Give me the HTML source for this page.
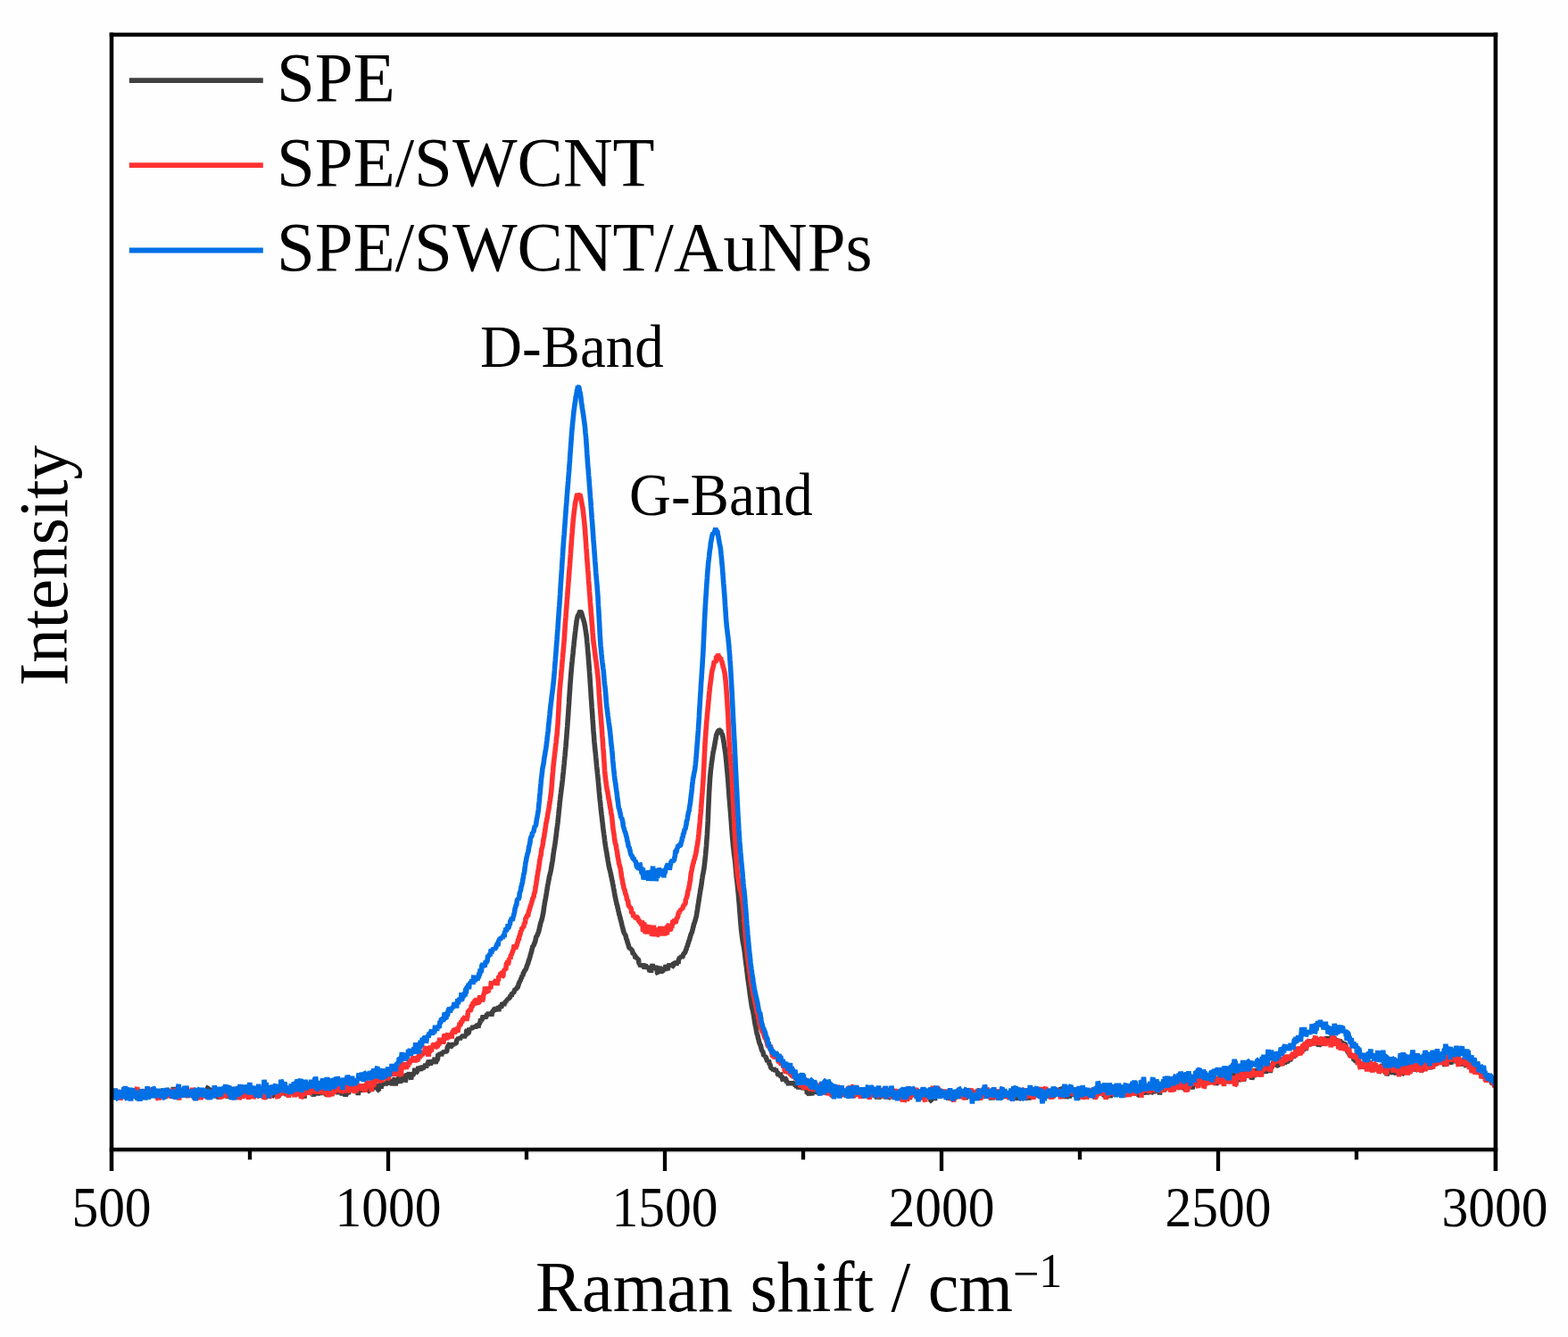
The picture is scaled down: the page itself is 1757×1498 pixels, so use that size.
<!DOCTYPE html>
<html lang="en"><head><meta charset="utf-8"><title>Raman spectra</title>
<style>html,body{margin:0;padding:0;background:#fff;overflow:hidden}svg{display:block}text{font-family:"Liberation Serif","Times New Roman",serif;fill:#000}</style></head><body>
<svg width="1757" height="1498" viewBox="0 0 1757 1498">
<rect width="1757" height="1498" fill="#fefefe"/>
<clipPath id="cp"><rect x="125" y="41" width="1550.5" height="1245"/></clipPath>
<g fill="none" stroke-linejoin="bevel" stroke-linecap="butt" stroke-width="5.6" clip-path="url(#cp)">
<path stroke="#404040" d="M125.0,1226.9 125.5,1230.5 125.9,1224.1 126.4,1229.5 126.8,1223.0 127.3,1225.0 127.7,1230.7 128.2,1223.4 128.6,1222.4 129.1,1220.0 129.5,1225.7 130.0,1226.4 130.4,1223.5 130.9,1227.2 131.3,1222.1 131.8,1222.9 132.2,1222.1 132.7,1224.1 133.1,1222.5 133.6,1223.8 134.0,1225.6 134.5,1222.5 134.9,1224.1 135.4,1229.9 135.8,1227.6 136.3,1228.9 136.7,1228.2 137.2,1223.4 137.6,1221.5 138.1,1227.2 138.5,1223.5 139.0,1218.6 139.4,1223.9 139.9,1223.0 140.3,1225.0 140.8,1225.7 141.2,1220.2 141.7,1223.0 142.1,1222.0 142.6,1222.3 143.0,1224.2 143.5,1228.2 143.9,1227.1 144.4,1227.0 144.8,1232.4 145.3,1228.0 145.7,1226.7 146.2,1228.5 146.6,1222.7 147.1,1229.6 147.5,1228.0 148.0,1230.0 148.4,1227.0 148.9,1227.3 149.3,1222.2 149.8,1221.9 150.2,1227.0 150.7,1226.1 151.1,1225.4 151.6,1228.6 152.0,1224.7 152.5,1221.0 152.9,1223.6 153.4,1228.1 153.8,1227.6 154.3,1223.4 154.7,1222.3 155.2,1227.1 155.6,1228.2 156.1,1226.7 156.5,1226.0 157.0,1224.9 157.4,1226.2 157.9,1221.3 158.3,1223.3 158.8,1223.5 159.2,1226.8 159.7,1227.2 160.1,1229.8 160.6,1230.7 161.0,1229.5 161.5,1225.3 161.9,1228.2 162.4,1223.4 162.8,1227.7 163.3,1221.2 163.7,1227.6 164.2,1223.1 164.6,1221.6 165.1,1222.0 165.5,1224.4 166.0,1222.0 166.4,1223.3 166.9,1219.8 167.3,1221.0 167.8,1222.4 168.2,1220.9 168.7,1224.0 169.1,1223.1 169.6,1227.3 170.0,1224.1 170.5,1222.7 170.9,1226.5 171.4,1224.2 171.8,1226.8 172.3,1222.9 172.7,1226.0 173.2,1223.1 173.6,1229.2 174.1,1224.5 174.5,1225.6 175.0,1223.9 175.4,1222.1 175.9,1228.1 176.3,1226.2 176.8,1220.8 177.2,1223.3 177.7,1224.4 178.1,1225.1 178.6,1222.2 179.0,1227.9 179.5,1225.3 179.9,1226.4 180.4,1225.1 180.8,1223.5 181.3,1224.4 181.7,1220.3 182.2,1221.4 182.6,1221.1 183.1,1224.2 183.5,1220.4 184.0,1224.7 184.4,1227.4 184.9,1224.1 185.3,1229.4 185.8,1226.8 186.2,1225.6 186.7,1227.9 187.1,1224.6 187.6,1223.8 188.0,1222.4 188.5,1225.4 188.9,1225.1 189.4,1226.3 189.8,1226.6 190.3,1227.8 190.7,1225.0 191.2,1228.3 191.6,1226.1 192.1,1221.0 192.5,1225.6 193.0,1224.7 193.4,1222.7 193.9,1226.8 194.3,1217.9 194.8,1224.7 195.2,1221.8 195.7,1220.7 196.1,1223.5 196.6,1228.7 197.0,1223.9 197.5,1228.3 197.9,1226.4 198.4,1226.5 198.8,1224.0 199.3,1222.1 199.7,1222.3 200.2,1224.8 200.6,1221.5 201.1,1226.5 201.5,1225.9 202.0,1221.4 202.4,1226.2 202.9,1222.7 203.3,1225.2 203.8,1222.2 204.2,1221.1 204.7,1224.2 205.1,1228.2 205.6,1225.5 206.0,1227.7 206.5,1222.1 206.9,1221.6 207.4,1224.0 207.8,1220.0 208.3,1220.6 208.7,1228.9 209.2,1223.8 209.6,1228.1 210.1,1224.3 210.5,1225.0 211.0,1226.0 211.4,1225.6 211.9,1229.0 212.3,1223.3 212.8,1224.5 213.2,1224.5 213.7,1224.3 214.1,1220.8 214.6,1221.9 215.0,1224.1 215.5,1222.5 215.9,1224.0 216.4,1221.5 216.8,1224.6 217.3,1224.5 217.7,1222.9 218.2,1222.6 218.6,1225.2 219.1,1221.0 219.5,1220.8 220.0,1227.5 220.4,1225.9 220.9,1227.0 221.3,1226.6 221.8,1228.5 222.2,1222.5 222.7,1224.1 223.1,1226.6 223.6,1227.4 224.0,1223.8 224.5,1231.1 224.9,1224.5 225.4,1226.9 225.8,1222.7 226.3,1226.3 226.7,1223.7 227.2,1220.1 227.6,1221.9 228.1,1224.0 228.5,1227.8 229.0,1226.6 229.4,1224.0 229.9,1228.5 230.3,1226.5 230.8,1228.0 231.2,1224.5 231.7,1229.4 232.1,1226.5 232.6,1218.3 233.0,1218.1 233.5,1222.3 233.9,1221.6 234.4,1225.0 234.8,1224.0 235.3,1220.7 235.7,1220.3 236.2,1219.1 236.6,1226.4 237.1,1224.8 237.5,1225.5 238.0,1221.5 238.4,1225.0 238.9,1224.0 239.3,1223.2 239.8,1223.2 240.2,1219.8 240.7,1221.7 241.1,1220.9 241.6,1224.0 242.0,1225.5 242.5,1230.1 242.9,1224.3 243.4,1223.2 243.8,1229.3 244.3,1225.6 244.7,1224.5 245.2,1231.5 245.6,1227.6 246.1,1221.8 246.5,1218.8 247.0,1220.6 247.4,1222.8 247.9,1230.5 248.3,1224.2 248.8,1221.6 249.2,1229.5 249.7,1226.8 250.1,1221.3 250.6,1224.4 251.0,1226.4 251.5,1223.9 251.9,1226.8 252.4,1226.2 252.8,1222.4 253.3,1225.5 253.7,1226.7 254.2,1229.6 254.6,1226.3 255.1,1230.4 255.5,1223.6 256.0,1222.5 256.4,1223.3 256.9,1230.8 257.3,1225.8 257.8,1227.0 258.2,1222.5 258.7,1227.1 259.1,1220.2 259.6,1223.3 260.0,1221.7 260.5,1218.0 260.9,1220.9 261.4,1222.5 261.8,1225.2 262.3,1222.4 262.7,1228.2 263.2,1226.2 263.6,1225.8 264.1,1220.0 264.5,1221.7 265.0,1224.9 265.4,1223.9 265.9,1223.2 266.3,1223.3 266.8,1230.3 267.2,1227.1 267.7,1225.4 268.1,1221.3 268.6,1221.1 269.0,1221.6 269.5,1221.6 269.9,1228.4 270.4,1220.5 270.8,1222.8 271.3,1220.9 271.7,1225.3 272.2,1221.5 272.6,1220.6 273.1,1222.2 273.5,1220.6 274.0,1223.0 274.4,1224.0 274.9,1221.3 275.3,1221.4 275.8,1225.8 276.2,1226.9 276.7,1223.8 277.1,1225.3 277.6,1225.1 278.0,1220.7 278.5,1224.5 278.9,1222.2 279.4,1219.7 279.8,1222.1 280.3,1222.2 280.7,1222.6 281.2,1223.6 281.6,1219.6 282.1,1225.2 282.5,1222.2 283.0,1225.5 283.4,1222.8 283.9,1223.9 284.3,1221.0 284.8,1225.2 285.2,1218.6 285.7,1223.2 286.1,1221.1 286.6,1218.5 287.0,1226.7 287.5,1221.4 287.9,1225.9 288.4,1227.3 288.8,1226.3 289.3,1227.1 289.7,1223.8 290.2,1224.6 290.6,1227.6 291.1,1226.9 291.5,1225.8 292.0,1225.8 292.4,1222.6 292.9,1223.8 293.3,1224.4 293.8,1223.5 294.2,1222.9 294.7,1228.9 295.1,1225.8 295.6,1227.0 296.0,1223.1 296.5,1227.5 296.9,1228.5 297.4,1231.4 297.8,1223.0 298.3,1225.0 298.7,1222.2 299.2,1222.6 299.6,1222.6 300.1,1219.6 300.5,1224.0 301.0,1223.2 301.4,1221.7 301.9,1227.0 302.3,1222.5 302.8,1222.2 303.2,1227.3 303.7,1225.1 304.1,1224.4 304.6,1224.8 305.0,1228.4 305.5,1228.1 305.9,1225.4 306.4,1224.1 306.8,1228.2 307.3,1227.1 307.7,1224.8 308.2,1227.4 308.6,1225.6 309.1,1226.8 309.5,1229.1 310.0,1221.0 310.4,1223.0 310.9,1220.3 311.3,1218.0 311.8,1222.6 312.2,1229.3 312.7,1225.4 313.1,1228.0 313.6,1222.6 314.0,1225.7 314.5,1224.0 314.9,1224.2 315.4,1226.8 315.8,1224.0 316.3,1222.7 316.7,1222.7 317.2,1222.6 317.6,1223.3 318.1,1220.8 318.5,1224.5 319.0,1226.7 319.4,1224.3 319.9,1226.7 320.3,1223.9 320.8,1224.8 321.2,1228.2 321.7,1221.5 322.1,1220.7 322.6,1222.0 323.0,1220.3 323.5,1224.5 323.9,1225.5 324.4,1219.8 324.8,1226.7 325.3,1221.9 325.7,1223.7 326.2,1225.9 326.6,1224.4 327.1,1221.6 327.5,1219.9 328.0,1227.2 328.4,1221.5 328.9,1227.1 329.3,1220.3 329.8,1219.6 330.2,1220.9 330.7,1227.7 331.1,1218.7 331.6,1221.4 332.0,1227.2 332.5,1223.4 332.9,1220.3 333.4,1227.9 333.8,1221.2 334.3,1226.1 334.7,1227.1 335.2,1225.7 335.6,1223.7 336.1,1227.2 336.5,1226.2 337.0,1223.3 337.4,1226.5 337.9,1225.5 338.3,1226.8 338.8,1227.1 339.2,1227.3 339.7,1221.6 340.1,1221.4 340.6,1223.9 341.0,1230.6 341.5,1221.5 341.9,1221.0 342.4,1220.4 342.8,1219.3 343.3,1224.3 343.7,1218.5 344.2,1222.6 344.6,1221.2 345.1,1224.9 345.5,1221.8 346.0,1226.3 346.4,1219.9 346.9,1221.8 347.3,1223.5 347.8,1222.3 348.2,1222.9 348.7,1218.5 349.1,1225.1 349.6,1226.8 350.0,1225.7 350.5,1220.1 350.9,1221.5 351.4,1228.7 351.8,1221.4 352.3,1222.8 352.7,1223.9 353.2,1225.5 353.6,1224.2 354.1,1220.0 354.5,1222.8 355.0,1219.9 355.4,1224.3 355.9,1222.8 356.3,1227.3 356.8,1223.2 357.2,1225.2 357.7,1221.7 358.1,1218.2 358.6,1220.0 359.0,1220.8 359.5,1225.3 359.9,1218.0 360.4,1223.9 360.8,1223.9 361.3,1224.9 361.7,1225.1 362.2,1222.9 362.6,1225.3 363.1,1225.1 363.5,1223.9 364.0,1223.8 364.4,1225.4 364.9,1219.8 365.3,1221.3 365.8,1226.6 366.2,1228.1 366.7,1226.4 367.1,1219.2 367.6,1226.2 368.0,1223.9 368.5,1223.9 368.9,1220.4 369.4,1221.5 369.8,1223.3 370.3,1221.4 370.7,1223.9 371.2,1221.2 371.6,1219.1 372.1,1214.7 372.5,1220.2 373.0,1221.5 373.4,1215.3 373.9,1224.9 374.3,1220.7 374.8,1220.1 375.2,1216.0 375.7,1214.2 376.1,1217.2 376.6,1216.4 377.0,1219.2 377.5,1219.2 377.9,1221.4 378.4,1226.1 378.8,1220.7 379.3,1218.3 379.7,1220.5 380.2,1221.3 380.6,1220.7 381.1,1218.8 381.5,1222.8 382.0,1224.6 382.4,1221.1 382.9,1223.6 383.3,1227.5 383.8,1221.6 384.2,1225.1 384.7,1222.6 385.1,1227.0 385.6,1224.2 386.0,1224.1 386.5,1224.7 386.9,1228.5 387.4,1226.8 387.8,1223.2 388.3,1227.1 388.7,1224.4 389.2,1225.7 389.6,1224.7 390.1,1223.7 390.5,1225.9 391.0,1221.4 391.4,1220.0 391.9,1217.6 392.3,1218.9 392.8,1216.4 393.2,1218.2 393.7,1219.6 394.1,1218.3 394.6,1218.0 395.0,1219.5 395.5,1215.3 395.9,1220.4 396.4,1222.7 396.8,1216.3 397.3,1216.0 397.7,1218.9 398.2,1214.7 398.6,1223.2 399.1,1221.0 399.5,1222.9 400.0,1220.9 400.4,1222.7 400.9,1223.9 401.3,1226.8 401.8,1222.7 402.2,1223.4 402.7,1218.3 403.1,1217.4 403.6,1219.6 404.0,1223.0 404.5,1221.9 404.9,1215.7 405.4,1216.3 405.8,1223.3 406.3,1220.6 406.7,1222.5 407.2,1221.6 407.6,1223.2 408.1,1221.1 408.5,1217.9 409.0,1220.6 409.4,1220.5 409.9,1218.0 410.3,1220.5 410.8,1222.6 411.2,1217.0 411.7,1218.7 412.1,1216.2 412.6,1219.6 413.0,1222.6 413.5,1222.6 413.9,1221.2 414.4,1217.7 414.8,1219.2 415.3,1218.9 415.7,1215.7 416.2,1220.1 416.6,1222.4 417.1,1220.1 417.5,1220.5 418.0,1216.2 418.4,1218.5 418.9,1217.0 419.3,1215.8 419.8,1220.9 420.2,1215.0 420.7,1218.8 421.1,1218.7 421.6,1214.2 422.0,1219.5 422.5,1219.0 422.9,1220.7 423.4,1216.2 423.8,1221.7 424.3,1221.8 424.7,1215.8 425.2,1215.8 425.6,1218.7 426.1,1215.6 426.5,1213.9 427.0,1219.8 427.4,1215.5 427.9,1214.8 428.3,1215.0 428.8,1216.3 429.2,1215.1 429.7,1214.8 430.1,1213.7 430.6,1215.0 431.0,1214.0 431.5,1214.5 431.9,1212.8 432.4,1214.0 432.8,1213.5 433.3,1212.2 433.7,1214.4 434.2,1214.6 434.6,1213.2 435.1,1209.7 435.5,1210.3 436.0,1213.9 436.4,1213.3 436.9,1215.3 437.3,1212.9 437.8,1215.6 438.2,1209.5 438.7,1211.7 439.1,1210.9 439.6,1213.9 440.0,1216.2 440.5,1209.0 440.9,1211.8 441.4,1212.4 441.8,1209.1 442.3,1208.0 442.7,1210.3 443.2,1216.6 443.6,1211.0 444.1,1211.9 444.5,1214.1 445.0,1209.1 445.4,1209.6 445.9,1209.6 446.3,1208.7 446.8,1210.2 447.2,1204.9 447.7,1205.5 448.1,1210.4 448.6,1213.9 449.0,1207.7 449.5,1210.5 449.9,1208.7 450.4,1204.0 450.8,1207.8 451.3,1207.8 451.7,1204.6 452.2,1203.3 452.6,1208.6 453.1,1210.9 453.5,1206.5 454.0,1212.2 454.4,1211.2 454.9,1205.4 455.3,1205.0 455.8,1203.5 456.2,1205.0 456.7,1202.8 457.1,1204.7 457.6,1205.4 458.0,1204.2 458.5,1201.3 458.9,1205.3 459.4,1206.8 459.8,1204.6 460.3,1207.8 460.7,1209.6 461.2,1201.7 461.6,1204.9 462.1,1205.8 462.5,1204.2 463.0,1205.0 463.4,1203.2 463.9,1201.4 464.3,1203.1 464.8,1196.6 465.2,1200.9 465.7,1198.6 466.1,1200.1 466.6,1201.8 467.0,1201.6 467.5,1199.3 467.9,1198.5 468.4,1200.5 468.8,1195.0 469.3,1195.9 469.7,1197.8 470.2,1199.4 470.6,1196.5 471.1,1200.0 471.5,1196.9 472.0,1198.5 472.4,1199.1 472.9,1193.8 473.3,1195.5 473.8,1194.7 474.2,1197.1 474.7,1196.6 475.1,1193.6 475.6,1196.1 476.0,1193.5 476.5,1193.8 476.9,1191.7 477.4,1196.2 477.8,1195.0 478.3,1193.5 478.7,1192.0 479.2,1194.5 479.6,1190.4 480.1,1189.7 480.5,1188.0 481.0,1191.6 481.4,1191.8 481.9,1187.5 482.3,1193.6 482.8,1190.7 483.2,1187.5 483.7,1189.0 484.1,1191.6 484.6,1190.0 485.0,1188.1 485.5,1188.2 485.9,1188.3 486.4,1188.0 486.8,1186.8 487.3,1185.1 487.7,1190.0 488.2,1191.9 488.6,1189.3 489.1,1186.6 489.5,1189.0 490.0,1187.3 490.4,1187.0 490.9,1180.7 491.3,1183.2 491.8,1181.3 492.2,1180.5 492.7,1182.6 493.1,1181.0 493.6,1180.3 494.0,1179.6 494.5,1183.3 494.9,1180.9 495.4,1179.1 495.8,1180.6 496.3,1178.1 496.7,1180.0 497.2,1179.1 497.6,1176.7 498.1,1178.2 498.5,1177.1 499.0,1177.9 499.4,1178.7 499.9,1178.2 500.3,1178.4 500.8,1177.5 501.2,1174.0 501.7,1172.4 502.1,1172.2 502.6,1173.3 503.0,1170.0 503.5,1169.7 503.9,1172.7 504.4,1170.9 504.8,1172.9 505.3,1172.7 505.7,1172.4 506.2,1171.7 506.6,1168.4 507.1,1170.2 507.5,1171.4 508.0,1168.3 508.4,1169.6 508.9,1171.1 509.3,1169.1 509.8,1169.9 510.2,1170.0 510.7,1168.8 511.1,1169.6 511.6,1166.5 512.0,1165.4 512.5,1164.2 512.9,1164.4 513.4,1163.5 513.8,1163.0 514.3,1165.0 514.7,1163.7 515.2,1165.1 515.6,1163.7 516.1,1161.2 516.5,1162.2 517.0,1163.1 517.4,1161.0 517.9,1161.5 518.3,1160.1 518.8,1163.3 519.2,1158.5 519.7,1160.9 520.1,1163.1 520.6,1161.2 521.0,1160.0 521.5,1161.3 521.9,1159.3 522.4,1159.2 522.8,1154.7 523.3,1154.1 523.7,1157.6 524.2,1157.7 524.6,1157.8 525.1,1157.7 525.5,1155.8 526.0,1151.7 526.4,1153.7 526.9,1153.5 527.3,1153.3 527.8,1153.9 528.2,1151.2 528.7,1153.7 529.1,1152.0 529.6,1150.7 530.0,1149.1 530.5,1151.8 530.9,1148.8 531.4,1152.3 531.8,1148.8 532.3,1149.8 532.7,1152.4 533.2,1150.0 533.6,1149.2 534.1,1150.3 534.5,1147.4 535.0,1147.8 535.4,1148.5 535.9,1151.5 536.3,1148.7 536.8,1147.5 537.2,1147.7 537.7,1145.3 538.1,1146.3 538.6,1141.4 539.0,1142.5 539.5,1144.1 539.9,1142.6 540.4,1142.4 540.8,1139.8 541.3,1137.7 541.7,1138.8 542.2,1140.0 542.6,1138.5 543.1,1140.1 543.5,1141.4 544.0,1139.1 544.4,1139.9 544.9,1138.9 545.3,1137.6 545.8,1135.6 546.2,1137.1 546.7,1135.1 547.1,1138.0 547.6,1133.6 548.0,1136.6 548.5,1138.2 548.9,1135.3 549.4,1137.1 549.8,1134.1 550.3,1136.3 550.7,1138.5 551.2,1135.7 551.6,1133.5 552.1,1133.2 552.5,1133.2 553.0,1132.9 553.4,1131.1 553.9,1130.4 554.3,1130.4 554.8,1132.1 555.2,1132.3 555.7,1133.3 556.1,1129.7 556.6,1131.1 557.0,1131.8 557.5,1129.7 557.9,1132.6 558.4,1126.9 558.8,1133.3 559.3,1128.5 559.7,1128.6 560.2,1130.2 560.6,1126.5 561.1,1126.6 561.5,1129.1 562.0,1127.8 562.4,1125.9 562.9,1123.5 563.3,1126.6 563.8,1122.8 564.2,1124.7 564.7,1127.0 565.1,1124.4 565.6,1124.9 566.0,1121.8 566.5,1122.5 566.9,1122.9 567.4,1120.6 567.8,1120.7 568.3,1121.1 568.7,1119.4 569.2,1119.3 569.6,1120.4 570.1,1117.6 570.5,1118.8 571.0,1117.8 571.4,1117.6 571.9,1115.9 572.3,1114.8 572.8,1115.9 573.2,1116.7 573.7,1111.9 574.1,1113.9 574.6,1112.6 575.0,1112.6 575.5,1113.2 575.9,1111.4 576.4,1110.3 576.8,1109.1 577.3,1108.1 577.7,1109.1 578.2,1108.0 578.6,1108.6 579.1,1106.9 579.5,1106.5 580.0,1107.4 580.4,1104.3 580.9,1104.1 581.3,1102.1 581.8,1100.8 582.2,1100.4 582.7,1098.7 583.1,1099.2 583.6,1097.0 584.0,1096.0 584.5,1096.2 584.9,1093.2 585.4,1093.3 585.8,1093.6 586.3,1090.5 586.7,1089.7 587.2,1089.4 587.6,1088.0 588.1,1086.9 588.5,1087.7 589.0,1085.7 589.4,1085.4 589.9,1084.0 590.3,1082.3 590.8,1081.5 591.2,1080.4 591.7,1079.5 592.1,1077.4 592.6,1076.2 593.0,1075.0 593.5,1073.3 593.9,1072.3 594.4,1069.6 594.8,1069.0 595.3,1066.6 595.7,1065.8 596.2,1063.1 596.6,1061.8 597.1,1059.8 597.5,1059.8 598.0,1059.1 598.4,1058.5 598.9,1056.5 599.3,1056.1 599.8,1054.5 600.2,1052.4 600.7,1050.1 601.1,1049.3 601.6,1048.8 602.0,1047.9 602.5,1046.6 602.9,1045.6 603.4,1044.7 603.8,1042.8 604.3,1040.9 604.7,1038.8 605.2,1037.0 605.6,1034.7 606.1,1033.2 606.5,1032.2 607.0,1030.7 607.4,1028.9 607.9,1027.0 608.3,1024.7 608.8,1022.6 609.2,1019.5 609.7,1015.9 610.1,1013.5 610.6,1010.4 611.0,1008.4 611.5,1006.1 611.9,1003.3 612.4,1000.5 612.8,997.7 613.3,995.0 613.7,991.9 614.2,989.8 614.6,987.5 615.1,985.1 615.5,982.2 616.0,980.5 616.4,979.1 616.9,976.9 617.3,975.0 617.8,972.1 618.2,969.5 618.7,966.9 619.1,964.5 619.6,961.0 620.0,957.5 620.5,954.2 620.9,951.5 621.4,949.1 621.8,946.3 622.3,943.0 622.7,939.7 623.2,936.2 623.6,932.1 624.1,928.7 624.5,925.2 625.0,921.6 625.4,917.5 625.9,913.0 626.3,908.3 626.8,904.1 627.2,899.5 627.7,895.6 628.1,891.7 628.6,888.3 629.0,884.5 629.5,880.9 629.9,877.5 630.4,873.5 630.8,869.0 631.3,864.6 631.7,860.2 632.2,855.7 632.6,850.8 633.1,846.3 633.5,841.5 634.0,836.5 634.4,831.0 634.9,825.1 635.3,819.3 635.8,813.3 636.2,807.0 636.7,800.8 637.1,794.1 637.6,787.4 638.0,780.4 638.5,773.2 638.9,767.1 639.4,760.9 639.8,755.2 640.3,749.7 640.7,744.9 641.2,740.2 641.6,736.1 642.1,732.0 642.5,727.0 643.0,722.6 643.4,718.4 643.9,714.4 644.3,710.3 644.8,706.6 645.2,702.8 645.7,699.5 646.1,695.7 646.6,693.5 647.0,691.7 647.5,689.8 647.9,689.4 648.4,688.6 648.8,687.6 649.3,686.4 649.7,685.3 650.2,684.6 650.6,685.3 651.1,685.6 651.5,686.8 652.0,688.2 652.4,689.6 652.9,691.5 653.3,693.1 653.8,694.2 654.2,695.8 654.7,697.3 655.1,699.9 655.6,701.8 656.0,704.9 656.5,707.9 656.9,711.0 657.4,714.4 657.8,719.2 658.3,724.3 658.7,729.5 659.2,735.0 659.6,740.5 660.1,746.6 660.5,752.8 661.0,759.4 661.4,766.1 661.9,773.3 662.3,780.3 662.8,786.7 663.2,793.0 663.7,799.5 664.1,806.0 664.6,812.7 665.0,818.9 665.5,824.8 665.9,830.5 666.4,835.7 666.8,839.6 667.3,844.1 667.7,848.6 668.2,853.7 668.6,858.5 669.1,862.7 669.5,867.0 670.0,871.5 670.4,876.1 670.9,881.3 671.3,886.5 671.8,891.6 672.2,896.0 672.7,899.8 673.1,904.1 673.6,908.6 674.0,912.3 674.5,916.1 674.9,919.9 675.4,924.0 675.8,927.9 676.3,931.6 676.7,934.6 677.2,938.1 677.6,941.6 678.1,945.3 678.5,948.2 679.0,950.9 679.4,953.6 679.9,955.5 680.3,959.3 680.8,961.2 681.2,964.1 681.7,967.1 682.1,969.5 682.6,971.6 683.0,973.7 683.5,975.0 683.9,976.8 684.4,979.0 684.8,981.6 685.3,983.3 685.7,985.9 686.2,987.5 686.6,990.0 687.1,992.3 687.5,995.2 688.0,997.1 688.4,999.7 688.9,1002.5 689.3,1004.9 689.8,1007.0 690.2,1008.9 690.7,1011.1 691.1,1013.3 691.6,1014.2 692.0,1016.9 692.5,1018.1 692.9,1020.5 693.4,1022.2 693.8,1024.4 694.3,1025.9 694.7,1027.3 695.2,1029.6 695.6,1031.0 696.1,1032.8 696.5,1034.5 697.0,1036.9 697.4,1038.3 697.9,1040.1 698.3,1042.0 698.8,1043.5 699.2,1045.6 699.7,1045.7 700.1,1047.0 700.6,1047.2 701.0,1048.1 701.5,1050.3 701.9,1052.6 702.4,1052.7 702.8,1054.5 703.3,1056.4 703.7,1057.6 704.2,1058.5 704.6,1060.5 705.1,1061.9 705.5,1062.8 706.0,1062.0 706.4,1062.8 706.9,1064.3 707.3,1063.8 707.8,1063.9 708.2,1064.9 708.7,1065.1 709.1,1068.1 709.6,1069.2 710.0,1068.5 710.5,1069.3 710.9,1069.9 711.4,1069.9 711.8,1072.6 712.3,1073.7 712.7,1072.2 713.2,1072.9 713.6,1073.8 714.1,1073.7 714.5,1075.0 715.0,1074.7 715.4,1075.0 715.9,1078.6 716.3,1080.1 716.8,1079.9 717.2,1081.4 717.7,1082.4 718.1,1081.9 718.6,1081.0 719.0,1081.3 719.5,1081.8 719.9,1080.0 720.4,1081.3 720.8,1084.1 721.3,1083.2 721.7,1081.4 722.2,1085.7 722.6,1083.3 723.1,1081.2 723.5,1080.9 724.0,1083.3 724.4,1084.6 724.9,1083.5 725.3,1085.7 725.8,1084.6 726.2,1084.7 726.7,1082.0 727.1,1084.2 727.6,1086.9 728.0,1088.5 728.5,1087.9 728.9,1084.0 729.4,1089.7 729.8,1086.5 730.3,1082.8 730.7,1082.8 731.2,1079.9 731.6,1084.9 732.1,1086.7 732.5,1085.4 733.0,1086.8 733.4,1084.5 733.9,1081.6 734.3,1087.1 734.8,1084.1 735.2,1087.1 735.7,1082.3 736.1,1084.2 736.6,1090.4 737.0,1090.7 737.5,1086.0 737.9,1084.3 738.4,1085.7 738.8,1084.6 739.3,1082.9 739.7,1085.3 740.2,1083.4 740.6,1090.5 741.1,1087.7 741.5,1086.9 742.0,1084.8 742.4,1088.3 742.9,1087.6 743.3,1087.5 743.8,1084.5 744.2,1086.1 744.7,1085.5 745.1,1086.6 745.6,1086.0 746.0,1081.1 746.5,1082.5 746.9,1084.8 747.4,1086.8 747.8,1085.6 748.3,1087.1 748.7,1082.3 749.2,1082.8 749.6,1083.7 750.1,1079.4 750.5,1082.0 751.0,1082.9 751.4,1079.5 751.9,1081.1 752.3,1082.2 752.8,1083.2 753.2,1080.1 753.7,1083.0 754.1,1082.9 754.6,1078.6 755.0,1078.8 755.5,1079.9 755.9,1081.5 756.4,1078.0 756.8,1079.6 757.3,1079.2 757.7,1081.4 758.2,1080.0 758.6,1078.2 759.1,1077.1 759.5,1077.6 760.0,1079.8 760.4,1075.0 760.9,1074.5 761.3,1073.4 761.8,1073.1 762.2,1071.9 762.7,1072.3 763.1,1072.0 763.6,1072.3 764.0,1073.8 764.5,1071.9 764.9,1072.4 765.4,1069.8 765.8,1069.2 766.3,1068.5 766.7,1068.1 767.2,1067.8 767.6,1066.9 768.1,1066.2 768.5,1064.1 769.0,1063.9 769.4,1061.6 769.9,1060.6 770.3,1060.5 770.8,1057.5 771.2,1057.1 771.7,1054.5 772.1,1054.1 772.6,1053.1 773.0,1050.7 773.5,1049.7 773.9,1047.6 774.4,1046.8 774.8,1045.3 775.3,1045.0 775.7,1042.8 776.2,1041.4 776.6,1039.1 777.1,1037.9 777.5,1035.3 778.0,1034.6 778.4,1033.4 778.9,1031.5 779.3,1030.2 779.8,1028.1 780.2,1026.8 780.7,1023.9 781.1,1021.2 781.6,1018.4 782.0,1015.3 782.5,1012.3 782.9,1009.7 783.4,1006.8 783.8,1003.6 784.3,1000.9 784.7,998.0 785.2,995.6 785.6,993.0 786.1,990.4 786.5,986.6 787.0,983.6 787.4,980.7 787.9,978.6 788.3,976.1 788.8,973.6 789.2,970.4 789.7,966.2 790.1,962.2 790.6,957.7 791.0,952.8 791.5,947.7 791.9,941.6 792.4,935.0 792.8,927.9 793.3,919.2 793.7,907.9 794.2,896.6 794.6,887.5 795.1,879.8 795.5,872.8 796.0,867.3 796.4,862.8 796.9,859.0 797.3,855.5 797.8,852.2 798.2,849.0 798.7,845.7 799.1,842.9 799.6,840.6 800.0,838.6 800.5,836.6 800.9,833.7 801.4,831.1 801.8,828.6 802.3,826.0 802.7,823.6 803.2,822.4 803.6,821.4 804.1,820.3 804.5,819.1 805.0,818.9 805.4,818.4 805.9,817.9 806.3,818.0 806.8,818.6 807.2,818.5 807.7,818.2 808.1,821.0 808.6,821.9 809.0,821.8 809.5,823.9 809.9,824.9 810.4,827.7 810.8,830.1 811.3,832.9 811.7,836.2 812.2,839.3 812.6,842.0 813.1,846.0 813.5,849.6 814.0,854.5 814.4,859.3 814.9,864.3 815.3,868.8 815.8,874.2 816.2,880.4 816.7,886.5 817.1,893.0 817.6,898.7 818.0,904.1 818.5,909.5 818.9,915.0 819.4,921.4 819.8,927.5 820.3,933.5 820.7,938.9 821.2,943.8 821.6,948.4 822.1,952.5 822.5,956.3 823.0,960.0 823.4,963.2 823.9,967.2 824.3,972.0 824.8,977.3 825.2,982.0 825.7,986.0 826.1,989.5 826.6,994.2 827.0,998.8 827.5,1003.5 827.9,1008.7 828.4,1014.3 828.8,1020.0 829.3,1026.1 829.7,1031.8 830.2,1037.3 830.6,1041.7 831.1,1045.9 831.5,1049.3 832.0,1052.7 832.4,1055.6 832.9,1058.0 833.3,1060.1 833.8,1063.2 834.2,1065.9 834.7,1069.5 835.1,1073.6 835.6,1077.3 836.0,1080.6 836.5,1083.9 836.9,1087.6 837.4,1091.4 837.8,1095.5 838.3,1098.7 838.7,1101.7 839.2,1104.8 839.6,1108.1 840.1,1111.9 840.5,1115.1 841.0,1118.0 841.4,1121.4 841.9,1123.9 842.3,1127.4 842.8,1129.5 843.2,1131.0 843.7,1132.5 844.1,1135.4 844.6,1137.8 845.0,1140.6 845.5,1143.8 845.9,1146.4 846.4,1148.9 846.8,1150.2 847.3,1153.5 847.7,1155.8 848.2,1158.2 848.6,1159.3 849.1,1160.6 849.5,1163.2 850.0,1164.6 850.4,1166.7 850.9,1168.1 851.3,1169.8 851.8,1170.0 852.2,1171.5 852.7,1173.0 853.1,1174.9 853.6,1176.8 854.0,1177.4 854.5,1178.0 854.9,1178.6 855.4,1180.7 855.8,1183.2 856.3,1182.4 856.7,1183.7 857.2,1182.6 857.6,1183.7 858.1,1184.7 858.5,1185.1 859.0,1186.9 859.4,1187.8 859.9,1189.9 860.3,1189.0 860.8,1189.2 861.2,1187.9 861.7,1189.2 862.1,1192.9 862.6,1192.4 863.0,1193.0 863.5,1195.4 863.9,1196.8 864.4,1196.7 864.8,1197.8 865.3,1197.5 865.7,1196.5 866.2,1198.7 866.6,1199.3 867.1,1196.1 867.5,1198.3 868.0,1199.5 868.4,1199.3 868.9,1200.5 869.3,1197.3 869.8,1200.4 870.2,1200.4 870.7,1200.6 871.1,1200.5 871.6,1204.7 872.0,1204.0 872.5,1205.9 872.9,1204.3 873.4,1204.0 873.8,1206.0 874.3,1202.2 874.7,1203.0 875.2,1207.6 875.6,1206.7 876.1,1205.6 876.5,1207.0 877.0,1209.9 877.4,1210.3 877.9,1209.0 878.3,1207.0 878.8,1209.0 879.2,1206.5 879.7,1209.5 880.1,1208.5 880.6,1208.6 881.0,1210.6 881.5,1213.1 881.9,1211.9 882.4,1212.6 882.8,1213.2 883.3,1214.3 883.7,1215.8 884.2,1213.9 884.6,1214.1 885.1,1213.7 885.5,1211.6 886.0,1213.5 886.4,1215.9 886.9,1211.6 887.3,1214.7 887.8,1211.4 888.2,1212.9 888.7,1216.1 889.1,1214.3 889.6,1215.0 890.0,1214.7 890.5,1215.7 890.9,1213.9 891.4,1217.7 891.8,1214.1 892.3,1214.2 892.7,1219.3 893.2,1213.3 893.6,1216.6 894.1,1218.2 894.5,1216.3 895.0,1220.3 895.4,1213.5 895.9,1213.8 896.3,1218.4 896.8,1218.8 897.2,1216.0 897.7,1217.2 898.1,1215.2 898.6,1215.3 899.0,1216.9 899.5,1215.0 899.9,1221.3 900.4,1217.9 900.8,1218.7 901.3,1216.7 901.7,1217.0 902.2,1217.2 902.6,1220.1 903.1,1215.7 903.5,1220.4 904.0,1221.3 904.4,1225.6 904.9,1224.2 905.3,1225.3 905.8,1225.4 906.2,1224.9 906.7,1227.1 907.1,1222.7 907.6,1225.6 908.0,1223.3 908.5,1223.7 908.9,1220.6 909.4,1225.5 909.8,1227.3 910.3,1220.6 910.7,1222.1 911.2,1224.7 911.6,1218.4 912.1,1222.1 912.5,1218.3 913.0,1223.2 913.4,1219.5 913.9,1220.1 914.3,1217.6 914.8,1225.5 915.2,1224.0 915.7,1221.7 916.1,1222.9 916.6,1226.1 917.0,1222.3 917.5,1220.0 917.9,1219.0 918.4,1225.0 918.8,1222.0 919.3,1221.8 919.7,1218.0 920.2,1217.3 920.6,1217.9 921.1,1219.0 921.5,1222.0 922.0,1221.5 922.4,1223.8 922.9,1222.5 923.3,1221.4 923.8,1223.4 924.2,1219.5 924.7,1222.8 925.1,1223.3 925.6,1220.4 926.0,1225.9 926.5,1220.1 926.9,1225.3 927.4,1222.6 927.8,1220.5 928.3,1223.0 928.7,1221.5 929.2,1220.5 929.6,1213.9 930.1,1223.2 930.5,1223.5 931.0,1225.4 931.4,1220.0 931.9,1223.0 932.3,1229.1 932.8,1227.1 933.2,1228.3 933.7,1225.4 934.1,1230.0 934.6,1220.2 935.0,1228.6 935.5,1226.3 935.9,1227.3 936.4,1225.6 936.8,1225.8 937.3,1220.1 937.7,1222.2 938.2,1223.3 938.6,1225.6 939.1,1224.7 939.5,1220.3 940.0,1226.6 940.4,1227.3 940.9,1221.0 941.3,1220.5 941.8,1221.5 942.2,1220.3 942.7,1225.6 943.1,1227.7 943.6,1226.3 944.0,1222.6 944.5,1221.0 944.9,1220.7 945.4,1223.9 945.8,1225.2 946.3,1223.8 946.7,1223.3 947.2,1220.0 947.6,1225.5 948.1,1221.5 948.5,1222.8 949.0,1222.5 949.4,1220.5 949.9,1227.5 950.3,1222.2 950.8,1225.8 951.2,1227.1 951.7,1227.0 952.1,1223.5 952.6,1227.8 953.0,1224.6 953.5,1222.6 953.9,1221.0 954.4,1229.3 954.8,1226.7 955.3,1226.8 955.7,1226.4 956.2,1225.5 956.6,1228.4 957.1,1225.0 957.5,1220.8 958.0,1219.3 958.4,1223.6 958.9,1224.6 959.3,1221.1 959.8,1219.9 960.2,1217.5 960.7,1223.2 961.1,1222.2 961.6,1221.6 962.0,1224.2 962.5,1221.6 962.9,1225.8 963.4,1221.7 963.8,1226.5 964.3,1225.1 964.7,1221.9 965.2,1228.0 965.6,1225.6 966.1,1227.4 966.5,1225.2 967.0,1228.3 967.4,1223.4 967.9,1221.8 968.3,1229.2 968.8,1226.4 969.2,1226.1 969.7,1227.1 970.1,1226.5 970.6,1221.7 971.0,1227.1 971.5,1225.9 971.9,1227.3 972.4,1225.4 972.8,1224.5 973.3,1229.4 973.7,1221.9 974.2,1225.8 974.6,1226.8 975.1,1229.8 975.5,1226.2 976.0,1224.0 976.4,1227.1 976.9,1222.4 977.3,1222.4 977.8,1225.6 978.2,1223.9 978.7,1224.3 979.1,1222.4 979.6,1221.6 980.0,1221.0 980.5,1226.4 980.9,1228.9 981.4,1224.1 981.8,1227.5 982.3,1224.8 982.7,1231.6 983.2,1221.5 983.6,1229.3 984.1,1230.7 984.5,1224.0 985.0,1227.5 985.4,1226.1 985.9,1223.9 986.3,1229.3 986.8,1229.4 987.2,1228.3 987.7,1224.8 988.1,1227.0 988.6,1222.9 989.0,1225.2 989.5,1221.3 989.9,1226.4 990.4,1222.8 990.8,1226.2 991.3,1228.1 991.7,1227.1 992.2,1227.4 992.6,1231.1 993.1,1229.2 993.5,1227.3 994.0,1227.9 994.4,1222.5 994.9,1229.7 995.3,1228.8 995.8,1223.0 996.2,1228.7 996.7,1229.9 997.1,1229.9 997.6,1227.4 998.0,1225.2 998.5,1223.9 998.9,1224.6 999.4,1224.0 999.8,1227.0 1000.3,1222.9 1000.7,1225.0 1001.2,1229.3 1001.6,1221.6 1002.1,1227.0 1002.5,1227.7 1003.0,1222.7 1003.4,1224.6 1003.9,1221.2 1004.3,1223.4 1004.8,1223.6 1005.2,1227.5 1005.7,1223.6 1006.1,1224.8 1006.6,1229.1 1007.0,1229.7 1007.5,1230.6 1007.9,1231.5 1008.4,1226.2 1008.8,1225.6 1009.3,1225.4 1009.7,1229.6 1010.2,1228.5 1010.6,1228.5 1011.1,1223.7 1011.5,1223.5 1012.0,1226.5 1012.4,1224.6 1012.9,1224.4 1013.3,1226.7 1013.8,1230.3 1014.2,1231.2 1014.7,1224.5 1015.1,1222.1 1015.6,1221.4 1016.0,1226.2 1016.5,1227.7 1016.9,1225.7 1017.4,1225.2 1017.8,1229.3 1018.3,1221.7 1018.7,1226.4 1019.2,1230.6 1019.6,1230.2 1020.1,1225.3 1020.5,1222.9 1021.0,1224.6 1021.4,1228.0 1021.9,1225.6 1022.3,1225.3 1022.8,1224.8 1023.2,1220.9 1023.7,1225.3 1024.1,1229.1 1024.6,1222.6 1025.0,1223.5 1025.5,1221.3 1025.9,1222.9 1026.4,1222.2 1026.8,1226.6 1027.3,1228.8 1027.7,1228.4 1028.2,1224.2 1028.6,1224.7 1029.1,1231.5 1029.5,1229.7 1030.0,1224.7 1030.4,1228.0 1030.9,1228.0 1031.3,1227.7 1031.8,1226.1 1032.2,1227.2 1032.7,1227.1 1033.1,1231.7 1033.6,1227.6 1034.0,1229.0 1034.5,1223.6 1034.9,1224.7 1035.4,1226.2 1035.8,1227.1 1036.3,1225.1 1036.7,1225.6 1037.2,1227.1 1037.6,1228.2 1038.1,1224.4 1038.5,1227.7 1039.0,1225.1 1039.4,1227.4 1039.9,1227.0 1040.3,1226.0 1040.8,1226.2 1041.2,1226.3 1041.7,1223.6 1042.1,1231.8 1042.6,1230.3 1043.0,1233.6 1043.5,1233.7 1043.9,1227.0 1044.4,1233.0 1044.8,1227.5 1045.3,1230.3 1045.7,1225.2 1046.2,1230.6 1046.6,1226.6 1047.1,1222.4 1047.5,1233.0 1048.0,1226.7 1048.4,1226.6 1048.9,1227.4 1049.3,1223.6 1049.8,1222.9 1050.2,1229.4 1050.7,1226.8 1051.1,1227.6 1051.6,1225.2 1052.0,1228.4 1052.5,1226.1 1052.9,1225.5 1053.4,1226.0 1053.8,1224.5 1054.3,1230.1 1054.7,1225.2 1055.2,1227.9 1055.6,1229.4 1056.1,1224.5 1056.5,1228.9 1057.0,1224.2 1057.4,1224.8 1057.9,1225.4 1058.3,1227.2 1058.8,1227.5 1059.2,1225.5 1059.7,1221.8 1060.1,1223.5 1060.6,1227.2 1061.0,1227.3 1061.5,1227.7 1061.9,1228.0 1062.4,1224.5 1062.8,1232.8 1063.3,1227.9 1063.7,1232.5 1064.2,1228.6 1064.6,1228.8 1065.1,1226.7 1065.5,1232.1 1066.0,1224.4 1066.4,1227.5 1066.9,1231.0 1067.3,1229.0 1067.8,1227.9 1068.2,1223.5 1068.7,1228.1 1069.1,1223.4 1069.6,1224.3 1070.0,1222.2 1070.5,1223.3 1070.9,1223.5 1071.4,1227.0 1071.8,1229.6 1072.3,1229.8 1072.7,1222.9 1073.2,1227.9 1073.6,1230.8 1074.1,1228.1 1074.5,1223.7 1075.0,1222.8 1075.4,1225.1 1075.9,1225.7 1076.3,1225.5 1076.8,1225.5 1077.2,1226.5 1077.7,1227.3 1078.1,1224.1 1078.6,1227.3 1079.0,1227.4 1079.5,1221.8 1079.9,1226.3 1080.4,1231.0 1080.8,1230.0 1081.3,1228.3 1081.7,1229.2 1082.2,1232.0 1082.6,1226.1 1083.1,1226.5 1083.5,1225.6 1084.0,1223.6 1084.4,1228.3 1084.9,1224.2 1085.3,1225.6 1085.8,1230.8 1086.2,1228.6 1086.7,1226.9 1087.1,1227.9 1087.6,1225.2 1088.0,1230.2 1088.5,1228.5 1088.9,1228.3 1089.4,1226.0 1089.8,1227.7 1090.3,1226.6 1090.7,1227.4 1091.2,1225.2 1091.6,1228.8 1092.1,1224.2 1092.5,1226.8 1093.0,1223.0 1093.4,1222.2 1093.9,1231.4 1094.3,1224.6 1094.8,1221.9 1095.2,1228.6 1095.7,1229.6 1096.1,1226.4 1096.6,1221.5 1097.0,1221.3 1097.5,1222.2 1097.9,1220.9 1098.4,1225.0 1098.8,1224.1 1099.3,1228.2 1099.7,1227.7 1100.2,1225.2 1100.6,1225.8 1101.1,1228.3 1101.5,1227.3 1102.0,1222.5 1102.4,1221.5 1102.9,1227.6 1103.3,1227.8 1103.8,1226.1 1104.2,1230.1 1104.7,1228.2 1105.1,1221.1 1105.6,1229.5 1106.0,1225.6 1106.5,1227.9 1106.9,1228.7 1107.4,1227.9 1107.8,1228.9 1108.3,1222.0 1108.7,1230.7 1109.2,1224.2 1109.6,1224.0 1110.1,1228.7 1110.5,1232.5 1111.0,1228.5 1111.4,1231.3 1111.9,1228.3 1112.3,1230.3 1112.8,1230.9 1113.2,1230.3 1113.7,1227.0 1114.1,1225.5 1114.6,1225.0 1115.0,1225.1 1115.5,1227.1 1115.9,1225.7 1116.4,1222.0 1116.8,1221.5 1117.3,1227.7 1117.7,1221.1 1118.2,1223.7 1118.6,1224.6 1119.1,1226.4 1119.5,1231.9 1120.0,1226.5 1120.4,1226.6 1120.9,1224.8 1121.3,1221.3 1121.8,1229.0 1122.2,1229.0 1122.7,1228.5 1123.1,1224.8 1123.6,1223.8 1124.0,1224.7 1124.5,1221.0 1124.9,1227.0 1125.4,1223.0 1125.8,1225.2 1126.3,1225.1 1126.7,1223.5 1127.2,1224.5 1127.6,1224.2 1128.1,1226.0 1128.5,1228.0 1129.0,1224.5 1129.4,1228.0 1129.9,1227.4 1130.3,1226.2 1130.8,1228.8 1131.2,1229.7 1131.7,1227.3 1132.1,1223.7 1132.6,1228.4 1133.0,1223.0 1133.5,1229.7 1133.9,1220.9 1134.4,1221.8 1134.8,1223.4 1135.3,1229.4 1135.7,1228.6 1136.2,1227.5 1136.6,1230.3 1137.1,1224.0 1137.5,1228.7 1138.0,1222.6 1138.4,1222.6 1138.9,1228.8 1139.3,1228.7 1139.8,1231.3 1140.2,1232.4 1140.7,1224.0 1141.1,1229.2 1141.6,1232.3 1142.0,1231.6 1142.5,1229.3 1142.9,1225.1 1143.4,1232.5 1143.8,1227.8 1144.3,1223.7 1144.7,1225.6 1145.2,1228.2 1145.6,1224.2 1146.1,1226.8 1146.5,1229.1 1147.0,1227.8 1147.4,1230.2 1147.9,1229.6 1148.3,1225.9 1148.8,1223.7 1149.2,1223.5 1149.7,1226.6 1150.1,1229.5 1150.6,1225.1 1151.0,1224.1 1151.5,1231.0 1151.9,1231.4 1152.4,1225.8 1152.8,1232.5 1153.3,1228.5 1153.7,1225.6 1154.2,1227.4 1154.6,1226.6 1155.1,1229.5 1155.5,1227.6 1156.0,1229.4 1156.4,1229.4 1156.9,1227.7 1157.3,1226.6 1157.8,1223.3 1158.2,1224.1 1158.7,1220.8 1159.1,1225.4 1159.6,1222.0 1160.0,1227.0 1160.5,1223.8 1160.9,1226.7 1161.4,1226.7 1161.8,1228.9 1162.3,1221.4 1162.7,1221.8 1163.2,1219.3 1163.6,1218.5 1164.1,1222.5 1164.5,1223.4 1165.0,1223.5 1165.4,1220.0 1165.9,1223.9 1166.3,1220.8 1166.8,1224.4 1167.2,1222.1 1167.7,1223.2 1168.1,1223.7 1168.6,1224.1 1169.0,1231.5 1169.5,1227.7 1169.9,1231.4 1170.4,1226.7 1170.8,1226.8 1171.3,1222.6 1171.7,1228.6 1172.2,1227.6 1172.6,1229.3 1173.1,1228.0 1173.5,1227.2 1174.0,1230.2 1174.4,1227.5 1174.9,1224.1 1175.3,1223.7 1175.8,1223.8 1176.2,1223.3 1176.7,1221.4 1177.1,1222.8 1177.6,1225.0 1178.0,1227.5 1178.5,1224.4 1178.9,1226.3 1179.4,1226.3 1179.8,1228.2 1180.3,1227.9 1180.7,1228.1 1181.2,1227.3 1181.6,1225.8 1182.1,1219.4 1182.5,1225.0 1183.0,1221.5 1183.4,1224.8 1183.9,1220.0 1184.3,1227.7 1184.8,1222.9 1185.2,1223.2 1185.7,1225.0 1186.1,1220.9 1186.6,1221.6 1187.0,1222.0 1187.5,1220.1 1187.9,1220.8 1188.4,1219.2 1188.8,1219.5 1189.3,1225.5 1189.7,1227.1 1190.2,1230.1 1190.6,1224.4 1191.1,1224.2 1191.5,1227.2 1192.0,1225.6 1192.4,1228.4 1192.9,1225.8 1193.3,1230.0 1193.8,1229.0 1194.2,1229.6 1194.7,1223.9 1195.1,1231.2 1195.6,1225.1 1196.0,1224.3 1196.5,1223.8 1196.9,1230.1 1197.4,1225.8 1197.8,1223.7 1198.3,1230.3 1198.7,1227.5 1199.2,1224.9 1199.6,1223.1 1200.1,1225.6 1200.5,1220.2 1201.0,1221.1 1201.4,1223.7 1201.9,1228.5 1202.3,1225.8 1202.8,1225.9 1203.2,1226.8 1203.7,1225.5 1204.1,1226.4 1204.6,1220.5 1205.0,1227.4 1205.5,1222.7 1205.9,1222.8 1206.4,1223.5 1206.8,1225.0 1207.3,1228.3 1207.7,1232.3 1208.2,1228.7 1208.6,1227.0 1209.1,1220.5 1209.5,1223.4 1210.0,1223.0 1210.4,1225.5 1210.9,1229.1 1211.3,1219.1 1211.8,1227.1 1212.2,1226.0 1212.7,1223.1 1213.1,1226.1 1213.6,1223.5 1214.0,1228.6 1214.5,1224.1 1214.9,1224.5 1215.4,1225.7 1215.8,1227.8 1216.3,1222.1 1216.7,1219.9 1217.2,1226.4 1217.6,1224.1 1218.1,1219.4 1218.5,1222.3 1219.0,1226.2 1219.4,1221.4 1219.9,1224.0 1220.3,1226.4 1220.8,1222.5 1221.2,1227.4 1221.7,1227.3 1222.1,1219.9 1222.6,1225.1 1223.0,1222.8 1223.5,1227.7 1223.9,1225.8 1224.4,1220.5 1224.8,1223.1 1225.3,1221.9 1225.7,1228.8 1226.2,1228.7 1226.6,1227.9 1227.1,1221.6 1227.5,1223.7 1228.0,1224.6 1228.4,1224.7 1228.9,1227.6 1229.3,1224.6 1229.8,1225.0 1230.2,1225.4 1230.7,1223.3 1231.1,1220.0 1231.6,1226.4 1232.0,1220.9 1232.5,1222.2 1232.9,1220.9 1233.4,1218.5 1233.8,1222.7 1234.3,1225.3 1234.7,1221.0 1235.2,1220.7 1235.6,1223.0 1236.1,1222.9 1236.5,1226.7 1237.0,1225.7 1237.4,1229.0 1237.9,1227.8 1238.3,1229.1 1238.8,1225.0 1239.2,1223.4 1239.7,1222.0 1240.1,1222.9 1240.6,1223.4 1241.0,1221.6 1241.5,1219.9 1241.9,1224.8 1242.4,1224.7 1242.8,1225.6 1243.3,1225.0 1243.7,1225.6 1244.2,1230.1 1244.6,1225.3 1245.1,1222.7 1245.5,1225.0 1246.0,1220.0 1246.4,1221.7 1246.9,1226.7 1247.3,1227.5 1247.8,1220.8 1248.2,1219.0 1248.7,1224.2 1249.1,1220.5 1249.6,1217.4 1250.0,1219.9 1250.5,1222.6 1250.9,1218.1 1251.4,1225.3 1251.8,1225.3 1252.3,1222.7 1252.7,1223.2 1253.2,1219.2 1253.6,1217.9 1254.1,1222.5 1254.5,1220.3 1255.0,1221.7 1255.4,1217.9 1255.9,1219.9 1256.3,1223.0 1256.8,1226.4 1257.2,1221.2 1257.7,1222.7 1258.1,1224.7 1258.6,1216.6 1259.0,1219.0 1259.5,1221.5 1259.9,1218.8 1260.4,1218.1 1260.8,1216.3 1261.3,1217.1 1261.7,1214.5 1262.2,1218.8 1262.6,1222.0 1263.1,1223.5 1263.5,1216.9 1264.0,1216.7 1264.4,1218.5 1264.9,1224.9 1265.3,1220.6 1265.8,1218.5 1266.2,1224.1 1266.7,1221.3 1267.1,1221.0 1267.6,1222.3 1268.0,1223.0 1268.5,1216.2 1268.9,1217.2 1269.4,1217.5 1269.8,1222.9 1270.3,1220.9 1270.7,1221.7 1271.2,1218.9 1271.6,1224.1 1272.1,1221.2 1272.5,1226.0 1273.0,1220.5 1273.4,1222.3 1273.9,1223.7 1274.3,1219.9 1274.8,1227.3 1275.2,1227.2 1275.7,1225.4 1276.1,1223.2 1276.6,1220.4 1277.0,1219.0 1277.5,1219.0 1277.9,1217.3 1278.4,1219.2 1278.8,1224.0 1279.3,1219.0 1279.7,1220.5 1280.2,1223.0 1280.6,1226.8 1281.1,1220.3 1281.5,1219.5 1282.0,1225.8 1282.4,1218.7 1282.9,1220.7 1283.3,1225.8 1283.8,1223.2 1284.2,1226.1 1284.7,1223.9 1285.1,1225.6 1285.6,1220.5 1286.0,1224.4 1286.5,1223.2 1286.9,1224.1 1287.4,1224.0 1287.8,1222.6 1288.3,1221.8 1288.7,1223.5 1289.2,1220.2 1289.6,1225.4 1290.1,1224.6 1290.5,1221.8 1291.0,1225.4 1291.4,1222.9 1291.9,1219.5 1292.3,1222.9 1292.8,1217.3 1293.2,1216.4 1293.7,1223.5 1294.1,1220.5 1294.6,1223.2 1295.0,1223.2 1295.5,1224.4 1295.9,1222.3 1296.4,1222.8 1296.8,1220.9 1297.3,1219.4 1297.7,1219.0 1298.2,1220.8 1298.6,1223.5 1299.1,1221.1 1299.5,1226.6 1300.0,1219.2 1300.4,1221.0 1300.9,1222.4 1301.3,1217.1 1301.8,1215.5 1302.2,1217.3 1302.7,1217.1 1303.1,1217.8 1303.6,1217.3 1304.0,1219.1 1304.5,1221.8 1304.9,1221.5 1305.4,1216.7 1305.8,1213.7 1306.3,1215.0 1306.7,1213.0 1307.2,1215.4 1307.6,1215.2 1308.1,1214.4 1308.5,1214.7 1309.0,1218.2 1309.4,1216.6 1309.9,1217.5 1310.3,1219.2 1310.8,1214.6 1311.2,1217.0 1311.7,1215.4 1312.1,1213.0 1312.6,1215.0 1313.0,1218.5 1313.5,1212.7 1313.9,1210.6 1314.4,1213.6 1314.8,1215.8 1315.3,1217.3 1315.7,1218.9 1316.2,1216.1 1316.6,1220.4 1317.1,1215.3 1317.5,1215.8 1318.0,1220.8 1318.4,1211.0 1318.9,1217.5 1319.3,1211.4 1319.8,1211.9 1320.2,1214.2 1320.7,1216.0 1321.1,1216.3 1321.6,1219.5 1322.0,1220.7 1322.5,1215.1 1322.9,1217.1 1323.4,1217.0 1323.8,1214.0 1324.3,1218.1 1324.7,1220.6 1325.2,1218.2 1325.6,1218.6 1326.1,1213.5 1326.5,1216.9 1327.0,1212.4 1327.4,1219.1 1327.9,1221.4 1328.3,1215.6 1328.8,1215.2 1329.2,1216.0 1329.7,1216.9 1330.1,1213.0 1330.6,1217.4 1331.0,1217.0 1331.5,1212.2 1331.9,1211.8 1332.4,1215.8 1332.8,1211.8 1333.3,1213.6 1333.7,1215.3 1334.2,1215.0 1334.6,1213.7 1335.1,1215.5 1335.5,1217.1 1336.0,1220.2 1336.4,1217.7 1336.9,1215.4 1337.3,1209.7 1337.8,1212.6 1338.2,1215.5 1338.7,1213.9 1339.1,1213.2 1339.6,1213.1 1340.0,1209.9 1340.5,1213.2 1340.9,1212.1 1341.4,1213.8 1341.8,1212.9 1342.3,1217.8 1342.7,1210.5 1343.2,1215.0 1343.6,1212.4 1344.1,1214.0 1344.5,1212.3 1345.0,1214.1 1345.4,1211.1 1345.9,1210.2 1346.3,1209.8 1346.8,1211.8 1347.2,1208.1 1347.7,1208.6 1348.1,1208.1 1348.6,1211.5 1349.0,1213.0 1349.5,1210.6 1349.9,1214.9 1350.4,1215.3 1350.8,1209.0 1351.3,1209.7 1351.7,1214.5 1352.2,1212.9 1352.6,1209.5 1353.1,1213.1 1353.5,1214.8 1354.0,1212.2 1354.4,1213.6 1354.9,1212.2 1355.3,1212.5 1355.8,1213.8 1356.2,1209.3 1356.7,1210.7 1357.1,1207.6 1357.6,1211.8 1358.0,1211.6 1358.5,1210.2 1358.9,1207.6 1359.4,1210.1 1359.8,1208.6 1360.3,1206.0 1360.7,1209.9 1361.2,1209.8 1361.6,1210.3 1362.1,1213.5 1362.5,1215.5 1363.0,1214.3 1363.4,1207.1 1363.9,1212.8 1364.3,1209.1 1364.8,1209.9 1365.2,1211.4 1365.7,1208.1 1366.1,1210.5 1366.6,1210.8 1367.0,1205.9 1367.5,1205.5 1367.9,1213.1 1368.4,1203.7 1368.8,1212.8 1369.3,1210.0 1369.7,1211.7 1370.2,1208.1 1370.6,1214.5 1371.1,1206.1 1371.5,1212.0 1372.0,1206.6 1372.4,1207.5 1372.9,1205.6 1373.3,1206.2 1373.8,1205.7 1374.2,1204.6 1374.7,1204.0 1375.1,1209.0 1375.6,1212.7 1376.0,1210.0 1376.5,1214.0 1376.9,1211.5 1377.4,1206.6 1377.8,1206.6 1378.3,1207.8 1378.7,1208.0 1379.2,1211.0 1379.6,1208.8 1380.1,1204.2 1380.5,1211.9 1381.0,1206.3 1381.4,1202.0 1381.9,1208.3 1382.3,1207.6 1382.8,1210.7 1383.2,1206.8 1383.7,1206.6 1384.1,1207.1 1384.6,1207.7 1385.0,1206.2 1385.5,1203.8 1385.9,1203.3 1386.4,1209.1 1386.8,1204.7 1387.3,1208.3 1387.7,1206.6 1388.2,1212.2 1388.6,1208.4 1389.1,1211.0 1389.5,1210.1 1390.0,1209.1 1390.4,1211.9 1390.9,1206.9 1391.3,1207.3 1391.8,1205.9 1392.2,1209.0 1392.7,1208.0 1393.1,1208.0 1393.6,1210.4 1394.0,1209.8 1394.5,1205.4 1394.9,1207.8 1395.4,1202.6 1395.8,1200.9 1396.3,1206.6 1396.7,1203.7 1397.2,1204.7 1397.6,1204.8 1398.1,1206.0 1398.5,1200.0 1399.0,1202.2 1399.4,1201.7 1399.9,1201.9 1400.3,1202.1 1400.8,1204.1 1401.2,1203.8 1401.7,1204.1 1402.1,1207.3 1402.6,1209.1 1403.0,1208.1 1403.5,1207.5 1403.9,1203.6 1404.4,1203.2 1404.8,1200.6 1405.3,1207.2 1405.7,1197.2 1406.2,1199.5 1406.6,1200.7 1407.1,1204.5 1407.5,1203.6 1408.0,1199.3 1408.4,1199.9 1408.9,1202.8 1409.3,1198.9 1409.8,1197.9 1410.2,1202.3 1410.7,1203.9 1411.1,1201.9 1411.6,1202.8 1412.0,1198.5 1412.5,1201.9 1412.9,1198.9 1413.4,1202.8 1413.8,1198.0 1414.3,1199.1 1414.7,1201.1 1415.2,1198.5 1415.6,1195.2 1416.1,1196.3 1416.5,1197.2 1417.0,1200.6 1417.4,1198.8 1417.9,1200.6 1418.3,1202.8 1418.8,1195.7 1419.2,1194.4 1419.7,1196.9 1420.1,1199.5 1420.6,1196.0 1421.0,1197.7 1421.5,1195.2 1421.9,1197.2 1422.4,1200.3 1422.8,1196.6 1423.3,1202.0 1423.7,1195.5 1424.2,1198.1 1424.6,1191.9 1425.1,1193.5 1425.5,1191.8 1426.0,1195.5 1426.4,1191.3 1426.9,1190.3 1427.3,1190.6 1427.8,1189.0 1428.2,1190.0 1428.7,1192.7 1429.1,1191.9 1429.6,1191.3 1430.0,1193.0 1430.5,1194.4 1430.9,1194.2 1431.4,1193.4 1431.8,1190.4 1432.3,1193.6 1432.7,1193.7 1433.2,1190.1 1433.6,1193.4 1434.1,1193.6 1434.5,1188.7 1435.0,1188.4 1435.4,1188.9 1435.9,1188.0 1436.3,1190.5 1436.8,1186.5 1437.2,1189.2 1437.7,1189.3 1438.1,1191.9 1438.6,1192.2 1439.0,1189.4 1439.5,1192.4 1439.9,1190.9 1440.4,1191.0 1440.8,1191.4 1441.3,1188.2 1441.7,1186.7 1442.2,1190.9 1442.6,1189.7 1443.1,1189.0 1443.5,1188.3 1444.0,1188.1 1444.4,1187.7 1444.9,1189.4 1445.3,1184.9 1445.8,1188.1 1446.2,1186.9 1446.7,1184.9 1447.1,1184.7 1447.6,1184.2 1448.0,1181.9 1448.5,1184.0 1448.9,1184.8 1449.4,1183.2 1449.8,1184.0 1450.3,1183.6 1450.7,1182.3 1451.2,1182.1 1451.6,1183.7 1452.1,1178.6 1452.5,1177.7 1453.0,1180.5 1453.4,1179.4 1453.9,1176.2 1454.3,1177.4 1454.8,1176.2 1455.2,1176.5 1455.7,1178.0 1456.1,1175.9 1456.6,1175.1 1457.0,1178.4 1457.5,1177.8 1457.9,1173.0 1458.4,1174.1 1458.8,1173.9 1459.3,1174.5 1459.7,1173.4 1460.2,1177.2 1460.6,1176.4 1461.1,1175.7 1461.5,1172.7 1462.0,1175.9 1462.4,1176.1 1462.9,1173.1 1463.3,1177.1 1463.8,1171.4 1464.2,1168.4 1464.7,1167.0 1465.1,1172.2 1465.6,1170.1 1466.0,1169.8 1466.5,1167.8 1466.9,1167.2 1467.4,1171.7 1467.8,1170.1 1468.3,1169.3 1468.7,1166.3 1469.2,1165.2 1469.6,1169.5 1470.1,1164.4 1470.5,1169.2 1471.0,1169.6 1471.4,1168.5 1471.9,1169.8 1472.3,1165.1 1472.8,1164.3 1473.2,1169.4 1473.7,1165.7 1474.1,1163.4 1474.6,1163.8 1475.0,1165.3 1475.5,1170.5 1475.9,1166.5 1476.4,1169.8 1476.8,1170.8 1477.3,1165.7 1477.7,1172.9 1478.2,1168.7 1478.6,1162.6 1479.1,1165.5 1479.5,1170.7 1480.0,1170.8 1480.4,1169.4 1480.9,1168.3 1481.3,1170.3 1481.8,1167.4 1482.2,1166.9 1482.7,1166.2 1483.1,1165.1 1483.6,1164.2 1484.0,1162.4 1484.5,1167.2 1484.9,1168.3 1485.4,1165.0 1485.8,1164.1 1486.3,1166.2 1486.7,1161.6 1487.2,1164.1 1487.6,1161.1 1488.1,1164.2 1488.5,1166.7 1489.0,1166.3 1489.4,1168.0 1489.9,1168.3 1490.3,1169.0 1490.8,1164.2 1491.2,1166.9 1491.7,1167.1 1492.1,1167.6 1492.6,1160.3 1493.0,1166.1 1493.5,1166.7 1493.9,1171.5 1494.4,1168.2 1494.8,1161.8 1495.3,1164.4 1495.7,1168.8 1496.2,1168.2 1496.6,1168.4 1497.1,1166.1 1497.5,1165.1 1498.0,1165.0 1498.4,1165.9 1498.9,1166.2 1499.3,1169.7 1499.8,1167.5 1500.2,1167.7 1500.7,1167.5 1501.1,1164.8 1501.6,1166.3 1502.0,1169.2 1502.5,1167.1 1502.9,1167.1 1503.4,1167.0 1503.8,1169.9 1504.3,1169.3 1504.7,1167.3 1505.2,1169.6 1505.6,1170.6 1506.1,1169.7 1506.5,1167.7 1507.0,1170.3 1507.4,1169.5 1507.9,1173.6 1508.3,1175.8 1508.8,1174.7 1509.2,1176.0 1509.7,1178.1 1510.1,1177.7 1510.6,1179.7 1511.0,1179.3 1511.5,1180.0 1511.9,1179.9 1512.4,1182.2 1512.8,1182.7 1513.3,1181.8 1513.7,1181.6 1514.2,1180.9 1514.6,1182.2 1515.1,1185.6 1515.5,1183.1 1516.0,1184.6 1516.4,1183.5 1516.9,1186.5 1517.3,1188.8 1517.8,1186.4 1518.2,1185.7 1518.7,1188.8 1519.1,1189.2 1519.6,1187.0 1520.0,1188.5 1520.5,1188.0 1520.9,1188.5 1521.4,1193.0 1521.8,1191.1 1522.3,1190.1 1522.7,1190.6 1523.2,1190.1 1523.6,1190.7 1524.1,1189.1 1524.5,1195.5 1525.0,1195.5 1525.4,1193.3 1525.9,1195.7 1526.3,1192.8 1526.8,1194.4 1527.2,1195.8 1527.7,1194.7 1528.1,1195.1 1528.6,1192.2 1529.0,1193.8 1529.5,1197.6 1529.9,1195.9 1530.4,1192.0 1530.8,1195.8 1531.3,1196.3 1531.7,1190.8 1532.2,1191.8 1532.6,1192.5 1533.1,1193.0 1533.5,1198.2 1534.0,1195.3 1534.4,1196.4 1534.9,1199.0 1535.3,1193.9 1535.8,1196.9 1536.2,1196.0 1536.7,1198.2 1537.1,1195.9 1537.6,1197.9 1538.0,1193.3 1538.5,1194.5 1538.9,1197.7 1539.4,1198.3 1539.8,1197.8 1540.3,1199.5 1540.7,1198.1 1541.2,1193.3 1541.6,1198.6 1542.1,1198.4 1542.5,1199.8 1543.0,1194.4 1543.4,1195.1 1543.9,1196.5 1544.3,1195.5 1544.8,1198.7 1545.2,1200.2 1545.7,1198.6 1546.1,1201.4 1546.6,1197.3 1547.0,1199.3 1547.5,1195.6 1547.9,1196.0 1548.4,1192.8 1548.8,1195.4 1549.3,1192.0 1549.7,1196.3 1550.2,1192.3 1550.6,1197.2 1551.1,1198.9 1551.5,1196.6 1552.0,1200.2 1552.4,1202.8 1552.9,1198.7 1553.3,1204.0 1553.8,1201.2 1554.2,1205.2 1554.7,1202.9 1555.1,1200.4 1555.6,1202.2 1556.0,1201.6 1556.5,1199.7 1556.9,1199.3 1557.4,1197.9 1557.8,1200.9 1558.3,1199.3 1558.7,1200.8 1559.2,1199.7 1559.6,1200.0 1560.1,1201.9 1560.5,1200.7 1561.0,1204.0 1561.4,1194.0 1561.9,1198.1 1562.3,1199.1 1562.8,1195.4 1563.2,1200.7 1563.7,1201.9 1564.1,1201.1 1564.6,1204.5 1565.0,1192.7 1565.5,1203.2 1565.9,1197.9 1566.4,1200.1 1566.8,1197.8 1567.3,1196.2 1567.7,1198.4 1568.2,1198.9 1568.6,1199.8 1569.1,1200.1 1569.5,1197.8 1570.0,1198.2 1570.4,1201.1 1570.9,1198.2 1571.3,1203.6 1571.8,1203.3 1572.2,1198.6 1572.7,1200.8 1573.1,1197.4 1573.6,1196.0 1574.0,1196.9 1574.5,1198.3 1574.9,1199.2 1575.4,1195.6 1575.8,1200.4 1576.3,1198.3 1576.7,1194.8 1577.2,1196.7 1577.6,1199.5 1578.1,1200.3 1578.5,1197.4 1579.0,1192.1 1579.4,1199.1 1579.9,1197.5 1580.3,1195.5 1580.8,1194.0 1581.2,1194.2 1581.7,1191.8 1582.1,1197.2 1582.6,1189.1 1583.0,1194.0 1583.5,1193.1 1583.9,1195.1 1584.4,1194.4 1584.8,1193.5 1585.3,1194.4 1585.7,1200.1 1586.2,1199.4 1586.6,1193.8 1587.1,1194.2 1587.5,1193.4 1588.0,1197.3 1588.4,1193.7 1588.9,1197.5 1589.3,1194.1 1589.8,1194.6 1590.2,1196.4 1590.7,1197.1 1591.1,1191.9 1591.6,1197.3 1592.0,1195.6 1592.5,1200.4 1592.9,1199.9 1593.4,1200.9 1593.8,1192.8 1594.3,1194.8 1594.7,1195.3 1595.2,1196.1 1595.6,1190.4 1596.1,1191.2 1596.5,1191.8 1597.0,1190.6 1597.4,1189.5 1597.9,1192.8 1598.3,1194.6 1598.8,1192.8 1599.2,1187.2 1599.7,1187.3 1600.1,1188.4 1600.6,1189.4 1601.0,1192.7 1601.5,1196.1 1601.9,1191.2 1602.4,1194.1 1602.8,1198.4 1603.3,1190.6 1603.7,1195.5 1604.2,1197.6 1604.6,1192.1 1605.1,1194.1 1605.5,1195.5 1606.0,1191.3 1606.4,1187.3 1606.9,1191.8 1607.3,1190.7 1607.8,1193.0 1608.2,1191.1 1608.7,1194.0 1609.1,1192.1 1609.6,1190.0 1610.0,1191.4 1610.5,1190.3 1610.9,1189.2 1611.4,1189.5 1611.8,1188.2 1612.3,1190.1 1612.7,1187.0 1613.2,1188.5 1613.6,1185.3 1614.1,1185.2 1614.5,1189.6 1615.0,1187.1 1615.4,1190.6 1615.9,1189.6 1616.3,1187.7 1616.8,1189.3 1617.2,1187.0 1617.7,1190.5 1618.1,1184.8 1618.6,1187.9 1619.0,1195.1 1619.5,1187.2 1619.9,1190.3 1620.4,1186.2 1620.8,1183.9 1621.3,1183.2 1621.7,1189.7 1622.2,1184.5 1622.6,1187.6 1623.1,1187.9 1623.5,1187.0 1624.0,1183.9 1624.4,1187.1 1624.9,1191.3 1625.3,1190.9 1625.8,1192.5 1626.2,1185.4 1626.7,1188.5 1627.1,1186.5 1627.6,1182.8 1628.0,1188.6 1628.5,1190.4 1628.9,1187.1 1629.4,1191.0 1629.8,1189.6 1630.3,1186.3 1630.7,1188.6 1631.2,1184.9 1631.6,1187.2 1632.1,1187.1 1632.5,1185.2 1633.0,1188.4 1633.4,1186.9 1633.9,1185.8 1634.3,1192.4 1634.8,1186.1 1635.2,1185.6 1635.7,1193.5 1636.1,1187.9 1636.6,1191.2 1637.0,1192.4 1637.5,1189.6 1637.9,1194.4 1638.4,1190.2 1638.8,1189.6 1639.3,1189.8 1639.7,1189.3 1640.2,1194.5 1640.6,1190.6 1641.1,1188.2 1641.5,1189.4 1642.0,1193.1 1642.4,1194.1 1642.9,1195.7 1643.3,1190.1 1643.8,1189.9 1644.2,1194.1 1644.7,1192.8 1645.1,1191.4 1645.6,1190.0 1646.0,1194.8 1646.5,1193.8 1646.9,1193.8 1647.4,1192.7 1647.8,1194.2 1648.3,1193.5 1648.7,1197.3 1649.2,1192.7 1649.6,1198.8 1650.1,1195.2 1650.5,1194.8 1651.0,1196.3 1651.4,1197.1 1651.9,1199.6 1652.3,1199.9 1652.8,1200.8 1653.2,1198.4 1653.7,1196.5 1654.1,1194.5 1654.6,1198.7 1655.0,1199.0 1655.5,1197.7 1655.9,1198.8 1656.4,1200.2 1656.8,1201.6 1657.3,1198.0 1657.7,1199.9 1658.2,1200.5 1658.6,1201.4 1659.1,1200.8 1659.5,1203.1 1660.0,1204.2 1660.4,1201.0 1660.9,1203.6 1661.3,1205.2 1661.8,1204.3 1662.2,1207.2 1662.7,1206.4 1663.1,1207.8 1663.6,1207.1 1664.0,1206.3 1664.5,1208.1 1664.9,1206.3 1665.4,1207.1 1665.8,1207.8 1666.3,1203.4 1666.7,1204.0 1667.2,1209.0 1667.6,1206.5 1668.1,1207.1 1668.5,1212.9 1669.0,1207.4 1669.4,1212.4 1669.9,1212.0 1670.3,1210.7 1670.8,1212.2 1671.2,1209.3 1671.7,1214.7 1672.1,1214.5 1672.6,1213.0 1673.0,1210.4 1673.5,1213.8 1673.9,1215.6 1674.4,1211.8 1674.8,1217.6 1675.3,1217.5 1675.6,1213.2"/>
<path stroke="#ff3131" d="M125.0,1222.7 125.5,1221.9 125.9,1228.3 126.4,1225.4 126.8,1225.5 127.3,1228.6 127.7,1221.0 128.2,1221.9 128.6,1223.8 129.1,1226.2 129.5,1226.7 130.0,1221.5 130.4,1222.6 130.9,1228.2 131.3,1226.7 131.8,1228.1 132.2,1232.0 132.7,1228.9 133.1,1228.1 133.6,1225.9 134.0,1225.4 134.5,1227.8 134.9,1232.6 135.4,1229.0 135.8,1225.0 136.3,1228.3 136.7,1224.4 137.2,1226.5 137.6,1223.7 138.1,1225.1 138.5,1225.0 139.0,1230.6 139.4,1226.5 139.9,1229.0 140.3,1226.1 140.8,1226.6 141.2,1226.9 141.7,1224.7 142.1,1227.0 142.6,1219.0 143.0,1228.6 143.5,1225.1 143.9,1228.5 144.4,1226.8 144.8,1228.1 145.3,1222.8 145.7,1228.7 146.2,1227.6 146.6,1225.9 147.1,1224.3 147.5,1227.6 148.0,1227.2 148.4,1228.3 148.9,1227.7 149.3,1225.3 149.8,1230.5 150.2,1225.2 150.7,1231.0 151.1,1222.8 151.6,1219.4 152.0,1220.6 152.5,1222.8 152.9,1224.7 153.4,1219.2 153.8,1218.2 154.3,1227.6 154.7,1222.5 155.2,1226.6 155.6,1226.2 156.1,1223.9 156.5,1225.3 157.0,1226.2 157.4,1224.6 157.9,1222.0 158.3,1223.1 158.8,1220.2 159.2,1227.7 159.7,1221.6 160.1,1224.9 160.6,1224.4 161.0,1220.8 161.5,1221.7 161.9,1228.2 162.4,1226.3 162.8,1223.7 163.3,1224.3 163.7,1221.4 164.2,1230.3 164.6,1223.7 165.1,1221.8 165.5,1229.8 166.0,1226.9 166.4,1225.8 166.9,1218.6 167.3,1224.9 167.8,1220.8 168.2,1226.5 168.7,1220.3 169.1,1221.0 169.6,1221.5 170.0,1223.4 170.5,1222.3 170.9,1224.2 171.4,1220.5 171.8,1223.8 172.3,1227.0 172.7,1221.1 173.2,1222.4 173.6,1227.4 174.1,1227.4 174.5,1223.2 175.0,1221.3 175.4,1222.6 175.9,1226.5 176.3,1229.0 176.8,1231.2 177.2,1231.6 177.7,1223.9 178.1,1232.5 178.6,1226.9 179.0,1221.4 179.5,1222.9 179.9,1226.6 180.4,1222.7 180.8,1223.6 181.3,1228.0 181.7,1227.5 182.2,1228.4 182.6,1227.6 183.1,1226.3 183.5,1230.1 184.0,1227.9 184.4,1229.9 184.9,1221.7 185.3,1230.6 185.8,1225.9 186.2,1226.0 186.7,1223.4 187.1,1224.4 187.6,1225.0 188.0,1225.2 188.5,1219.6 188.9,1229.9 189.4,1227.0 189.8,1220.7 190.3,1224.6 190.7,1229.1 191.2,1228.2 191.6,1223.0 192.1,1230.7 192.5,1228.9 193.0,1225.6 193.4,1228.5 193.9,1226.4 194.3,1228.0 194.8,1219.3 195.2,1224.4 195.7,1225.8 196.1,1225.3 196.6,1228.1 197.0,1230.1 197.5,1219.2 197.9,1221.8 198.4,1220.1 198.8,1223.6 199.3,1229.7 199.7,1226.5 200.2,1227.4 200.6,1232.6 201.1,1222.9 201.5,1226.5 202.0,1228.9 202.4,1226.5 202.9,1224.9 203.3,1225.8 203.8,1220.5 204.2,1227.5 204.7,1226.2 205.1,1224.4 205.6,1228.3 206.0,1226.8 206.5,1228.2 206.9,1219.7 207.4,1221.2 207.8,1221.5 208.3,1227.5 208.7,1227.8 209.2,1217.6 209.6,1228.6 210.1,1227.8 210.5,1230.0 211.0,1223.1 211.4,1225.2 211.9,1222.5 212.3,1222.1 212.8,1228.1 213.2,1220.1 213.7,1226.8 214.1,1223.0 214.6,1223.3 215.0,1228.2 215.5,1218.7 215.9,1222.3 216.4,1224.1 216.8,1223.0 217.3,1225.1 217.7,1223.4 218.2,1232.4 218.6,1229.7 219.1,1224.7 219.5,1232.9 220.0,1225.6 220.4,1227.4 220.9,1225.8 221.3,1223.2 221.8,1222.5 222.2,1228.7 222.7,1227.0 223.1,1223.8 223.6,1221.4 224.0,1226.5 224.5,1228.6 224.9,1231.9 225.4,1229.1 225.8,1229.4 226.3,1222.1 226.7,1225.5 227.2,1227.6 227.6,1223.2 228.1,1221.8 228.5,1228.1 229.0,1230.4 229.4,1221.8 229.9,1225.9 230.3,1224.4 230.8,1227.8 231.2,1225.4 231.7,1223.9 232.1,1225.2 232.6,1226.0 233.0,1226.1 233.5,1231.1 233.9,1222.5 234.4,1228.2 234.8,1223.6 235.3,1231.8 235.7,1227.4 236.2,1223.1 236.6,1223.1 237.1,1223.8 237.5,1221.9 238.0,1223.7 238.4,1229.2 238.9,1226.2 239.3,1223.9 239.8,1225.6 240.2,1222.4 240.7,1227.6 241.1,1220.5 241.6,1225.4 242.0,1223.8 242.5,1223.5 242.9,1225.5 243.4,1222.3 243.8,1224.3 244.3,1220.5 244.7,1228.2 245.2,1225.3 245.6,1229.4 246.1,1225.6 246.5,1221.0 247.0,1226.1 247.4,1230.0 247.9,1231.0 248.3,1225.0 248.8,1230.6 249.2,1224.8 249.7,1228.2 250.1,1221.8 250.6,1225.1 251.0,1218.9 251.5,1224.5 251.9,1223.4 252.4,1229.6 252.8,1225.7 253.3,1225.2 253.7,1226.2 254.2,1229.9 254.6,1225.8 255.1,1225.3 255.5,1220.9 256.0,1222.0 256.4,1225.0 256.9,1219.2 257.3,1220.9 257.8,1223.5 258.2,1221.4 258.7,1221.4 259.1,1226.0 259.6,1224.8 260.0,1223.3 260.5,1223.7 260.9,1225.9 261.4,1225.4 261.8,1228.0 262.3,1228.8 262.7,1225.4 263.2,1226.4 263.6,1224.3 264.1,1223.6 264.5,1222.9 265.0,1230.0 265.4,1226.5 265.9,1226.9 266.3,1227.7 266.8,1230.3 267.2,1229.3 267.7,1226.0 268.1,1232.1 268.6,1229.5 269.0,1228.6 269.5,1224.7 269.9,1228.3 270.4,1223.4 270.8,1221.8 271.3,1224.3 271.7,1230.3 272.2,1229.1 272.6,1224.4 273.1,1227.9 273.5,1225.0 274.0,1222.2 274.4,1228.2 274.9,1223.8 275.3,1229.7 275.8,1225.8 276.2,1223.0 276.7,1226.1 277.1,1220.8 277.6,1225.2 278.0,1226.2 278.5,1231.8 278.9,1221.7 279.4,1226.8 279.8,1227.2 280.3,1218.4 280.7,1228.4 281.2,1224.2 281.6,1222.6 282.1,1224.4 282.5,1228.7 283.0,1223.9 283.4,1222.9 283.9,1230.7 284.3,1229.8 284.8,1227.8 285.2,1224.0 285.7,1228.4 286.1,1225.7 286.6,1221.7 287.0,1229.1 287.5,1221.9 287.9,1224.9 288.4,1224.3 288.8,1226.4 289.3,1221.3 289.7,1225.5 290.2,1228.9 290.6,1229.3 291.1,1223.0 291.5,1226.2 292.0,1228.1 292.4,1221.3 292.9,1219.9 293.3,1227.7 293.8,1224.1 294.2,1225.2 294.7,1223.7 295.1,1224.7 295.6,1231.4 296.0,1230.6 296.5,1227.6 296.9,1220.0 297.4,1221.6 297.8,1218.0 298.3,1226.4 298.7,1220.5 299.2,1221.4 299.6,1226.4 300.1,1220.5 300.5,1224.8 301.0,1229.7 301.4,1229.2 301.9,1223.1 302.3,1230.5 302.8,1224.3 303.2,1222.7 303.7,1224.4 304.1,1225.3 304.6,1221.9 305.0,1222.9 305.5,1221.5 305.9,1219.6 306.4,1217.6 306.8,1221.9 307.3,1226.0 307.7,1224.9 308.2,1222.3 308.6,1221.8 309.1,1220.7 309.5,1224.9 310.0,1221.8 310.4,1222.0 310.9,1229.6 311.3,1230.4 311.8,1227.4 312.2,1229.1 312.7,1221.9 313.1,1222.2 313.6,1224.3 314.0,1221.9 314.5,1220.3 314.9,1219.3 315.4,1225.2 315.8,1223.1 316.3,1221.1 316.7,1219.8 317.2,1227.2 317.6,1221.8 318.1,1221.8 318.5,1216.6 319.0,1222.4 319.4,1221.6 319.9,1225.9 320.3,1221.6 320.8,1225.9 321.2,1225.4 321.7,1225.1 322.1,1227.2 322.6,1223.7 323.0,1222.9 323.5,1229.8 323.9,1223.5 324.4,1223.3 324.8,1224.9 325.3,1220.1 325.7,1222.9 326.2,1224.6 326.6,1218.2 327.1,1226.7 327.5,1225.4 328.0,1214.3 328.4,1223.1 328.9,1226.6 329.3,1226.1 329.8,1219.5 330.2,1229.3 330.7,1224.8 331.1,1224.2 331.6,1225.2 332.0,1226.9 332.5,1227.7 332.9,1226.0 333.4,1219.1 333.8,1223.4 334.3,1220.7 334.7,1224.6 335.2,1220.4 335.6,1226.3 336.1,1225.1 336.5,1222.9 337.0,1219.3 337.4,1230.7 337.9,1229.8 338.3,1223.7 338.8,1229.4 339.2,1223.3 339.7,1227.8 340.1,1220.9 340.6,1221.0 341.0,1228.0 341.5,1222.3 341.9,1225.1 342.4,1221.8 342.8,1225.2 343.3,1224.4 343.7,1222.3 344.2,1223.1 344.6,1218.0 345.1,1221.6 345.5,1217.8 346.0,1226.8 346.4,1220.2 346.9,1226.4 347.3,1223.4 347.8,1221.8 348.2,1218.0 348.7,1224.9 349.1,1222.7 349.6,1218.3 350.0,1223.3 350.5,1223.0 350.9,1219.2 351.4,1222.7 351.8,1224.8 352.3,1218.6 352.7,1224.6 353.2,1221.4 353.6,1218.5 354.1,1223.9 354.5,1217.4 355.0,1219.6 355.4,1225.5 355.9,1215.5 356.3,1218.3 356.8,1215.0 357.2,1223.9 357.7,1220.3 358.1,1218.5 358.6,1214.8 359.0,1223.0 359.5,1220.3 359.9,1225.4 360.4,1215.5 360.8,1226.2 361.3,1222.2 361.7,1224.5 362.2,1221.6 362.6,1224.1 363.1,1215.7 363.5,1223.1 364.0,1226.4 364.4,1221.5 364.9,1225.5 365.3,1221.2 365.8,1222.7 366.2,1222.9 366.7,1227.3 367.1,1227.0 367.6,1223.2 368.0,1229.2 368.5,1223.6 368.9,1224.5 369.4,1223.7 369.8,1217.6 370.3,1219.7 370.7,1224.2 371.2,1218.1 371.6,1226.6 372.1,1228.1 372.5,1218.8 373.0,1221.6 373.4,1218.6 373.9,1225.6 374.3,1217.9 374.8,1225.0 375.2,1221.5 375.7,1217.4 376.1,1215.9 376.6,1218.6 377.0,1221.3 377.5,1218.6 377.9,1218.9 378.4,1223.2 378.8,1218.8 379.3,1213.8 379.7,1223.3 380.2,1222.1 380.6,1218.5 381.1,1217.7 381.5,1220.3 382.0,1217.8 382.4,1224.9 382.9,1223.2 383.3,1220.9 383.8,1221.7 384.2,1224.0 384.7,1218.4 385.1,1225.1 385.6,1217.2 386.0,1224.0 386.5,1221.8 386.9,1215.2 387.4,1216.8 387.8,1223.7 388.3,1221.9 388.7,1215.9 389.2,1220.0 389.6,1218.0 390.1,1217.8 390.5,1222.4 391.0,1222.3 391.4,1219.4 391.9,1219.3 392.3,1220.0 392.8,1218.4 393.2,1217.4 393.7,1220.1 394.1,1218.5 394.6,1222.9 395.0,1218.0 395.5,1218.3 395.9,1223.4 396.4,1223.1 396.8,1223.6 397.3,1214.4 397.7,1223.4 398.2,1222.2 398.6,1220.7 399.1,1224.4 399.5,1220.2 400.0,1217.4 400.4,1218.9 400.9,1216.0 401.3,1213.9 401.8,1219.4 402.2,1218.1 402.7,1219.1 403.1,1215.7 403.6,1216.9 404.0,1220.2 404.5,1215.8 404.9,1222.1 405.4,1217.0 405.8,1221.4 406.3,1218.2 406.7,1219.6 407.2,1214.4 407.6,1222.9 408.1,1216.6 408.5,1221.7 409.0,1223.3 409.4,1220.2 409.9,1219.4 410.3,1213.9 410.8,1216.7 411.2,1212.1 411.7,1216.4 412.1,1216.2 412.6,1212.3 413.0,1211.8 413.5,1218.6 413.9,1215.9 414.4,1212.4 414.8,1213.7 415.3,1215.7 415.7,1214.4 416.2,1223.0 416.6,1214.8 417.1,1217.5 417.5,1211.9 418.0,1207.7 418.4,1217.0 418.9,1216.1 419.3,1211.7 419.8,1214.1 420.2,1211.9 420.7,1210.5 421.1,1209.7 421.6,1210.1 422.0,1212.0 422.5,1210.9 422.9,1205.4 423.4,1207.1 423.8,1206.6 424.3,1211.1 424.7,1211.1 425.2,1211.9 425.6,1211.4 426.1,1212.8 426.5,1207.4 427.0,1203.0 427.4,1211.3 427.9,1206.4 428.3,1208.6 428.8,1210.5 429.2,1210.3 429.7,1204.5 430.1,1205.6 430.6,1210.4 431.0,1204.9 431.5,1206.2 431.9,1208.2 432.4,1209.4 432.8,1204.0 433.3,1206.6 433.7,1207.7 434.2,1204.9 434.6,1203.6 435.1,1208.7 435.5,1208.7 436.0,1200.8 436.4,1198.4 436.9,1199.5 437.3,1199.7 437.8,1195.6 438.2,1200.3 438.7,1206.0 439.1,1198.1 439.6,1199.0 440.0,1205.7 440.5,1203.5 440.9,1197.4 441.4,1200.6 441.8,1205.0 442.3,1196.9 442.7,1205.2 443.2,1202.2 443.6,1206.0 444.1,1201.2 444.5,1198.4 445.0,1196.3 445.4,1196.4 445.9,1200.1 446.3,1199.1 446.8,1197.8 447.2,1200.2 447.7,1199.1 448.1,1196.6 448.6,1196.1 449.0,1204.7 449.5,1205.1 449.9,1196.0 450.4,1190.1 450.8,1193.4 451.3,1190.3 451.7,1193.7 452.2,1198.0 452.6,1195.6 453.1,1190.3 453.5,1193.9 454.0,1196.3 454.4,1195.5 454.9,1194.5 455.3,1197.8 455.8,1194.4 456.2,1193.3 456.7,1195.0 457.1,1195.6 457.6,1190.1 458.0,1190.6 458.5,1193.3 458.9,1186.8 459.4,1191.3 459.8,1186.6 460.3,1189.5 460.7,1189.9 461.2,1187.6 461.6,1186.2 462.1,1188.1 462.5,1185.9 463.0,1184.0 463.4,1184.8 463.9,1188.8 464.3,1185.8 464.8,1190.2 465.2,1188.8 465.7,1187.0 466.1,1184.9 466.6,1188.0 467.0,1185.1 467.5,1189.8 467.9,1185.7 468.4,1188.6 468.8,1183.3 469.3,1182.9 469.7,1182.3 470.2,1186.2 470.6,1183.3 471.1,1184.2 471.5,1182.6 472.0,1181.6 472.4,1183.7 472.9,1181.1 473.3,1182.9 473.8,1177.8 474.2,1180.2 474.7,1176.9 475.1,1177.9 475.6,1181.2 476.0,1180.0 476.5,1173.4 476.9,1172.8 477.4,1175.6 477.8,1174.8 478.3,1174.0 478.7,1180.2 479.2,1180.7 479.6,1180.1 480.1,1183.5 480.5,1180.7 481.0,1176.3 481.4,1179.5 481.9,1176.1 482.3,1171.4 482.8,1175.3 483.2,1178.3 483.7,1175.4 484.1,1172.9 484.6,1173.0 485.0,1174.9 485.5,1168.6 485.9,1169.5 486.4,1173.2 486.8,1168.3 487.3,1172.6 487.7,1170.4 488.2,1169.1 488.6,1174.0 489.1,1170.0 489.5,1173.4 490.0,1173.6 490.4,1171.3 490.9,1166.9 491.3,1168.8 491.8,1170.4 492.2,1169.9 492.7,1162.7 493.1,1168.1 493.6,1166.5 494.0,1165.7 494.5,1167.2 494.9,1165.9 495.4,1164.6 495.8,1165.8 496.3,1167.2 496.7,1169.3 497.2,1167.0 497.6,1160.2 498.1,1159.7 498.5,1160.4 499.0,1162.7 499.4,1160.6 499.9,1159.9 500.3,1165.5 500.8,1161.2 501.2,1159.8 501.7,1157.4 502.1,1164.2 502.6,1161.5 503.0,1163.8 503.5,1158.2 503.9,1162.9 504.4,1161.7 504.8,1159.4 505.3,1159.6 505.7,1159.1 506.2,1163.7 506.6,1156.9 507.1,1156.8 507.5,1154.1 508.0,1157.1 508.4,1157.9 508.9,1152.2 509.3,1158.4 509.8,1155.9 510.2,1151.5 510.7,1153.0 511.1,1156.7 511.6,1155.2 512.0,1152.8 512.5,1151.1 512.9,1156.6 513.4,1152.8 513.8,1151.8 514.3,1149.4 514.7,1150.4 515.2,1145.5 515.6,1149.0 516.1,1148.1 516.5,1145.5 517.0,1143.8 517.4,1145.6 517.9,1144.8 518.3,1142.6 518.8,1141.5 519.2,1143.5 519.7,1140.1 520.1,1140.0 520.6,1139.7 521.0,1143.0 521.5,1140.1 521.9,1143.1 522.4,1140.9 522.8,1143.8 523.3,1139.6 523.7,1140.6 524.2,1135.6 524.6,1132.4 525.1,1133.0 525.5,1132.3 526.0,1131.7 526.4,1134.1 526.9,1129.8 527.3,1132.7 527.8,1130.7 528.2,1127.2 528.7,1126.1 529.1,1127.7 529.6,1127.2 530.0,1122.7 530.5,1126.3 530.9,1122.6 531.4,1122.3 531.8,1123.2 532.3,1121.2 532.7,1119.7 533.2,1120.2 533.6,1122.3 534.1,1118.2 534.5,1124.7 535.0,1125.5 535.4,1118.3 535.9,1122.0 536.3,1124.5 536.8,1122.8 537.2,1122.7 537.7,1115.2 538.1,1122.5 538.6,1118.1 539.0,1119.9 539.5,1119.7 539.9,1119.4 540.4,1122.0 540.8,1121.0 541.3,1118.8 541.7,1114.7 542.2,1114.4 542.6,1111.0 543.1,1112.0 543.5,1105.4 544.0,1109.4 544.4,1109.0 544.9,1109.1 545.3,1112.9 545.8,1108.3 546.2,1107.5 546.7,1111.3 547.1,1111.5 547.6,1107.8 548.0,1106.9 548.5,1108.8 548.9,1105.8 549.4,1105.9 549.8,1108.0 550.3,1100.9 550.7,1100.0 551.2,1103.1 551.6,1101.6 552.1,1101.2 552.5,1101.9 553.0,1101.4 553.4,1100.4 553.9,1102.6 554.3,1101.3 554.8,1098.4 555.2,1100.4 555.7,1097.0 556.1,1104.0 556.6,1100.6 557.0,1104.0 557.5,1099.4 557.9,1098.3 558.4,1099.2 558.8,1093.7 559.3,1093.8 559.7,1094.2 560.2,1093.6 560.6,1091.5 561.1,1090.6 561.5,1089.7 562.0,1092.1 562.4,1089.8 562.9,1089.1 563.3,1094.1 563.8,1093.9 564.2,1088.3 564.7,1087.9 565.1,1086.1 565.6,1087.6 566.0,1084.9 566.5,1086.2 566.9,1085.5 567.4,1080.0 567.8,1079.3 568.3,1081.2 568.7,1076.1 569.2,1080.5 569.6,1079.7 570.1,1077.0 570.5,1074.0 571.0,1074.0 571.4,1073.8 571.9,1074.7 572.3,1069.8 572.8,1069.7 573.2,1069.9 573.7,1067.8 574.1,1066.8 574.6,1066.4 575.0,1064.3 575.5,1063.6 575.9,1060.4 576.4,1058.8 576.8,1061.2 577.3,1062.4 577.7,1063.1 578.2,1060.7 578.6,1060.2 579.1,1058.9 579.5,1056.7 580.0,1056.3 580.4,1054.0 580.9,1051.9 581.3,1053.8 581.8,1048.7 582.2,1048.7 582.7,1047.3 583.1,1045.9 583.6,1042.9 584.0,1042.9 584.5,1042.8 584.9,1039.0 585.4,1039.6 585.8,1039.6 586.3,1038.4 586.7,1039.3 587.2,1035.9 587.6,1033.7 588.1,1035.2 588.5,1033.1 589.0,1028.1 589.4,1030.1 589.9,1027.3 590.3,1026.3 590.8,1025.9 591.2,1026.5 591.7,1025.7 592.1,1023.2 592.6,1020.9 593.0,1020.0 593.5,1018.8 593.9,1016.7 594.4,1014.9 594.8,1014.2 595.3,1012.6 595.7,1011.2 596.2,1009.4 596.6,1008.3 597.1,1006.0 597.5,1005.7 598.0,1005.7 598.4,1001.3 598.9,1000.8 599.3,999.8 599.8,996.3 600.2,993.1 600.7,991.1 601.1,987.5 601.6,985.3 602.0,981.6 602.5,979.8 602.9,976.0 603.4,974.6 603.8,971.1 604.3,967.7 604.7,964.6 605.2,961.9 605.6,959.4 606.1,958.6 606.5,954.5 607.0,950.6 607.4,950.2 607.9,947.7 608.3,945.4 608.8,941.7 609.2,939.2 609.7,937.6 610.1,933.7 610.6,931.8 611.0,928.4 611.5,925.7 611.9,922.0 612.4,920.8 612.8,917.6 613.3,916.3 613.7,912.8 614.2,909.9 614.6,908.1 615.1,905.8 615.5,902.0 616.0,899.4 616.4,896.6 616.9,892.7 617.3,890.2 617.8,885.9 618.2,880.7 618.7,874.4 619.1,868.9 619.6,864.2 620.0,858.6 620.5,854.1 620.9,850.6 621.4,846.2 621.8,843.1 622.3,839.2 622.7,834.7 623.2,831.6 623.6,826.8 624.1,823.2 624.5,817.7 625.0,812.3 625.4,804.9 625.9,796.5 626.3,787.9 626.8,779.9 627.2,772.9 627.7,767.7 628.1,763.1 628.6,758.2 629.0,752.6 629.5,748.3 629.9,743.1 630.4,738.0 630.8,732.8 631.3,728.1 631.7,722.8 632.2,717.6 632.6,710.9 633.1,703.4 633.5,697.1 634.0,691.2 634.4,685.4 634.9,679.2 635.3,673.4 635.8,667.5 636.2,661.6 636.7,655.9 637.1,650.7 637.6,644.0 638.0,638.4 638.5,632.9 638.9,626.6 639.4,620.5 639.8,614.0 640.3,608.1 640.7,602.0 641.2,596.4 641.6,591.2 642.1,585.1 642.5,580.8 643.0,576.4 643.4,572.8 643.9,569.0 644.3,565.6 644.8,562.6 645.2,560.8 645.7,559.1 646.1,556.0 646.6,555.0 647.0,552.9 647.5,554.7 647.9,553.5 648.4,554.2 648.8,555.6 649.3,554.9 649.7,554.2 650.2,555.0 650.6,556.9 651.1,559.4 651.5,561.4 652.0,564.2 652.4,566.5 652.9,568.7 653.3,572.1 653.8,576.4 654.2,579.8 654.7,584.5 655.1,589.1 655.6,594.8 656.0,600.5 656.5,607.6 656.9,613.8 657.4,619.8 657.8,626.6 658.3,632.6 658.7,638.2 659.2,644.0 659.6,650.9 660.1,656.3 660.5,663.0 661.0,668.6 661.4,674.8 661.9,680.2 662.3,686.0 662.8,691.4 663.2,697.8 663.7,702.7 664.1,708.9 664.6,714.4 665.0,719.2 665.5,722.8 665.9,725.9 666.4,729.7 666.8,732.5 667.3,736.7 667.7,739.4 668.2,742.7 668.6,746.9 669.1,749.7 669.5,753.9 670.0,758.3 670.4,762.9 670.9,769.2 671.3,776.9 671.8,783.1 672.2,789.8 672.7,795.5 673.1,801.6 673.6,806.8 674.0,812.4 674.5,819.0 674.9,825.0 675.4,831.3 675.8,837.5 676.3,843.0 676.7,849.9 677.2,857.1 677.6,864.0 678.1,868.8 678.5,872.7 679.0,875.8 679.4,879.1 679.9,882.5 680.3,885.3 680.8,886.7 681.2,889.4 681.7,892.5 682.1,895.4 682.6,896.7 683.0,900.3 683.5,902.9 683.9,905.6 684.4,906.9 684.8,911.4 685.3,912.9 685.7,915.7 686.2,921.1 686.6,924.9 687.1,929.5 687.5,931.8 688.0,934.7 688.4,938.0 688.9,942.1 689.3,944.3 689.8,945.9 690.2,946.9 690.7,950.5 691.1,952.3 691.6,954.9 692.0,958.5 692.5,961.3 692.9,962.9 693.4,966.1 693.8,968.1 694.3,969.6 694.7,971.7 695.2,972.4 695.6,975.7 696.1,979.0 696.5,982.3 697.0,984.7 697.4,986.2 697.9,990.3 698.3,990.9 698.8,993.3 699.2,996.0 699.7,996.3 700.1,997.5 700.6,1000.2 701.0,1001.8 701.5,1002.6 701.9,1003.8 702.4,1007.2 702.8,1008.2 703.3,1008.6 703.7,1009.7 704.2,1014.1 704.6,1014.4 705.1,1016.1 705.5,1016.2 706.0,1015.6 706.4,1017.4 706.9,1016.7 707.3,1019.4 707.8,1023.4 708.2,1023.2 708.7,1023.4 709.1,1021.6 709.6,1025.5 710.0,1027.9 710.5,1025.5 710.9,1027.2 711.4,1027.0 711.8,1028.8 712.3,1028.8 712.7,1025.4 713.2,1027.5 713.6,1026.2 714.1,1028.8 714.5,1027.3 715.0,1030.6 715.4,1029.7 715.9,1032.8 716.3,1030.6 716.8,1033.1 717.2,1034.3 717.7,1034.1 718.1,1033.3 718.6,1035.5 719.0,1036.9 719.5,1032.8 719.9,1033.2 720.4,1042.2 720.8,1043.1 721.3,1038.7 721.7,1033.6 722.2,1039.7 722.6,1043.4 723.1,1045.2 723.5,1035.7 724.0,1040.2 724.4,1042.1 724.9,1046.4 725.3,1041.5 725.8,1043.1 726.2,1041.9 726.7,1036.3 727.1,1039.4 727.6,1044.3 728.0,1038.4 728.5,1038.1 728.9,1042.4 729.4,1044.1 729.8,1042.7 730.3,1046.5 730.7,1048.6 731.2,1047.3 731.6,1036.9 732.1,1041.5 732.5,1036.7 733.0,1044.2 733.4,1045.9 733.9,1049.1 734.3,1043.2 734.8,1041.3 735.2,1040.1 735.7,1041.6 736.1,1048.9 736.6,1048.1 737.0,1046.8 737.5,1046.9 737.9,1041.4 738.4,1044.8 738.8,1039.9 739.3,1043.4 739.7,1038.0 740.2,1041.5 740.6,1038.6 741.1,1043.0 741.5,1042.3 742.0,1048.6 742.4,1042.4 742.9,1038.9 743.3,1039.5 743.8,1048.0 744.2,1046.5 744.7,1041.6 745.1,1044.6 745.6,1046.6 746.0,1046.0 746.5,1038.4 746.9,1039.5 747.4,1047.3 747.8,1042.9 748.3,1036.1 748.7,1037.2 749.2,1036.1 749.6,1035.5 750.1,1041.6 750.5,1042.2 751.0,1042.7 751.4,1041.3 751.9,1040.1 752.3,1035.5 752.8,1039.8 753.2,1035.9 753.7,1034.5 754.1,1030.7 754.6,1035.7 755.0,1031.0 755.5,1034.2 755.9,1029.6 756.4,1032.1 756.8,1034.2 757.3,1032.8 757.7,1031.6 758.2,1028.9 758.6,1028.2 759.1,1028.7 759.5,1027.1 760.0,1024.7 760.4,1022.0 760.9,1024.3 761.3,1020.4 761.8,1022.2 762.2,1019.5 762.7,1020.5 763.1,1017.5 763.6,1018.9 764.0,1018.8 764.5,1019.0 764.9,1016.9 765.4,1016.8 765.8,1014.2 766.3,1014.3 766.7,1015.2 767.2,1011.9 767.6,1013.1 768.1,1011.6 768.5,1007.0 769.0,1007.2 769.4,1005.5 769.9,1003.6 770.3,1002.7 770.8,998.7 771.2,997.2 771.7,997.0 772.1,993.3 772.6,991.0 773.0,988.2 773.5,986.4 773.9,981.9 774.4,977.9 774.8,976.8 775.3,974.4 775.7,971.5 776.2,969.6 776.6,967.4 777.1,967.1 777.5,964.1 778.0,963.1 778.4,962.4 778.9,959.2 779.3,958.4 779.8,956.1 780.2,953.8 780.7,950.4 781.1,947.9 781.6,945.9 782.0,943.0 782.5,938.7 782.9,935.1 783.4,929.9 783.8,926.1 784.3,921.0 784.7,915.7 785.2,910.4 785.6,905.5 786.1,899.1 786.5,893.7 787.0,887.8 787.4,882.1 787.9,875.3 788.3,867.4 788.8,858.5 789.2,848.8 789.7,839.8 790.1,831.6 790.6,825.0 791.0,818.7 791.5,812.3 791.9,807.5 792.4,802.3 792.8,797.6 793.3,792.9 793.7,788.0 794.2,783.0 794.6,778.1 795.1,773.6 795.5,769.4 796.0,765.9 796.4,763.3 796.9,759.1 797.3,755.6 797.8,752.5 798.2,750.3 798.7,749.1 799.1,746.9 799.6,745.8 800.0,742.6 800.5,740.2 800.9,743.1 801.4,740.1 801.8,742.6 802.3,739.7 802.7,735.0 803.2,737.7 803.6,734.4 804.1,739.7 804.5,732.3 805.0,734.8 805.4,735.4 805.9,735.5 806.3,736.5 806.8,738.4 807.2,737.1 807.7,736.4 808.1,740.5 808.6,740.9 809.0,741.0 809.5,744.1 809.9,745.2 810.4,748.1 810.8,748.2 811.3,750.6 811.7,752.4 812.2,754.7 812.6,758.7 813.1,762.4 813.5,767.5 814.0,773.8 814.4,780.0 814.9,786.7 815.3,794.3 815.8,801.4 816.2,810.9 816.7,820.6 817.1,830.2 817.6,837.7 818.0,843.7 818.5,848.8 818.9,854.0 819.4,859.3 819.8,865.6 820.3,872.1 820.7,880.4 821.2,889.4 821.6,898.6 822.1,907.3 822.5,916.7 823.0,925.5 823.4,934.3 823.9,941.9 824.3,949.6 824.8,956.8 825.2,963.5 825.7,970.6 826.1,976.1 826.6,980.9 827.0,983.7 827.5,986.3 827.9,988.7 828.4,991.9 828.8,994.6 829.3,996.8 829.7,997.8 830.2,998.7 830.6,999.9 831.1,1003.5 831.5,1005.1 832.0,1008.4 832.4,1011.9 832.9,1015.3 833.3,1020.9 833.8,1026.3 834.2,1032.3 834.7,1038.9 835.1,1043.4 835.6,1049.9 836.0,1054.0 836.5,1058.5 836.9,1063.5 837.4,1067.6 837.8,1072.2 838.3,1075.8 838.7,1079.2 839.2,1083.3 839.6,1086.0 840.1,1089.9 840.5,1092.1 841.0,1094.7 841.4,1099.4 841.9,1101.6 842.3,1104.4 842.8,1106.2 843.2,1109.2 843.7,1111.3 844.1,1114.5 844.6,1116.7 845.0,1117.7 845.5,1120.0 845.9,1122.1 846.4,1125.1 846.8,1126.6 847.3,1128.9 847.7,1130.0 848.2,1134.3 848.6,1135.4 849.1,1135.8 849.5,1138.6 850.0,1141.5 850.4,1142.8 850.9,1144.5 851.3,1147.1 851.8,1149.9 852.2,1149.9 852.7,1150.4 853.1,1153.5 853.6,1154.2 854.0,1154.3 854.5,1157.7 854.9,1155.4 855.4,1158.2 855.8,1158.7 856.3,1160.7 856.7,1162.5 857.2,1162.1 857.6,1164.5 858.1,1162.5 858.5,1165.7 859.0,1166.6 859.4,1167.2 859.9,1169.8 860.3,1171.6 860.8,1171.7 861.2,1173.9 861.7,1172.5 862.1,1171.5 862.6,1174.9 863.0,1171.6 863.5,1172.6 863.9,1175.8 864.4,1178.9 864.8,1178.1 865.3,1181.8 865.7,1182.8 866.2,1184.9 866.6,1179.2 867.1,1184.7 867.5,1180.7 868.0,1184.5 868.4,1186.5 868.9,1182.6 869.3,1185.7 869.8,1182.3 870.2,1183.3 870.7,1186.4 871.1,1183.1 871.6,1184.6 872.0,1188.4 872.5,1189.6 872.9,1190.8 873.4,1188.4 873.8,1189.5 874.3,1188.7 874.7,1191.9 875.2,1192.3 875.6,1191.6 876.1,1190.2 876.5,1193.0 877.0,1190.6 877.4,1191.3 877.9,1196.4 878.3,1193.9 878.8,1194.9 879.2,1199.1 879.7,1201.0 880.1,1198.5 880.6,1202.6 881.0,1196.8 881.5,1198.0 881.9,1198.5 882.4,1201.0 882.8,1201.8 883.3,1202.8 883.7,1197.8 884.2,1197.6 884.6,1198.6 885.1,1202.5 885.5,1201.5 886.0,1204.8 886.4,1204.7 886.9,1204.2 887.3,1206.2 887.8,1206.1 888.2,1201.7 888.7,1204.7 889.1,1199.5 889.6,1206.3 890.0,1206.8 890.5,1203.2 890.9,1204.5 891.4,1204.6 891.8,1210.2 892.3,1208.5 892.7,1207.5 893.2,1205.3 893.6,1204.0 894.1,1205.2 894.5,1206.4 895.0,1208.1 895.4,1209.6 895.9,1211.9 896.3,1208.6 896.8,1216.1 897.2,1216.7 897.7,1217.9 898.1,1214.6 898.6,1214.7 899.0,1214.2 899.5,1212.0 899.9,1216.8 900.4,1218.4 900.8,1220.6 901.3,1216.5 901.7,1217.0 902.2,1220.9 902.6,1211.7 903.1,1209.3 903.5,1208.5 904.0,1211.5 904.4,1213.5 904.9,1216.3 905.3,1218.5 905.8,1216.8 906.2,1215.1 906.7,1217.7 907.1,1218.7 907.6,1220.8 908.0,1221.4 908.5,1219.5 908.9,1219.1 909.4,1213.9 909.8,1217.4 910.3,1219.2 910.7,1217.0 911.2,1214.8 911.6,1219.4 912.1,1222.8 912.5,1215.2 913.0,1214.2 913.4,1219.4 913.9,1217.3 914.3,1218.8 914.8,1219.1 915.2,1216.0 915.7,1219.1 916.1,1219.6 916.6,1220.7 917.0,1215.4 917.5,1215.6 917.9,1218.7 918.4,1217.1 918.8,1215.6 919.3,1219.6 919.7,1222.0 920.2,1222.0 920.6,1222.3 921.1,1223.9 921.5,1216.1 922.0,1215.4 922.4,1221.4 922.9,1216.7 923.3,1226.5 923.8,1219.4 924.2,1226.9 924.7,1220.2 925.1,1222.4 925.6,1221.8 926.0,1225.9 926.5,1220.7 926.9,1224.0 927.4,1226.9 927.8,1217.8 928.3,1220.8 928.7,1220.2 929.2,1217.7 929.6,1227.6 930.1,1216.5 930.5,1218.4 931.0,1221.1 931.4,1226.7 931.9,1220.3 932.3,1224.4 932.8,1222.1 933.2,1229.3 933.7,1218.6 934.1,1224.1 934.6,1228.9 935.0,1223.8 935.5,1224.0 935.9,1222.4 936.4,1223.1 936.8,1219.4 937.3,1223.7 937.7,1224.3 938.2,1219.7 938.6,1217.7 939.1,1224.2 939.5,1217.8 940.0,1217.9 940.4,1221.1 940.9,1218.1 941.3,1225.4 941.8,1224.7 942.2,1223.9 942.7,1228.2 943.1,1227.2 943.6,1225.7 944.0,1229.0 944.5,1221.3 944.9,1220.5 945.4,1222.1 945.8,1225.4 946.3,1225.2 946.7,1224.9 947.2,1225.7 947.6,1226.6 948.1,1224.2 948.5,1223.7 949.0,1222.2 949.4,1220.5 949.9,1224.3 950.3,1225.0 950.8,1217.8 951.2,1220.5 951.7,1218.4 952.1,1216.9 952.6,1220.1 953.0,1218.7 953.5,1219.7 953.9,1224.8 954.4,1226.6 954.8,1226.1 955.3,1223.6 955.7,1216.8 956.2,1216.0 956.6,1230.3 957.1,1219.8 957.5,1221.6 958.0,1223.4 958.4,1226.0 958.9,1222.9 959.3,1216.0 959.8,1223.2 960.2,1228.2 960.7,1222.6 961.1,1228.7 961.6,1222.7 962.0,1222.5 962.5,1223.8 962.9,1224.3 963.4,1227.8 963.8,1219.6 964.3,1230.8 964.7,1223.0 965.2,1221.4 965.6,1221.8 966.1,1223.3 966.5,1221.8 967.0,1221.0 967.4,1219.8 967.9,1222.0 968.3,1226.3 968.8,1226.4 969.2,1222.9 969.7,1227.4 970.1,1219.2 970.6,1229.1 971.0,1228.4 971.5,1223.2 971.9,1224.4 972.4,1222.2 972.8,1223.3 973.3,1225.5 973.7,1223.3 974.2,1231.8 974.6,1218.3 975.1,1226.8 975.5,1222.9 976.0,1218.8 976.4,1218.9 976.9,1218.3 977.3,1229.8 977.8,1220.4 978.2,1224.3 978.7,1221.1 979.1,1222.3 979.6,1229.8 980.0,1223.8 980.5,1225.8 980.9,1226.7 981.4,1229.6 981.8,1227.1 982.3,1221.3 982.7,1220.4 983.2,1220.4 983.6,1228.2 984.1,1226.7 984.5,1227.7 985.0,1230.3 985.4,1221.2 985.9,1226.0 986.3,1227.5 986.8,1229.7 987.2,1224.0 987.7,1220.7 988.1,1219.7 988.6,1230.1 989.0,1223.6 989.5,1219.0 989.9,1224.7 990.4,1223.0 990.8,1224.2 991.3,1226.3 991.7,1220.8 992.2,1223.0 992.6,1224.0 993.1,1224.8 993.5,1227.7 994.0,1223.5 994.4,1225.4 994.9,1230.9 995.3,1228.7 995.8,1229.8 996.2,1229.4 996.7,1222.5 997.1,1224.2 997.6,1226.7 998.0,1220.9 998.5,1224.6 998.9,1228.5 999.4,1222.1 999.8,1223.5 1000.3,1220.1 1000.7,1224.8 1001.2,1225.5 1001.6,1224.3 1002.1,1226.3 1002.5,1224.3 1003.0,1219.9 1003.4,1228.6 1003.9,1230.6 1004.3,1228.7 1004.8,1231.4 1005.2,1228.7 1005.7,1226.4 1006.1,1230.5 1006.6,1227.9 1007.0,1223.5 1007.5,1225.3 1007.9,1223.9 1008.4,1231.7 1008.8,1224.9 1009.3,1228.2 1009.7,1230.6 1010.2,1223.6 1010.6,1232.4 1011.1,1232.6 1011.5,1233.9 1012.0,1227.3 1012.4,1228.2 1012.9,1225.4 1013.3,1234.7 1013.8,1233.0 1014.2,1225.6 1014.7,1227.8 1015.1,1232.8 1015.6,1229.8 1016.0,1227.0 1016.5,1233.7 1016.9,1230.5 1017.4,1228.4 1017.8,1230.6 1018.3,1228.8 1018.7,1228.6 1019.2,1228.7 1019.6,1231.2 1020.1,1226.6 1020.5,1227.7 1021.0,1228.3 1021.4,1223.1 1021.9,1227.9 1022.3,1227.0 1022.8,1224.4 1023.2,1228.0 1023.7,1227.2 1024.1,1224.3 1024.6,1226.4 1025.0,1228.6 1025.5,1218.6 1025.9,1223.9 1026.4,1220.6 1026.8,1218.9 1027.3,1228.4 1027.7,1220.8 1028.2,1223.0 1028.6,1227.9 1029.1,1223.8 1029.5,1223.9 1030.0,1224.6 1030.4,1227.2 1030.9,1229.2 1031.3,1225.4 1031.8,1230.2 1032.2,1225.4 1032.7,1223.9 1033.1,1229.1 1033.6,1230.7 1034.0,1231.1 1034.5,1221.4 1034.9,1226.7 1035.4,1230.0 1035.8,1227.8 1036.3,1233.3 1036.7,1234.3 1037.2,1228.2 1037.6,1231.9 1038.1,1223.5 1038.5,1227.7 1039.0,1231.3 1039.4,1222.8 1039.9,1227.1 1040.3,1227.0 1040.8,1223.0 1041.2,1226.9 1041.7,1227.6 1042.1,1228.6 1042.6,1222.0 1043.0,1224.1 1043.5,1230.0 1043.9,1223.6 1044.4,1226.7 1044.8,1225.5 1045.3,1216.6 1045.7,1226.3 1046.2,1227.7 1046.6,1226.7 1047.1,1227.5 1047.5,1227.7 1048.0,1221.3 1048.4,1224.6 1048.9,1226.4 1049.3,1228.4 1049.8,1220.3 1050.2,1221.3 1050.7,1217.1 1051.1,1227.1 1051.6,1226.1 1052.0,1222.9 1052.5,1227.7 1052.9,1221.9 1053.4,1219.7 1053.8,1224.8 1054.3,1229.9 1054.7,1226.2 1055.2,1227.1 1055.6,1229.3 1056.1,1226.2 1056.5,1226.4 1057.0,1226.8 1057.4,1225.1 1057.9,1220.5 1058.3,1223.7 1058.8,1224.2 1059.2,1222.7 1059.7,1227.8 1060.1,1223.4 1060.6,1223.5 1061.0,1224.1 1061.5,1223.1 1061.9,1223.2 1062.4,1229.2 1062.8,1220.7 1063.3,1226.5 1063.7,1221.9 1064.2,1226.6 1064.6,1223.6 1065.1,1226.8 1065.5,1227.7 1066.0,1229.3 1066.4,1233.1 1066.9,1229.9 1067.3,1228.9 1067.8,1226.6 1068.2,1228.1 1068.7,1234.7 1069.1,1225.6 1069.6,1229.8 1070.0,1225.8 1070.5,1229.2 1070.9,1227.3 1071.4,1224.4 1071.8,1224.1 1072.3,1228.5 1072.7,1223.2 1073.2,1224.1 1073.6,1226.5 1074.1,1222.3 1074.5,1227.8 1075.0,1226.6 1075.4,1230.5 1075.9,1229.3 1076.3,1223.7 1076.8,1228.9 1077.2,1227.4 1077.7,1220.3 1078.1,1226.2 1078.6,1224.5 1079.0,1224.4 1079.5,1228.9 1079.9,1230.0 1080.4,1231.9 1080.8,1229.9 1081.3,1224.0 1081.7,1228.0 1082.2,1227.4 1082.6,1223.6 1083.1,1229.0 1083.5,1223.0 1084.0,1227.4 1084.4,1220.8 1084.9,1221.2 1085.3,1221.8 1085.8,1224.0 1086.2,1222.8 1086.7,1224.8 1087.1,1220.4 1087.6,1221.6 1088.0,1221.3 1088.5,1219.6 1088.9,1228.1 1089.4,1226.3 1089.8,1222.6 1090.3,1228.1 1090.7,1226.5 1091.2,1223.8 1091.6,1225.7 1092.1,1225.7 1092.5,1225.2 1093.0,1231.1 1093.4,1223.5 1093.9,1226.7 1094.3,1225.8 1094.8,1226.9 1095.2,1229.4 1095.7,1219.9 1096.1,1229.2 1096.6,1222.1 1097.0,1224.7 1097.5,1226.2 1097.9,1230.8 1098.4,1232.6 1098.8,1226.6 1099.3,1231.5 1099.7,1228.4 1100.2,1225.0 1100.6,1229.7 1101.1,1225.5 1101.5,1230.0 1102.0,1226.1 1102.4,1218.9 1102.9,1228.1 1103.3,1224.1 1103.8,1223.7 1104.2,1224.5 1104.7,1228.2 1105.1,1227.0 1105.6,1224.2 1106.0,1219.9 1106.5,1220.3 1106.9,1228.4 1107.4,1223.7 1107.8,1225.0 1108.3,1229.1 1108.7,1220.3 1109.2,1226.0 1109.6,1225.4 1110.1,1229.9 1110.5,1225.0 1111.0,1231.5 1111.4,1225.0 1111.9,1225.0 1112.3,1222.8 1112.8,1224.4 1113.2,1225.2 1113.7,1224.6 1114.1,1222.8 1114.6,1221.5 1115.0,1223.7 1115.5,1226.8 1115.9,1220.4 1116.4,1231.5 1116.8,1223.1 1117.3,1228.6 1117.7,1231.9 1118.2,1228.1 1118.6,1227.7 1119.1,1224.6 1119.5,1230.2 1120.0,1227.3 1120.4,1221.0 1120.9,1222.2 1121.3,1227.1 1121.8,1226.4 1122.2,1227.0 1122.7,1227.9 1123.1,1218.8 1123.6,1227.0 1124.0,1228.6 1124.5,1228.2 1124.9,1227.4 1125.4,1228.7 1125.8,1230.6 1126.3,1226.4 1126.7,1223.2 1127.2,1226.8 1127.6,1230.0 1128.1,1227.9 1128.5,1225.5 1129.0,1230.0 1129.4,1226.3 1129.9,1222.9 1130.3,1227.4 1130.8,1228.9 1131.2,1232.1 1131.7,1222.3 1132.1,1230.0 1132.6,1229.3 1133.0,1226.4 1133.5,1231.1 1133.9,1223.8 1134.4,1222.5 1134.8,1229.3 1135.3,1231.0 1135.7,1225.8 1136.2,1220.0 1136.6,1220.3 1137.1,1226.0 1137.5,1223.1 1138.0,1223.4 1138.4,1226.2 1138.9,1226.0 1139.3,1223.8 1139.8,1225.4 1140.2,1224.1 1140.7,1221.5 1141.1,1221.7 1141.6,1228.9 1142.0,1224.8 1142.5,1222.5 1142.9,1220.6 1143.4,1223.3 1143.8,1227.8 1144.3,1221.3 1144.7,1227.3 1145.2,1220.8 1145.6,1221.1 1146.1,1224.9 1146.5,1224.5 1147.0,1222.2 1147.4,1220.5 1147.9,1220.0 1148.3,1227.0 1148.8,1230.5 1149.2,1230.4 1149.7,1228.1 1150.1,1227.2 1150.6,1224.2 1151.0,1228.2 1151.5,1223.1 1151.9,1227.0 1152.4,1223.0 1152.8,1227.9 1153.3,1229.9 1153.7,1224.7 1154.2,1225.0 1154.6,1225.9 1155.1,1225.5 1155.5,1222.8 1156.0,1228.9 1156.4,1229.8 1156.9,1222.0 1157.3,1225.0 1157.8,1231.9 1158.2,1225.8 1158.7,1230.1 1159.1,1226.2 1159.6,1229.2 1160.0,1223.1 1160.5,1224.5 1160.9,1221.9 1161.4,1221.8 1161.8,1224.6 1162.3,1229.0 1162.7,1221.8 1163.2,1227.7 1163.6,1224.2 1164.1,1219.8 1164.5,1220.6 1165.0,1226.8 1165.4,1218.2 1165.9,1227.9 1166.3,1224.1 1166.8,1229.9 1167.2,1219.8 1167.7,1218.3 1168.1,1228.4 1168.6,1225.6 1169.0,1225.2 1169.5,1228.3 1169.9,1224.1 1170.4,1220.5 1170.8,1226.9 1171.3,1218.7 1171.7,1217.9 1172.2,1223.9 1172.6,1223.7 1173.1,1221.9 1173.5,1222.0 1174.0,1226.3 1174.4,1228.6 1174.9,1229.7 1175.3,1224.3 1175.8,1225.4 1176.2,1227.8 1176.7,1224.5 1177.1,1225.5 1177.6,1229.4 1178.0,1231.4 1178.5,1226.0 1178.9,1222.3 1179.4,1228.2 1179.8,1224.5 1180.3,1228.8 1180.7,1228.7 1181.2,1227.6 1181.6,1221.1 1182.1,1226.0 1182.5,1224.5 1183.0,1220.8 1183.4,1220.0 1183.9,1223.7 1184.3,1221.4 1184.8,1219.6 1185.2,1222.6 1185.7,1227.3 1186.1,1220.9 1186.6,1223.1 1187.0,1222.5 1187.5,1226.1 1187.9,1222.6 1188.4,1231.3 1188.8,1225.4 1189.3,1221.7 1189.7,1229.2 1190.2,1230.9 1190.6,1223.3 1191.1,1223.4 1191.5,1228.2 1192.0,1222.5 1192.4,1224.4 1192.9,1219.9 1193.3,1227.1 1193.8,1224.4 1194.2,1226.5 1194.7,1229.0 1195.1,1225.9 1195.6,1218.3 1196.0,1222.4 1196.5,1226.1 1196.9,1227.2 1197.4,1219.1 1197.8,1226.1 1198.3,1221.5 1198.7,1221.5 1199.2,1221.9 1199.6,1223.4 1200.1,1221.7 1200.5,1227.5 1201.0,1219.2 1201.4,1223.3 1201.9,1222.8 1202.3,1224.5 1202.8,1222.2 1203.2,1220.7 1203.7,1219.7 1204.1,1223.5 1204.6,1228.1 1205.0,1218.2 1205.5,1225.4 1205.9,1222.8 1206.4,1221.7 1206.8,1226.1 1207.3,1221.1 1207.7,1221.3 1208.2,1228.9 1208.6,1228.1 1209.1,1222.6 1209.5,1229.1 1210.0,1223.3 1210.4,1223.9 1210.9,1228.0 1211.3,1224.0 1211.8,1227.4 1212.2,1225.8 1212.7,1224.4 1213.1,1231.4 1213.6,1229.9 1214.0,1224.5 1214.5,1227.8 1214.9,1226.3 1215.4,1230.3 1215.8,1223.4 1216.3,1222.8 1216.7,1225.7 1217.2,1226.6 1217.6,1230.5 1218.1,1229.8 1218.5,1230.3 1219.0,1221.4 1219.4,1224.4 1219.9,1225.4 1220.3,1226.5 1220.8,1224.2 1221.2,1228.1 1221.7,1223.9 1222.1,1224.1 1222.6,1222.5 1223.0,1219.5 1223.5,1226.1 1223.9,1226.7 1224.4,1223.6 1224.8,1229.9 1225.3,1228.2 1225.7,1229.1 1226.2,1223.1 1226.6,1222.7 1227.1,1231.8 1227.5,1222.3 1228.0,1228.3 1228.4,1230.2 1228.9,1222.2 1229.3,1228.0 1229.8,1223.1 1230.2,1227.7 1230.7,1220.3 1231.1,1221.6 1231.6,1223.8 1232.0,1227.1 1232.5,1221.1 1232.9,1223.0 1233.4,1223.0 1233.8,1227.2 1234.3,1225.2 1234.7,1220.0 1235.2,1222.2 1235.6,1227.2 1236.1,1221.6 1236.5,1219.9 1237.0,1215.2 1237.4,1223.4 1237.9,1222.5 1238.3,1227.9 1238.8,1226.1 1239.2,1231.7 1239.7,1224.4 1240.1,1226.2 1240.6,1224.8 1241.0,1228.5 1241.5,1226.6 1241.9,1227.1 1242.4,1226.8 1242.8,1227.6 1243.3,1223.6 1243.7,1220.4 1244.2,1223.7 1244.6,1225.7 1245.1,1220.8 1245.5,1222.4 1246.0,1217.9 1246.4,1225.2 1246.9,1223.7 1247.3,1220.5 1247.8,1224.0 1248.2,1223.5 1248.7,1225.2 1249.1,1228.5 1249.6,1216.3 1250.0,1217.4 1250.5,1217.6 1250.9,1221.3 1251.4,1223.4 1251.8,1223.6 1252.3,1217.8 1252.7,1218.1 1253.2,1226.5 1253.6,1223.5 1254.1,1220.3 1254.5,1221.4 1255.0,1221.3 1255.4,1219.5 1255.9,1224.9 1256.3,1226.2 1256.8,1223.5 1257.2,1225.6 1257.7,1229.2 1258.1,1222.9 1258.6,1220.9 1259.0,1223.8 1259.5,1224.6 1259.9,1229.3 1260.4,1225.8 1260.8,1225.0 1261.3,1223.1 1261.7,1224.5 1262.2,1220.1 1262.6,1218.6 1263.1,1218.3 1263.5,1220.8 1264.0,1220.2 1264.4,1224.1 1264.9,1225.2 1265.3,1229.0 1265.8,1221.0 1266.2,1224.7 1266.7,1222.6 1267.1,1227.4 1267.6,1222.8 1268.0,1219.5 1268.5,1216.9 1268.9,1224.4 1269.4,1223.7 1269.8,1224.6 1270.3,1215.9 1270.7,1223.4 1271.2,1223.3 1271.6,1227.8 1272.1,1219.3 1272.5,1225.6 1273.0,1223.0 1273.4,1222.5 1273.9,1223.3 1274.3,1224.6 1274.8,1223.7 1275.2,1217.5 1275.7,1222.2 1276.1,1222.7 1276.6,1217.2 1277.0,1216.0 1277.5,1222.7 1277.9,1219.9 1278.4,1222.6 1278.8,1229.7 1279.3,1222.4 1279.7,1223.0 1280.2,1223.4 1280.6,1224.5 1281.1,1220.2 1281.5,1219.5 1282.0,1221.1 1282.4,1216.3 1282.9,1222.3 1283.3,1219.6 1283.8,1221.0 1284.2,1223.7 1284.7,1215.4 1285.1,1220.1 1285.6,1220.3 1286.0,1222.5 1286.5,1221.2 1286.9,1222.5 1287.4,1220.3 1287.8,1222.7 1288.3,1225.0 1288.7,1219.8 1289.2,1219.0 1289.6,1218.4 1290.1,1219.2 1290.5,1219.4 1291.0,1219.7 1291.4,1220.5 1291.9,1217.1 1292.3,1217.6 1292.8,1216.5 1293.2,1221.1 1293.7,1221.6 1294.1,1221.5 1294.6,1223.9 1295.0,1218.7 1295.5,1221.7 1295.9,1218.3 1296.4,1218.8 1296.8,1222.4 1297.3,1215.7 1297.7,1223.0 1298.2,1213.1 1298.6,1224.5 1299.1,1219.6 1299.5,1220.5 1300.0,1220.3 1300.4,1218.9 1300.9,1216.5 1301.3,1222.2 1301.8,1217.9 1302.2,1222.0 1302.7,1223.5 1303.1,1219.2 1303.6,1217.6 1304.0,1218.7 1304.5,1214.6 1304.9,1222.5 1305.4,1216.5 1305.8,1221.7 1306.3,1213.6 1306.7,1213.5 1307.2,1211.6 1307.6,1215.0 1308.1,1214.1 1308.5,1219.0 1309.0,1212.9 1309.4,1218.0 1309.9,1218.1 1310.3,1216.7 1310.8,1220.9 1311.2,1217.9 1311.7,1223.4 1312.1,1219.8 1312.6,1222.6 1313.0,1220.0 1313.5,1223.6 1313.9,1218.3 1314.4,1219.6 1314.8,1213.6 1315.3,1222.8 1315.7,1218.9 1316.2,1212.6 1316.6,1216.0 1317.1,1211.6 1317.5,1217.5 1318.0,1217.0 1318.4,1216.5 1318.9,1215.9 1319.3,1213.4 1319.8,1212.2 1320.2,1212.7 1320.7,1215.1 1321.1,1220.7 1321.6,1216.7 1322.0,1217.6 1322.5,1215.0 1322.9,1218.4 1323.4,1213.3 1323.8,1215.9 1324.3,1217.8 1324.7,1212.2 1325.2,1210.8 1325.6,1215.2 1326.1,1219.6 1326.5,1213.4 1327.0,1220.2 1327.4,1219.4 1327.9,1213.4 1328.3,1216.9 1328.8,1223.5 1329.2,1221.2 1329.7,1219.8 1330.1,1213.4 1330.6,1223.0 1331.0,1216.6 1331.5,1214.1 1331.9,1214.6 1332.4,1219.3 1332.8,1215.0 1333.3,1216.6 1333.7,1212.7 1334.2,1215.5 1334.6,1216.3 1335.1,1214.1 1335.5,1212.0 1336.0,1212.7 1336.4,1215.0 1336.9,1213.3 1337.3,1208.2 1337.8,1216.4 1338.2,1212.1 1338.7,1214.0 1339.1,1216.7 1339.6,1210.6 1340.0,1207.8 1340.5,1212.9 1340.9,1208.8 1341.4,1207.7 1341.8,1211.8 1342.3,1217.6 1342.7,1218.7 1343.2,1211.5 1343.6,1208.4 1344.1,1212.2 1344.5,1205.6 1345.0,1210.4 1345.4,1212.4 1345.9,1212.6 1346.3,1216.3 1346.8,1214.2 1347.2,1213.2 1347.7,1213.5 1348.1,1216.3 1348.6,1210.8 1349.0,1219.0 1349.5,1218.2 1349.9,1215.8 1350.4,1215.1 1350.8,1211.8 1351.3,1208.5 1351.7,1216.0 1352.2,1210.0 1352.6,1207.4 1353.1,1210.6 1353.5,1215.5 1354.0,1209.4 1354.4,1213.3 1354.9,1207.6 1355.3,1207.3 1355.8,1215.2 1356.2,1209.9 1356.7,1210.3 1357.1,1206.7 1357.6,1209.9 1358.0,1211.1 1358.5,1209.6 1358.9,1207.8 1359.4,1210.0 1359.8,1213.6 1360.3,1213.6 1360.7,1213.5 1361.2,1206.2 1361.6,1213.4 1362.1,1208.9 1362.5,1211.9 1363.0,1211.8 1363.4,1207.5 1363.9,1214.0 1364.3,1209.0 1364.8,1210.5 1365.2,1213.4 1365.7,1210.7 1366.1,1212.4 1366.6,1211.6 1367.0,1213.3 1367.5,1213.9 1367.9,1206.7 1368.4,1211.4 1368.8,1210.6 1369.3,1211.9 1369.7,1212.9 1370.2,1211.5 1370.6,1209.4 1371.1,1213.7 1371.5,1216.8 1372.0,1209.7 1372.4,1209.5 1372.9,1207.8 1373.3,1212.4 1373.8,1213.2 1374.2,1204.7 1374.7,1208.6 1375.1,1209.4 1375.6,1209.9 1376.0,1208.9 1376.5,1211.8 1376.9,1209.9 1377.4,1205.4 1377.8,1212.8 1378.3,1208.6 1378.7,1212.5 1379.2,1213.8 1379.6,1210.8 1380.1,1208.8 1380.5,1211.9 1381.0,1212.1 1381.4,1211.1 1381.9,1209.9 1382.3,1205.3 1382.8,1209.4 1383.2,1211.1 1383.7,1216.5 1384.1,1216.0 1384.6,1208.5 1385.0,1216.4 1385.5,1207.8 1385.9,1208.9 1386.4,1209.4 1386.8,1204.6 1387.3,1203.3 1387.7,1206.3 1388.2,1202.8 1388.6,1201.5 1389.1,1206.0 1389.5,1207.1 1390.0,1207.5 1390.4,1201.4 1390.9,1198.0 1391.3,1201.3 1391.8,1208.1 1392.2,1211.6 1392.7,1208.7 1393.1,1208.8 1393.6,1210.3 1394.0,1201.3 1394.5,1207.4 1394.9,1205.8 1395.4,1200.5 1395.8,1205.4 1396.3,1201.5 1396.7,1199.2 1397.2,1203.7 1397.6,1201.6 1398.1,1202.0 1398.5,1203.7 1399.0,1203.1 1399.4,1207.8 1399.9,1204.6 1400.3,1203.5 1400.8,1200.0 1401.2,1207.4 1401.7,1200.1 1402.1,1201.1 1402.6,1200.1 1403.0,1205.6 1403.5,1197.5 1403.9,1205.5 1404.4,1203.3 1404.8,1201.4 1405.3,1204.2 1405.7,1202.5 1406.2,1204.1 1406.6,1204.4 1407.1,1205.9 1407.5,1199.9 1408.0,1205.8 1408.4,1202.0 1408.9,1206.5 1409.3,1199.9 1409.8,1205.8 1410.2,1202.6 1410.7,1203.7 1411.1,1202.8 1411.6,1194.4 1412.0,1197.1 1412.5,1195.8 1412.9,1204.1 1413.4,1206.5 1413.8,1201.7 1414.3,1196.4 1414.7,1199.9 1415.2,1200.1 1415.6,1197.8 1416.1,1197.2 1416.5,1195.8 1417.0,1199.2 1417.4,1196.9 1417.9,1196.8 1418.3,1194.9 1418.8,1196.9 1419.2,1199.4 1419.7,1195.7 1420.1,1196.6 1420.6,1198.4 1421.0,1196.8 1421.5,1196.4 1421.9,1197.7 1422.4,1194.1 1422.8,1200.9 1423.3,1196.3 1423.7,1200.6 1424.2,1193.0 1424.6,1191.5 1425.1,1197.1 1425.5,1194.0 1426.0,1193.0 1426.4,1194.2 1426.9,1191.3 1427.3,1192.3 1427.8,1188.9 1428.2,1190.8 1428.7,1188.0 1429.1,1185.1 1429.6,1190.3 1430.0,1189.8 1430.5,1188.9 1430.9,1187.2 1431.4,1183.3 1431.8,1185.0 1432.3,1191.2 1432.7,1188.2 1433.2,1188.7 1433.6,1190.4 1434.1,1186.1 1434.5,1186.1 1435.0,1188.4 1435.4,1188.1 1435.9,1189.5 1436.3,1192.6 1436.8,1194.1 1437.2,1187.6 1437.7,1188.5 1438.1,1187.6 1438.6,1184.3 1439.0,1184.8 1439.5,1189.9 1439.9,1181.8 1440.4,1184.7 1440.8,1188.1 1441.3,1188.2 1441.7,1188.3 1442.2,1185.5 1442.6,1184.0 1443.1,1181.8 1443.5,1183.4 1444.0,1185.8 1444.4,1188.3 1444.9,1183.5 1445.3,1183.9 1445.8,1184.7 1446.2,1181.5 1446.7,1187.2 1447.1,1184.8 1447.6,1181.6 1448.0,1181.2 1448.5,1181.5 1448.9,1180.7 1449.4,1179.2 1449.8,1182.2 1450.3,1181.7 1450.7,1182.6 1451.2,1184.4 1451.6,1182.9 1452.1,1175.3 1452.5,1177.4 1453.0,1179.0 1453.4,1177.2 1453.9,1173.0 1454.3,1174.6 1454.8,1174.2 1455.2,1174.7 1455.7,1173.2 1456.1,1180.5 1456.6,1182.5 1457.0,1174.5 1457.5,1180.1 1457.9,1179.7 1458.4,1175.1 1458.8,1180.2 1459.3,1173.4 1459.7,1171.6 1460.2,1170.0 1460.6,1172.4 1461.1,1173.9 1461.5,1174.8 1462.0,1169.6 1462.4,1167.8 1462.9,1169.3 1463.3,1176.0 1463.8,1173.0 1464.2,1173.7 1464.7,1166.1 1465.1,1166.2 1465.6,1166.9 1466.0,1167.2 1466.5,1169.5 1466.9,1168.3 1467.4,1165.6 1467.8,1170.4 1468.3,1170.3 1468.7,1167.7 1469.2,1166.1 1469.6,1166.8 1470.1,1166.6 1470.5,1165.5 1471.0,1169.7 1471.4,1169.0 1471.9,1171.6 1472.3,1165.4 1472.8,1164.5 1473.2,1167.9 1473.7,1161.9 1474.1,1160.9 1474.6,1168.6 1475.0,1169.8 1475.5,1167.3 1475.9,1166.8 1476.4,1163.9 1476.8,1163.3 1477.3,1170.5 1477.7,1167.4 1478.2,1165.3 1478.6,1166.5 1479.1,1165.7 1479.5,1171.4 1480.0,1164.2 1480.4,1166.2 1480.9,1163.5 1481.3,1161.7 1481.8,1168.2 1482.2,1165.1 1482.7,1163.6 1483.1,1162.6 1483.6,1165.3 1484.0,1165.9 1484.5,1169.0 1484.9,1172.0 1485.4,1163.7 1485.8,1169.5 1486.3,1164.2 1486.7,1165.3 1487.2,1169.5 1487.6,1165.8 1488.1,1168.6 1488.5,1164.5 1489.0,1165.5 1489.4,1165.1 1489.9,1166.3 1490.3,1166.5 1490.8,1166.9 1491.2,1173.4 1491.7,1167.8 1492.1,1164.9 1492.6,1164.4 1493.0,1160.7 1493.5,1158.7 1493.9,1163.0 1494.4,1160.9 1494.8,1172.1 1495.3,1164.6 1495.7,1166.9 1496.2,1170.5 1496.6,1165.1 1497.1,1167.9 1497.5,1171.5 1498.0,1167.2 1498.4,1167.6 1498.9,1170.1 1499.3,1163.5 1499.8,1175.4 1500.2,1171.6 1500.7,1166.3 1501.1,1174.3 1501.6,1174.8 1502.0,1174.6 1502.5,1170.4 1502.9,1172.9 1503.4,1169.0 1503.8,1174.3 1504.3,1169.0 1504.7,1171.9 1505.2,1170.1 1505.6,1172.2 1506.1,1175.5 1506.5,1176.7 1507.0,1170.7 1507.4,1175.7 1507.9,1176.6 1508.3,1170.9 1508.8,1175.7 1509.2,1175.3 1509.7,1176.9 1510.1,1176.2 1510.6,1178.9 1511.0,1177.2 1511.5,1173.5 1511.9,1176.6 1512.4,1182.4 1512.8,1179.1 1513.3,1184.9 1513.7,1181.0 1514.2,1184.8 1514.6,1182.8 1515.1,1180.8 1515.5,1181.9 1516.0,1185.7 1516.4,1184.5 1516.9,1182.3 1517.3,1184.9 1517.8,1184.9 1518.2,1183.5 1518.7,1185.0 1519.1,1185.2 1519.6,1183.9 1520.0,1179.9 1520.5,1180.5 1520.9,1185.1 1521.4,1186.7 1521.8,1192.9 1522.3,1184.7 1522.7,1189.0 1523.2,1189.2 1523.6,1194.6 1524.1,1196.5 1524.5,1197.1 1525.0,1192.5 1525.4,1197.8 1525.9,1192.4 1526.3,1191.3 1526.8,1190.5 1527.2,1195.2 1527.7,1194.6 1528.1,1192.8 1528.6,1189.5 1529.0,1194.1 1529.5,1193.0 1529.9,1189.3 1530.4,1188.4 1530.8,1191.6 1531.3,1193.3 1531.7,1200.6 1532.2,1195.1 1532.6,1199.7 1533.1,1198.7 1533.5,1196.8 1534.0,1190.4 1534.4,1192.5 1534.9,1192.9 1535.3,1188.3 1535.8,1195.1 1536.2,1192.0 1536.7,1192.1 1537.1,1193.1 1537.6,1199.1 1538.0,1201.6 1538.5,1190.3 1538.9,1198.7 1539.4,1195.0 1539.8,1191.1 1540.3,1191.4 1540.7,1196.5 1541.2,1191.4 1541.6,1194.2 1542.1,1196.7 1542.5,1195.5 1543.0,1199.9 1543.4,1197.6 1543.9,1195.2 1544.3,1198.3 1544.8,1198.0 1545.2,1202.4 1545.7,1201.3 1546.1,1197.8 1546.6,1195.5 1547.0,1198.2 1547.5,1192.7 1547.9,1201.1 1548.4,1198.2 1548.8,1198.1 1549.3,1197.2 1549.7,1200.8 1550.2,1199.0 1550.6,1199.0 1551.1,1200.1 1551.5,1196.6 1552.0,1200.1 1552.4,1201.3 1552.9,1197.9 1553.3,1203.0 1553.8,1203.0 1554.2,1199.8 1554.7,1196.9 1555.1,1192.4 1555.6,1198.4 1556.0,1192.5 1556.5,1189.0 1556.9,1197.2 1557.4,1197.5 1557.8,1198.4 1558.3,1191.8 1558.7,1187.1 1559.2,1194.5 1559.6,1192.4 1560.1,1190.9 1560.5,1193.0 1561.0,1201.5 1561.4,1199.0 1561.9,1197.0 1562.3,1197.1 1562.8,1198.0 1563.2,1194.4 1563.7,1198.5 1564.1,1199.2 1564.6,1196.3 1565.0,1197.2 1565.5,1197.6 1565.9,1195.1 1566.4,1202.3 1566.8,1193.6 1567.3,1201.3 1567.7,1206.3 1568.2,1198.9 1568.6,1195.3 1569.1,1202.3 1569.5,1202.3 1570.0,1199.9 1570.4,1203.7 1570.9,1195.7 1571.3,1201.5 1571.8,1198.2 1572.2,1193.4 1572.7,1198.0 1573.1,1194.2 1573.6,1197.2 1574.0,1203.9 1574.5,1202.8 1574.9,1199.7 1575.4,1202.0 1575.8,1199.0 1576.3,1191.3 1576.7,1196.6 1577.2,1204.7 1577.6,1200.7 1578.1,1200.7 1578.5,1203.5 1579.0,1194.4 1579.4,1202.1 1579.9,1203.1 1580.3,1198.9 1580.8,1197.5 1581.2,1193.0 1581.7,1193.7 1582.1,1199.7 1582.6,1200.6 1583.0,1194.3 1583.5,1194.2 1583.9,1195.3 1584.4,1194.8 1584.8,1193.8 1585.3,1189.6 1585.7,1194.3 1586.2,1197.8 1586.6,1193.7 1587.1,1195.8 1587.5,1195.0 1588.0,1192.8 1588.4,1197.4 1588.9,1200.6 1589.3,1194.3 1589.8,1195.4 1590.2,1194.9 1590.7,1190.6 1591.1,1196.1 1591.6,1192.5 1592.0,1191.3 1592.5,1201.5 1592.9,1192.8 1593.4,1195.0 1593.8,1194.1 1594.3,1199.9 1594.7,1194.6 1595.2,1192.8 1595.6,1196.9 1596.1,1199.1 1596.5,1193.4 1597.0,1200.3 1597.4,1194.9 1597.9,1196.7 1598.3,1189.0 1598.8,1195.5 1599.2,1189.3 1599.7,1190.4 1600.1,1194.3 1600.6,1190.4 1601.0,1188.5 1601.5,1192.9 1601.9,1194.9 1602.4,1197.8 1602.8,1192.0 1603.3,1193.8 1603.7,1190.4 1604.2,1189.8 1604.6,1197.0 1605.1,1191.2 1605.5,1197.7 1606.0,1188.8 1606.4,1189.5 1606.9,1184.7 1607.3,1188.2 1607.8,1182.3 1608.2,1189.1 1608.7,1192.9 1609.1,1193.3 1609.6,1191.6 1610.0,1193.5 1610.5,1188.9 1610.9,1189.8 1611.4,1186.1 1611.8,1187.6 1612.3,1184.3 1612.7,1185.0 1613.2,1183.9 1613.6,1186.6 1614.1,1189.0 1614.5,1190.2 1615.0,1186.0 1615.4,1185.8 1615.9,1193.4 1616.3,1185.9 1616.8,1191.4 1617.2,1185.6 1617.7,1183.8 1618.1,1186.3 1618.6,1184.4 1619.0,1184.1 1619.5,1187.1 1619.9,1191.8 1620.4,1189.8 1620.8,1194.8 1621.3,1187.9 1621.7,1190.4 1622.2,1180.1 1622.6,1185.8 1623.1,1183.3 1623.5,1185.3 1624.0,1183.9 1624.4,1183.7 1624.9,1185.1 1625.3,1177.8 1625.8,1186.8 1626.2,1182.4 1626.7,1187.6 1627.1,1183.5 1627.6,1189.9 1628.0,1185.6 1628.5,1185.2 1628.9,1184.7 1629.4,1180.8 1629.8,1182.5 1630.3,1180.9 1630.7,1181.9 1631.2,1188.9 1631.6,1187.3 1632.1,1190.3 1632.5,1189.3 1633.0,1184.7 1633.4,1184.4 1633.9,1192.6 1634.3,1194.9 1634.8,1188.6 1635.2,1191.7 1635.7,1190.5 1636.1,1191.0 1636.6,1190.2 1637.0,1190.9 1637.5,1191.0 1637.9,1186.6 1638.4,1185.9 1638.8,1191.0 1639.3,1190.9 1639.7,1186.6 1640.2,1191.0 1640.6,1186.9 1641.1,1193.0 1641.5,1188.9 1642.0,1187.5 1642.4,1189.3 1642.9,1194.9 1643.3,1188.9 1643.8,1185.3 1644.2,1190.3 1644.7,1194.5 1645.1,1193.7 1645.6,1192.9 1646.0,1189.9 1646.5,1198.2 1646.9,1193.0 1647.4,1196.3 1647.8,1194.3 1648.3,1192.9 1648.7,1198.4 1649.2,1201.8 1649.6,1200.6 1650.1,1198.1 1650.5,1201.4 1651.0,1199.2 1651.4,1199.4 1651.9,1199.0 1652.3,1195.1 1652.8,1203.5 1653.2,1202.1 1653.7,1202.0 1654.1,1200.2 1654.6,1198.0 1655.0,1202.0 1655.5,1201.7 1655.9,1198.9 1656.4,1198.1 1656.8,1195.9 1657.3,1204.0 1657.7,1200.4 1658.2,1202.4 1658.6,1202.6 1659.1,1202.7 1659.5,1202.8 1660.0,1208.2 1660.4,1202.0 1660.9,1206.8 1661.3,1208.1 1661.8,1201.9 1662.2,1205.2 1662.7,1204.0 1663.1,1202.4 1663.6,1206.4 1664.0,1207.2 1664.5,1210.6 1664.9,1210.9 1665.4,1208.3 1665.8,1208.5 1666.3,1209.2 1666.7,1212.4 1667.2,1209.2 1667.6,1212.8 1668.1,1205.3 1668.5,1206.3 1669.0,1204.5 1669.4,1210.5 1669.9,1204.4 1670.3,1207.5 1670.8,1206.3 1671.2,1210.4 1671.7,1208.3 1672.1,1210.4 1672.6,1214.5 1673.0,1211.4 1673.5,1215.4 1673.9,1211.4 1674.4,1212.1 1674.8,1213.6 1675.3,1218.7 1675.6,1217.6"/>
<path stroke="#0070e6" d="M125.0,1222.2 125.5,1225.4 125.9,1230.8 126.4,1226.5 126.8,1224.7 127.3,1226.9 127.7,1232.4 128.2,1221.3 128.6,1226.8 129.1,1219.6 129.5,1224.5 130.0,1228.0 130.4,1225.5 130.9,1226.1 131.3,1231.1 131.8,1231.3 132.2,1222.1 132.7,1228.1 133.1,1227.5 133.6,1226.1 134.0,1225.0 134.5,1229.7 134.9,1221.1 135.4,1224.0 135.8,1226.1 136.3,1230.1 136.7,1224.1 137.2,1229.0 137.6,1221.5 138.1,1231.4 138.5,1226.0 139.0,1218.2 139.4,1223.7 139.9,1228.9 140.3,1216.8 140.8,1225.8 141.2,1222.4 141.7,1231.0 142.1,1231.2 142.6,1218.2 143.0,1229.9 143.5,1228.3 143.9,1226.5 144.4,1228.9 144.8,1223.7 145.3,1229.5 145.7,1232.8 146.2,1225.8 146.6,1233.7 147.1,1223.9 147.5,1222.2 148.0,1220.8 148.4,1220.4 148.9,1219.4 149.3,1230.6 149.8,1227.3 150.2,1225.2 150.7,1225.2 151.1,1225.9 151.6,1223.0 152.0,1221.8 152.5,1226.0 152.9,1227.9 153.4,1225.6 153.8,1232.5 154.3,1224.8 154.7,1230.5 155.2,1224.5 155.6,1233.7 156.1,1226.5 156.5,1230.6 157.0,1233.5 157.4,1229.4 157.9,1229.4 158.3,1220.2 158.8,1222.7 159.2,1222.5 159.7,1223.6 160.1,1221.5 160.6,1229.6 161.0,1221.7 161.5,1224.9 161.9,1227.9 162.4,1228.1 162.8,1232.2 163.3,1229.9 163.7,1225.8 164.2,1230.2 164.6,1226.8 165.1,1217.1 165.5,1228.0 166.0,1222.5 166.4,1231.3 166.9,1228.3 167.3,1229.6 167.8,1229.4 168.2,1229.7 168.7,1224.0 169.1,1226.9 169.6,1223.7 170.0,1225.3 170.5,1229.6 170.9,1228.7 171.4,1218.1 171.8,1218.7 172.3,1219.6 172.7,1220.2 173.2,1230.2 173.6,1224.6 174.1,1220.8 174.5,1227.2 175.0,1222.4 175.4,1223.8 175.9,1219.7 176.3,1225.0 176.8,1220.1 177.2,1225.0 177.7,1229.1 178.1,1227.9 178.6,1223.9 179.0,1227.0 179.5,1229.7 179.9,1229.0 180.4,1225.9 180.8,1226.7 181.3,1219.7 181.7,1225.1 182.2,1221.3 182.6,1224.5 183.1,1227.8 183.5,1225.8 184.0,1230.7 184.4,1231.1 184.9,1224.8 185.3,1224.8 185.8,1223.2 186.2,1227.4 186.7,1218.8 187.1,1221.0 187.6,1222.4 188.0,1220.5 188.5,1226.3 188.9,1226.5 189.4,1225.1 189.8,1227.8 190.3,1223.6 190.7,1221.1 191.2,1223.1 191.6,1224.2 192.1,1223.2 192.5,1226.0 193.0,1230.4 193.4,1221.6 193.9,1221.9 194.3,1224.5 194.8,1227.7 195.2,1230.1 195.7,1224.5 196.1,1226.3 196.6,1231.8 197.0,1222.4 197.5,1229.5 197.9,1223.4 198.4,1230.6 198.8,1228.5 199.3,1222.7 199.7,1217.3 200.2,1214.8 200.6,1223.0 201.1,1230.1 201.5,1220.8 202.0,1225.6 202.4,1227.5 202.9,1223.2 203.3,1230.0 203.8,1218.6 204.2,1223.4 204.7,1226.7 205.1,1225.2 205.6,1229.5 206.0,1223.6 206.5,1219.0 206.9,1216.9 207.4,1227.6 207.8,1224.8 208.3,1227.5 208.7,1216.5 209.2,1223.0 209.6,1229.4 210.1,1227.1 210.5,1227.4 211.0,1223.5 211.4,1225.1 211.9,1226.8 212.3,1227.0 212.8,1224.0 213.2,1225.8 213.7,1220.4 214.1,1223.0 214.6,1223.9 215.0,1224.9 215.5,1227.2 215.9,1223.1 216.4,1229.5 216.8,1229.5 217.3,1226.8 217.7,1224.6 218.2,1222.2 218.6,1226.0 219.1,1233.4 219.5,1218.8 220.0,1228.2 220.4,1230.5 220.9,1228.7 221.3,1221.9 221.8,1219.8 222.2,1227.8 222.7,1223.8 223.1,1220.1 223.6,1219.7 224.0,1226.5 224.5,1219.0 224.9,1221.3 225.4,1223.4 225.8,1228.0 226.3,1218.7 226.7,1229.0 227.2,1225.4 227.6,1222.8 228.1,1226.5 228.5,1219.3 229.0,1229.8 229.4,1221.7 229.9,1227.7 230.3,1220.3 230.8,1227.0 231.2,1228.8 231.7,1227.7 232.1,1220.3 232.6,1226.5 233.0,1231.8 233.5,1220.7 233.9,1224.6 234.4,1230.1 234.8,1231.9 235.3,1228.6 235.7,1231.4 236.2,1226.1 236.6,1222.7 237.1,1227.1 237.5,1228.0 238.0,1228.9 238.4,1224.8 238.9,1223.5 239.3,1221.3 239.8,1230.3 240.2,1216.4 240.7,1218.6 241.1,1218.1 241.6,1227.6 242.0,1225.4 242.5,1220.6 242.9,1219.8 243.4,1218.9 243.8,1227.1 244.3,1223.6 244.7,1224.1 245.2,1217.7 245.6,1228.9 246.1,1224.5 246.5,1227.0 247.0,1226.0 247.4,1228.2 247.9,1222.5 248.3,1225.4 248.8,1222.1 249.2,1220.0 249.7,1224.0 250.1,1222.8 250.6,1223.6 251.0,1217.0 251.5,1220.4 251.9,1217.7 252.4,1217.9 252.8,1215.1 253.3,1223.1 253.7,1222.9 254.2,1222.3 254.6,1219.4 255.1,1221.3 255.5,1220.8 256.0,1225.8 256.4,1217.3 256.9,1216.6 257.3,1228.5 257.8,1219.1 258.2,1226.6 258.7,1225.8 259.1,1232.0 259.6,1222.9 260.0,1223.1 260.5,1220.6 260.9,1223.2 261.4,1232.4 261.8,1220.4 262.3,1226.5 262.7,1232.5 263.2,1219.5 263.6,1218.7 264.1,1224.8 264.5,1218.3 265.0,1220.5 265.4,1223.8 265.9,1228.8 266.3,1216.9 266.8,1229.1 267.2,1222.7 267.7,1228.4 268.1,1222.6 268.6,1224.8 269.0,1214.9 269.5,1224.0 269.9,1225.2 270.4,1224.4 270.8,1223.1 271.3,1215.9 271.7,1219.4 272.2,1222.9 272.6,1215.4 273.1,1224.0 273.5,1222.6 274.0,1216.7 274.4,1218.0 274.9,1222.9 275.3,1215.9 275.8,1217.1 276.2,1218.3 276.7,1219.8 277.1,1221.9 277.6,1218.8 278.0,1226.4 278.5,1218.6 278.9,1218.4 279.4,1217.8 279.8,1213.0 280.3,1217.0 280.7,1221.7 281.2,1226.4 281.6,1221.3 282.1,1220.2 282.5,1224.4 283.0,1225.9 283.4,1219.0 283.9,1216.5 284.3,1226.3 284.8,1223.0 285.2,1223.0 285.7,1226.4 286.1,1226.3 286.6,1219.3 287.0,1227.8 287.5,1229.4 287.9,1222.5 288.4,1224.2 288.8,1221.5 289.3,1220.7 289.7,1214.7 290.2,1222.6 290.6,1228.9 291.1,1222.3 291.5,1230.1 292.0,1219.9 292.4,1226.9 292.9,1219.2 293.3,1217.3 293.8,1222.9 294.2,1220.9 294.7,1217.2 295.1,1218.0 295.6,1224.5 296.0,1209.9 296.5,1212.7 296.9,1224.5 297.4,1217.2 297.8,1216.2 298.3,1213.0 298.7,1220.5 299.2,1226.2 299.6,1225.5 300.1,1221.8 300.5,1221.9 301.0,1230.3 301.4,1224.3 301.9,1216.4 302.3,1217.4 302.8,1222.1 303.2,1223.6 303.7,1224.6 304.1,1223.8 304.6,1219.8 305.0,1218.1 305.5,1216.0 305.9,1217.3 306.4,1218.9 306.8,1226.8 307.3,1218.0 307.7,1215.3 308.2,1222.5 308.6,1215.8 309.1,1214.8 309.5,1223.8 310.0,1225.2 310.4,1217.6 310.9,1216.3 311.3,1221.3 311.8,1221.5 312.2,1217.5 312.7,1223.0 313.1,1222.0 313.6,1224.0 314.0,1217.0 314.5,1219.4 314.9,1209.6 315.4,1211.9 315.8,1211.8 316.3,1213.7 316.7,1221.4 317.2,1215.4 317.6,1215.2 318.1,1218.4 318.5,1215.9 319.0,1213.4 319.4,1213.9 319.9,1224.8 320.3,1217.4 320.8,1218.6 321.2,1219.4 321.7,1222.9 322.1,1222.9 322.6,1217.8 323.0,1219.8 323.5,1218.7 323.9,1220.6 324.4,1222.9 324.8,1224.0 325.3,1224.3 325.7,1225.6 326.2,1214.4 326.6,1221.4 327.1,1215.7 327.5,1221.6 328.0,1223.1 328.4,1223.7 328.9,1218.7 329.3,1212.2 329.8,1221.3 330.2,1217.2 330.7,1213.6 331.1,1221.7 331.6,1211.4 332.0,1214.8 332.5,1223.2 332.9,1209.3 333.4,1211.1 333.8,1213.6 334.3,1216.5 334.7,1217.7 335.2,1209.8 335.6,1211.2 336.1,1215.9 336.5,1210.4 337.0,1209.0 337.4,1213.5 337.9,1215.5 338.3,1224.1 338.8,1211.5 339.2,1218.0 339.7,1219.7 340.1,1218.7 340.6,1213.7 341.0,1218.5 341.5,1214.6 341.9,1218.1 342.4,1209.6 342.8,1221.0 343.3,1220.0 343.7,1219.1 344.2,1213.1 344.6,1216.8 345.1,1220.0 345.5,1215.4 346.0,1217.1 346.4,1216.4 346.9,1213.5 347.3,1218.6 347.8,1212.1 348.2,1219.6 348.7,1209.7 349.1,1215.9 349.6,1216.0 350.0,1216.4 350.5,1211.7 350.9,1211.7 351.4,1214.5 351.8,1217.6 352.3,1218.7 352.7,1207.6 353.2,1212.7 353.6,1206.3 354.1,1210.5 354.5,1219.1 355.0,1221.1 355.4,1220.9 355.9,1212.7 356.3,1215.4 356.8,1219.3 357.2,1215.6 357.7,1212.9 358.1,1219.5 358.6,1219.0 359.0,1212.0 359.5,1216.3 359.9,1210.9 360.4,1217.6 360.8,1217.3 361.3,1208.5 361.7,1219.6 362.2,1213.4 362.6,1208.3 363.1,1215.9 363.5,1211.8 364.0,1210.3 364.4,1222.0 364.9,1209.4 365.3,1209.5 365.8,1213.4 366.2,1207.0 366.7,1215.6 367.1,1207.9 367.6,1210.5 368.0,1216.9 368.5,1211.5 368.9,1221.8 369.4,1219.4 369.8,1219.2 370.3,1210.1 370.7,1215.9 371.2,1209.1 371.6,1209.6 372.1,1218.3 372.5,1213.6 373.0,1218.6 373.4,1217.4 373.9,1219.4 374.3,1218.7 374.8,1218.1 375.2,1213.1 375.7,1217.7 376.1,1214.9 376.6,1206.7 377.0,1210.7 377.5,1209.5 377.9,1211.0 378.4,1206.2 378.8,1209.2 379.3,1215.8 379.7,1211.5 380.2,1209.6 380.6,1209.5 381.1,1216.6 381.5,1214.0 382.0,1213.0 382.4,1211.8 382.9,1214.8 383.3,1208.8 383.8,1221.0 384.2,1215.3 384.7,1216.1 385.1,1207.3 385.6,1215.2 386.0,1212.1 386.5,1215.5 386.9,1212.4 387.4,1211.5 387.8,1215.3 388.3,1207.9 388.7,1209.0 389.2,1204.9 389.6,1206.9 390.1,1206.3 390.5,1206.7 391.0,1213.2 391.4,1208.9 391.9,1208.3 392.3,1210.9 392.8,1216.6 393.2,1215.4 393.7,1212.7 394.1,1208.9 394.6,1205.8 395.0,1210.0 395.5,1210.7 395.9,1212.9 396.4,1209.4 396.8,1214.8 397.3,1214.1 397.7,1216.1 398.2,1208.4 398.6,1209.9 399.1,1209.0 399.5,1214.1 400.0,1209.5 400.4,1210.8 400.9,1210.3 401.3,1210.4 401.8,1204.2 402.2,1203.0 402.7,1205.5 403.1,1206.4 403.6,1209.5 404.0,1207.3 404.5,1206.3 404.9,1205.6 405.4,1201.7 405.8,1208.5 406.3,1209.1 406.7,1206.0 407.2,1211.9 407.6,1208.7 408.1,1201.8 408.5,1202.0 409.0,1204.1 409.4,1209.8 409.9,1207.9 410.3,1209.0 410.8,1201.6 411.2,1203.0 411.7,1202.6 412.1,1207.9 412.6,1206.6 413.0,1201.6 413.5,1210.6 413.9,1204.1 414.4,1200.0 414.8,1204.5 415.3,1204.3 415.7,1209.4 416.2,1207.2 416.6,1200.6 417.1,1207.5 417.5,1199.1 418.0,1208.5 418.4,1201.5 418.9,1197.4 419.3,1199.8 419.8,1207.9 420.2,1206.5 420.7,1200.3 421.1,1206.9 421.6,1205.7 422.0,1202.0 422.5,1196.1 422.9,1195.3 423.4,1201.2 423.8,1199.0 424.3,1198.8 424.7,1201.8 425.2,1201.7 425.6,1197.7 426.1,1208.5 426.5,1200.1 427.0,1199.4 427.4,1202.7 427.9,1210.0 428.3,1199.3 428.8,1197.5 429.2,1200.9 429.7,1201.9 430.1,1200.9 430.6,1202.2 431.0,1199.2 431.5,1199.5 431.9,1206.5 432.4,1206.6 432.8,1204.2 433.3,1205.6 433.7,1203.9 434.2,1198.3 434.6,1195.6 435.1,1198.5 435.5,1204.6 436.0,1200.8 436.4,1206.0 436.9,1200.3 437.3,1199.5 437.8,1195.5 438.2,1198.3 438.7,1199.9 439.1,1192.0 439.6,1194.3 440.0,1192.8 440.5,1196.6 440.9,1198.5 441.4,1195.8 441.8,1199.1 442.3,1193.0 442.7,1198.0 443.2,1200.0 443.6,1197.2 444.1,1192.8 444.5,1191.5 445.0,1194.0 445.4,1190.7 445.9,1190.6 446.3,1191.2 446.8,1190.3 447.2,1185.3 447.7,1186.0 448.1,1185.3 448.6,1189.9 449.0,1188.6 449.5,1183.7 449.9,1183.5 450.4,1179.0 450.8,1184.0 451.3,1183.7 451.7,1187.0 452.2,1183.4 452.6,1184.0 453.1,1185.7 453.5,1188.4 454.0,1185.8 454.4,1187.1 454.9,1184.5 455.3,1179.7 455.8,1181.7 456.2,1186.0 456.7,1182.0 457.1,1182.5 457.6,1175.9 458.0,1179.6 458.5,1176.7 458.9,1181.4 459.4,1174.8 459.8,1181.5 460.3,1182.9 460.7,1177.9 461.2,1179.1 461.6,1177.6 462.1,1175.7 462.5,1176.8 463.0,1177.7 463.4,1181.2 463.9,1173.1 464.3,1177.5 464.8,1176.9 465.2,1175.1 465.7,1168.2 466.1,1174.4 466.6,1181.0 467.0,1171.8 467.5,1175.6 467.9,1177.4 468.4,1176.0 468.8,1170.9 469.3,1180.2 469.7,1177.8 470.2,1173.0 470.6,1175.0 471.1,1165.6 471.5,1173.2 472.0,1167.1 472.4,1171.7 472.9,1168.4 473.3,1162.6 473.8,1168.8 474.2,1162.6 474.7,1164.9 475.1,1165.2 475.6,1161.2 476.0,1165.6 476.5,1160.4 476.9,1163.0 477.4,1168.6 477.8,1166.6 478.3,1162.8 478.7,1160.7 479.2,1161.0 479.6,1160.3 480.1,1162.7 480.5,1159.3 481.0,1156.7 481.4,1157.9 481.9,1159.3 482.3,1158.1 482.8,1155.9 483.2,1155.1 483.7,1153.9 484.1,1159.1 484.6,1157.9 485.0,1154.7 485.5,1158.6 485.9,1155.6 486.4,1155.0 486.8,1157.5 487.3,1151.6 487.7,1148.9 488.2,1153.2 488.6,1151.2 489.1,1152.5 489.5,1154.6 490.0,1152.3 490.4,1150.4 490.9,1152.2 491.3,1150.0 491.8,1149.5 492.2,1151.6 492.7,1147.2 493.1,1143.9 493.6,1146.8 494.0,1144.6 494.5,1140.9 494.9,1144.9 495.4,1140.7 495.8,1140.8 496.3,1143.7 496.7,1143.2 497.2,1143.0 497.6,1140.2 498.1,1134.8 498.5,1135.3 499.0,1140.7 499.4,1141.1 499.9,1141.3 500.3,1138.2 500.8,1137.7 501.2,1138.6 501.7,1136.6 502.1,1132.6 502.6,1131.2 503.0,1130.5 503.5,1129.9 503.9,1130.4 504.4,1134.8 504.8,1130.0 505.3,1131.2 505.7,1131.9 506.2,1129.7 506.6,1129.1 507.1,1128.8 507.5,1129.5 508.0,1128.0 508.4,1126.8 508.9,1125.0 509.3,1123.1 509.8,1126.9 510.2,1128.5 510.7,1125.5 511.1,1123.3 511.6,1129.5 512.0,1123.5 512.5,1123.2 512.9,1119.2 513.4,1125.2 513.8,1121.8 514.3,1120.5 514.7,1118.2 515.2,1119.5 515.6,1118.0 516.1,1121.1 516.5,1122.0 517.0,1112.2 517.4,1121.1 517.9,1119.2 518.3,1112.1 518.8,1118.2 519.2,1116.5 519.7,1115.5 520.1,1113.3 520.6,1112.7 521.0,1116.4 521.5,1110.9 521.9,1107.2 522.4,1113.2 522.8,1107.1 523.3,1105.6 523.7,1107.9 524.2,1104.3 524.6,1106.6 525.1,1101.7 525.5,1108.4 526.0,1102.0 526.4,1102.5 526.9,1100.3 527.3,1101.4 527.8,1099.7 528.2,1102.8 528.7,1097.2 529.1,1102.0 529.6,1099.5 530.0,1103.0 530.5,1095.9 530.9,1092.6 531.4,1100.3 531.8,1096.9 532.3,1100.0 532.7,1098.1 533.2,1096.0 533.6,1093.9 534.1,1097.0 534.5,1097.2 535.0,1098.5 535.4,1095.4 535.9,1094.6 536.3,1096.2 536.8,1089.4 537.2,1093.0 537.7,1091.1 538.1,1085.4 538.6,1089.2 539.0,1089.6 539.5,1087.3 539.9,1081.2 540.4,1080.9 540.8,1080.7 541.3,1079.6 541.7,1080.8 542.2,1081.9 542.6,1082.8 543.1,1083.3 543.5,1081.2 544.0,1078.4 544.4,1076.3 544.9,1079.8 545.3,1076.8 545.8,1078.2 546.2,1075.4 546.7,1070.1 547.1,1072.0 547.6,1071.0 548.0,1071.1 548.5,1068.2 548.9,1071.2 549.4,1068.4 549.8,1066.5 550.3,1063.4 550.7,1068.6 551.2,1063.6 551.6,1066.3 552.1,1062.9 552.5,1064.5 553.0,1061.9 553.4,1062.6 553.9,1063.7 554.3,1062.3 554.8,1062.4 555.2,1062.6 555.7,1062.4 556.1,1059.5 556.6,1059.0 557.0,1058.2 557.5,1056.2 557.9,1060.1 558.4,1056.3 558.8,1053.8 559.3,1053.5 559.7,1052.4 560.2,1051.6 560.6,1053.7 561.1,1049.8 561.5,1051.9 562.0,1049.4 562.4,1050.5 562.9,1050.0 563.3,1051.0 563.8,1049.9 564.2,1047.1 564.7,1047.2 565.1,1050.0 565.6,1043.5 566.0,1044.5 566.5,1042.5 566.9,1039.7 567.4,1044.0 567.8,1040.4 568.3,1040.0 568.7,1040.4 569.2,1035.3 569.6,1039.7 570.1,1039.4 570.5,1035.8 571.0,1036.1 571.4,1035.8 571.9,1030.9 572.3,1031.4 572.8,1031.7 573.2,1027.7 573.7,1030.2 574.1,1030.6 574.6,1030.0 575.0,1026.6 575.5,1026.8 575.9,1023.9 576.4,1023.0 576.8,1020.2 577.3,1016.8 577.7,1016.7 578.2,1013.8 578.6,1015.0 579.1,1010.8 579.5,1008.6 580.0,1007.0 580.4,1007.0 580.9,1008.5 581.3,1005.8 581.8,1006.4 582.2,1000.8 582.7,999.5 583.1,998.4 583.6,996.9 584.0,993.6 584.5,992.5 584.9,990.0 585.4,989.2 585.8,984.9 586.3,984.2 586.7,980.2 587.2,978.5 587.6,977.4 588.1,972.9 588.5,970.1 589.0,966.3 589.4,964.9 589.9,961.7 590.3,960.0 590.8,958.1 591.2,955.7 591.7,955.6 592.1,952.9 592.6,949.7 593.0,947.6 593.5,946.4 593.9,944.1 594.4,939.7 594.8,938.6 595.3,937.3 595.7,936.9 596.2,935.9 596.6,932.3 597.1,933.2 597.5,932.1 598.0,931.9 598.4,929.2 598.9,927.4 599.3,925.3 599.8,925.7 600.2,925.3 600.7,923.2 601.1,919.9 601.6,917.1 602.0,915.1 602.5,912.3 602.9,910.3 603.4,906.6 603.8,901.7 604.3,897.5 604.7,892.3 605.2,888.0 605.6,882.7 606.1,877.7 606.5,873.0 607.0,869.1 607.4,866.2 607.9,861.0 608.3,859.2 608.8,856.7 609.2,854.8 609.7,850.7 610.1,847.9 610.6,845.6 611.0,842.4 611.5,840.2 611.9,837.4 612.4,833.4 612.8,830.1 613.3,825.6 613.7,822.7 614.2,819.0 614.6,813.9 615.1,809.7 615.5,805.5 616.0,801.1 616.4,796.2 616.9,791.7 617.3,788.3 617.8,784.7 618.2,780.9 618.7,777.1 619.1,774.2 619.6,769.9 620.0,766.4 620.5,761.6 620.9,756.5 621.4,750.9 621.8,744.8 622.3,739.4 622.7,734.3 623.2,727.8 623.6,722.4 624.1,716.2 624.5,710.3 625.0,704.2 625.4,698.1 625.9,691.1 626.3,685.1 626.8,678.7 627.2,672.5 627.7,665.2 628.1,658.1 628.6,650.9 629.0,644.4 629.5,637.5 629.9,630.6 630.4,624.0 630.8,616.7 631.3,610.0 631.7,604.0 632.2,598.7 632.6,592.4 633.1,586.0 633.5,580.3 634.0,574.1 634.4,567.8 634.9,562.3 635.3,556.1 635.8,550.1 636.2,544.8 636.7,539.0 637.1,533.5 637.6,527.7 638.0,521.6 638.5,515.7 638.9,508.9 639.4,502.4 639.8,496.7 640.3,489.8 640.7,484.2 641.2,479.4 641.6,474.8 642.1,469.8 642.5,465.8 643.0,460.9 643.4,457.9 643.9,454.1 644.3,451.3 644.8,448.5 645.2,444.3 645.7,443.5 646.1,441.3 646.6,437.0 647.0,436.6 647.5,432.6 647.9,433.3 648.4,432.9 648.8,434.2 649.3,436.9 649.7,439.4 650.2,440.1 650.6,443.3 651.1,447.2 651.5,451.4 652.0,453.3 652.4,457.2 652.9,459.6 653.3,462.3 653.8,465.9 654.2,468.7 654.7,472.4 655.1,475.3 655.6,479.7 656.0,485.0 656.5,489.3 656.9,495.0 657.4,501.9 657.8,508.7 658.3,515.2 658.7,521.8 659.2,526.5 659.6,532.5 660.1,537.8 660.5,544.1 661.0,550.1 661.4,556.4 661.9,561.5 662.3,568.0 662.8,574.7 663.2,580.5 663.7,586.4 664.1,592.1 664.6,599.2 665.0,604.9 665.5,610.9 665.9,616.7 666.4,623.2 666.8,629.0 667.3,634.8 667.7,641.7 668.2,647.0 668.6,651.5 669.1,656.7 669.5,662.6 670.0,668.8 670.4,677.4 670.9,684.7 671.3,692.8 671.8,701.5 672.2,709.8 672.7,718.0 673.1,724.0 673.6,728.4 674.0,733.0 674.5,738.2 674.9,741.8 675.4,745.3 675.8,749.1 676.3,752.1 676.7,757.6 677.2,763.1 677.6,767.1 678.1,770.7 678.5,775.2 679.0,781.3 679.4,787.1 679.9,791.9 680.3,794.7 680.8,798.8 681.2,802.1 681.7,805.6 682.1,809.1 682.6,812.2 683.0,815.2 683.5,819.2 683.9,823.0 684.4,828.0 684.8,832.9 685.3,836.3 685.7,840.3 686.2,844.9 686.6,851.2 687.1,855.9 687.5,860.9 688.0,864.5 688.4,868.8 688.9,873.3 689.3,875.7 689.8,878.1 690.2,881.9 690.7,885.4 691.1,888.0 691.6,892.3 692.0,895.8 692.5,898.8 692.9,902.1 693.4,906.0 693.8,905.7 694.3,908.4 694.7,910.0 695.2,912.1 695.6,914.5 696.1,916.7 696.5,916.0 697.0,917.9 697.4,918.8 697.9,921.6 698.3,925.1 698.8,927.0 699.2,928.0 699.7,930.0 700.1,931.4 700.6,932.4 701.0,933.5 701.5,935.8 701.9,937.1 702.4,938.6 702.8,942.1 703.3,942.7 703.7,945.1 704.2,948.3 704.6,949.2 705.1,949.1 705.5,951.3 706.0,953.0 706.4,955.3 706.9,957.4 707.3,958.0 707.8,958.8 708.2,959.0 708.7,959.8 709.1,961.5 709.6,962.2 710.0,960.7 710.5,964.2 710.9,963.9 711.4,964.7 711.8,964.5 712.3,965.5 712.7,966.3 713.2,970.0 713.6,971.3 714.1,971.8 714.5,971.8 715.0,971.9 715.4,972.0 715.9,974.7 716.3,971.0 716.8,967.4 717.2,968.0 717.7,973.1 718.1,975.3 718.6,971.2 719.0,979.2 719.5,976.6 719.9,980.3 720.4,972.3 720.8,982.0 721.3,985.3 721.7,983.9 722.2,978.4 722.6,977.8 723.1,984.8 723.5,981.8 724.0,975.8 724.4,978.6 724.9,975.6 725.3,983.3 725.8,985.3 726.2,984.9 726.7,985.8 727.1,975.2 727.6,976.6 728.0,981.3 728.5,977.6 728.9,978.4 729.4,977.8 729.8,976.1 730.3,987.1 730.7,974.6 731.2,976.5 731.6,970.5 732.1,983.2 732.5,973.3 733.0,976.6 733.4,983.8 733.9,982.5 734.3,979.5 734.8,976.5 735.2,987.2 735.7,982.5 736.1,979.2 736.6,983.9 737.0,973.6 737.5,980.3 737.9,974.9 738.4,973.0 738.8,973.9 739.3,980.1 739.7,980.2 740.2,977.9 740.6,980.6 741.1,974.3 741.5,977.2 742.0,977.1 742.4,973.8 742.9,977.2 743.3,973.5 743.8,983.4 744.2,975.5 744.7,978.4 745.1,978.0 745.6,975.3 746.0,972.6 746.5,974.8 746.9,971.2 747.4,969.8 747.8,970.2 748.3,967.3 748.7,969.4 749.2,973.9 749.6,969.7 750.1,974.3 750.5,973.2 751.0,969.3 751.4,968.7 751.9,966.1 752.3,964.4 752.8,967.0 753.2,962.8 753.7,964.3 754.1,962.7 754.6,963.9 755.0,964.1 755.5,963.9 755.9,960.7 756.4,959.2 756.8,953.8 757.3,953.2 757.7,954.8 758.2,954.5 758.6,950.1 759.1,950.7 759.5,949.0 760.0,946.9 760.4,947.0 760.9,947.0 761.3,946.6 761.8,947.4 762.2,947.4 762.7,947.0 763.1,944.4 763.6,942.8 764.0,942.3 764.5,938.0 764.9,939.3 765.4,935.7 765.8,933.6 766.3,934.4 766.7,931.1 767.2,929.1 767.6,929.0 768.1,928.4 768.5,925.7 769.0,924.0 769.4,919.2 769.9,919.5 770.3,917.1 770.8,913.6 771.2,911.9 771.7,908.8 772.1,909.3 772.6,904.7 773.0,902.2 773.5,899.8 773.9,895.7 774.4,891.4 774.8,888.5 775.3,884.1 775.7,879.3 776.2,875.5 776.6,872.0 777.1,870.4 777.5,867.7 778.0,865.0 778.4,863.6 778.9,860.2 779.3,856.6 779.8,851.7 780.2,846.9 780.7,840.7 781.1,835.3 781.6,829.6 782.0,823.8 782.5,817.2 782.9,810.7 783.4,802.9 783.8,795.0 784.3,787.6 784.7,780.2 785.2,773.1 785.6,765.6 786.1,759.2 786.5,752.5 787.0,745.4 787.4,738.0 787.9,730.3 788.3,721.2 788.8,711.2 789.2,701.1 789.7,691.0 790.1,682.9 790.6,675.2 791.0,668.3 791.5,660.7 791.9,654.3 792.4,647.9 792.8,641.4 793.3,635.5 793.7,630.8 794.2,626.9 794.6,623.5 795.1,618.6 795.5,615.8 796.0,613.0 796.4,607.9 796.9,606.1 797.3,603.8 797.8,601.0 798.2,599.2 798.7,598.4 799.1,596.6 799.6,597.9 800.0,598.5 800.5,595.8 800.9,594.8 801.4,593.9 801.8,591.4 802.3,594.3 802.7,593.7 803.2,595.5 803.6,594.2 804.1,596.7 804.5,599.9 805.0,601.3 805.4,604.5 805.9,606.7 806.3,609.3 806.8,611.5 807.2,613.3 807.7,617.5 808.1,621.7 808.6,626.4 809.0,631.9 809.5,635.9 809.9,642.3 810.4,648.6 810.8,654.0 811.3,659.8 811.7,665.2 812.2,672.2 812.6,678.7 813.1,685.8 813.5,693.1 814.0,698.0 814.4,703.0 814.9,706.3 815.3,710.4 815.8,713.7 816.2,717.9 816.7,722.6 817.1,727.5 817.6,733.5 818.0,739.9 818.5,746.4 818.9,753.2 819.4,761.4 819.8,769.7 820.3,777.9 820.7,787.0 821.2,796.5 821.6,805.5 822.1,814.3 822.5,823.1 823.0,831.8 823.4,841.0 823.9,850.7 824.3,860.6 824.8,870.1 825.2,878.8 825.7,887.5 826.1,896.7 826.6,906.0 827.0,914.0 827.5,921.6 827.9,929.4 828.4,936.9 828.8,943.0 829.3,948.8 829.7,954.3 830.2,959.2 830.6,965.1 831.1,969.1 831.5,973.9 832.0,978.0 832.4,983.4 832.9,989.4 833.3,993.5 833.8,997.4 834.2,1001.3 834.7,1007.0 835.1,1012.4 835.6,1017.9 836.0,1024.1 836.5,1030.3 836.9,1035.7 837.4,1040.6 837.8,1046.5 838.3,1051.4 838.7,1056.6 839.2,1061.0 839.6,1066.2 840.1,1069.5 840.5,1073.9 841.0,1078.8 841.4,1081.5 841.9,1085.3 842.3,1088.0 842.8,1092.0 843.2,1094.0 843.7,1096.9 844.1,1101.0 844.6,1103.2 845.0,1106.9 845.5,1109.4 845.9,1110.4 846.4,1114.0 846.8,1114.3 847.3,1117.8 847.7,1118.4 848.2,1121.2 848.6,1122.2 849.1,1125.9 849.5,1127.6 850.0,1131.1 850.4,1133.4 850.9,1133.6 851.3,1135.1 851.8,1135.1 852.2,1138.8 852.7,1141.1 853.1,1144.2 853.6,1146.9 854.0,1147.1 854.5,1149.9 854.9,1151.4 855.4,1151.0 855.8,1152.9 856.3,1154.1 856.7,1155.0 857.2,1156.7 857.6,1157.1 858.1,1161.1 858.5,1161.2 859.0,1161.4 859.4,1166.0 859.9,1162.7 860.3,1169.6 860.8,1169.6 861.2,1167.2 861.7,1172.2 862.1,1172.4 862.6,1170.7 863.0,1175.4 863.5,1176.9 863.9,1173.3 864.4,1176.6 864.8,1175.9 865.3,1180.7 865.7,1177.4 866.2,1177.7 866.6,1177.9 867.1,1181.7 867.5,1178.7 868.0,1183.8 868.4,1178.2 868.9,1180.7 869.3,1178.4 869.8,1180.0 870.2,1179.5 870.7,1182.5 871.1,1181.5 871.6,1183.0 872.0,1189.4 872.5,1186.9 872.9,1180.8 873.4,1186.5 873.8,1189.6 874.3,1183.6 874.7,1183.2 875.2,1186.7 875.6,1188.8 876.1,1189.0 876.5,1190.9 877.0,1187.6 877.4,1188.4 877.9,1192.4 878.3,1196.2 878.8,1189.9 879.2,1191.4 879.7,1190.9 880.1,1193.0 880.6,1190.0 881.0,1192.1 881.5,1193.9 881.9,1192.9 882.4,1194.1 882.8,1199.8 883.3,1193.7 883.7,1193.2 884.2,1199.6 884.6,1194.3 885.1,1192.8 885.5,1191.1 886.0,1202.9 886.4,1199.3 886.9,1201.5 887.3,1195.0 887.8,1203.2 888.2,1197.2 888.7,1203.1 889.1,1202.9 889.6,1204.5 890.0,1200.9 890.5,1208.3 890.9,1198.6 891.4,1204.0 891.8,1203.7 892.3,1210.1 892.7,1204.9 893.2,1207.2 893.6,1208.2 894.1,1215.8 894.5,1211.9 895.0,1203.3 895.4,1210.9 895.9,1209.5 896.3,1208.1 896.8,1206.5 897.2,1202.9 897.7,1210.2 898.1,1209.1 898.6,1205.3 899.0,1202.0 899.5,1213.9 899.9,1215.3 900.4,1203.7 900.8,1214.1 901.3,1207.7 901.7,1210.5 902.2,1213.0 902.6,1214.1 903.1,1212.1 903.5,1209.8 904.0,1210.4 904.4,1213.1 904.9,1208.6 905.3,1214.4 905.8,1216.3 906.2,1213.2 906.7,1213.8 907.1,1215.8 907.6,1215.7 908.0,1215.8 908.5,1219.3 908.9,1209.6 909.4,1209.6 909.8,1215.6 910.3,1217.0 910.7,1220.8 911.2,1211.6 911.6,1217.5 912.1,1216.4 912.5,1210.2 913.0,1213.9 913.4,1211.9 913.9,1217.2 914.3,1215.7 914.8,1216.3 915.2,1217.9 915.7,1217.2 916.1,1223.0 916.6,1223.0 917.0,1216.2 917.5,1222.1 917.9,1220.9 918.4,1223.9 918.8,1227.6 919.3,1215.6 919.7,1221.8 920.2,1219.3 920.6,1221.2 921.1,1211.7 921.5,1224.4 922.0,1215.5 922.4,1218.6 922.9,1226.4 923.3,1214.4 923.8,1217.1 924.2,1210.7 924.7,1210.6 925.1,1222.8 925.6,1217.1 926.0,1222.3 926.5,1224.2 926.9,1217.2 927.4,1221.6 927.8,1210.0 928.3,1211.1 928.7,1212.9 929.2,1213.6 929.6,1215.0 930.1,1214.7 930.5,1213.8 931.0,1213.7 931.4,1219.0 931.9,1216.4 932.3,1224.8 932.8,1223.7 933.2,1225.9 933.7,1221.8 934.1,1224.3 934.6,1231.3 935.0,1221.5 935.5,1216.1 935.9,1215.0 936.4,1227.2 936.8,1219.0 937.3,1227.9 937.7,1221.4 938.2,1223.2 938.6,1216.6 939.1,1227.0 939.5,1217.6 940.0,1229.3 940.4,1219.4 940.9,1230.7 941.3,1220.2 941.8,1222.1 942.2,1221.4 942.7,1222.4 943.1,1216.3 943.6,1222.7 944.0,1219.1 944.5,1226.0 944.9,1222.7 945.4,1220.6 945.8,1222.9 946.3,1221.7 946.7,1225.1 947.2,1221.0 947.6,1228.4 948.1,1224.5 948.5,1229.9 949.0,1224.0 949.4,1226.0 949.9,1228.2 950.3,1217.7 950.8,1230.9 951.2,1224.9 951.7,1219.9 952.1,1223.3 952.6,1221.8 953.0,1216.7 953.5,1221.0 953.9,1219.8 954.4,1229.3 954.8,1228.8 955.3,1227.2 955.7,1217.2 956.2,1223.9 956.6,1217.6 957.1,1221.5 957.5,1216.2 958.0,1222.2 958.4,1220.0 958.9,1224.0 959.3,1216.8 959.8,1217.9 960.2,1226.4 960.7,1224.5 961.1,1225.3 961.6,1222.8 962.0,1222.3 962.5,1226.5 962.9,1222.3 963.4,1222.5 963.8,1220.1 964.3,1219.3 964.7,1226.8 965.2,1220.6 965.6,1226.3 966.1,1218.9 966.5,1224.6 967.0,1218.2 967.4,1226.8 967.9,1229.2 968.3,1222.7 968.8,1223.2 969.2,1228.1 969.7,1230.3 970.1,1225.9 970.6,1222.9 971.0,1228.3 971.5,1225.1 971.9,1227.8 972.4,1217.0 972.8,1216.0 973.3,1229.4 973.7,1223.2 974.2,1224.2 974.6,1222.3 975.1,1216.8 975.5,1217.4 976.0,1224.2 976.4,1216.0 976.9,1225.2 977.3,1222.7 977.8,1225.7 978.2,1223.8 978.7,1217.8 979.1,1220.5 979.6,1223.6 980.0,1226.9 980.5,1226.2 980.9,1230.0 981.4,1222.4 981.8,1226.5 982.3,1220.4 982.7,1222.4 983.2,1226.8 983.6,1218.2 984.1,1223.4 984.5,1216.4 985.0,1221.6 985.4,1223.7 985.9,1220.1 986.3,1228.1 986.8,1220.9 987.2,1228.1 987.7,1228.7 988.1,1225.1 988.6,1221.5 989.0,1225.3 989.5,1226.2 989.9,1228.9 990.4,1224.5 990.8,1219.7 991.3,1223.8 991.7,1216.8 992.2,1223.9 992.6,1216.9 993.1,1223.5 993.5,1231.0 994.0,1221.5 994.4,1225.5 994.9,1223.2 995.3,1225.5 995.8,1222.4 996.2,1219.0 996.7,1222.0 997.1,1228.5 997.6,1226.9 998.0,1224.6 998.5,1223.3 998.9,1216.6 999.4,1220.6 999.8,1223.4 1000.3,1220.9 1000.7,1225.2 1001.2,1222.0 1001.6,1227.9 1002.1,1230.4 1002.5,1231.2 1003.0,1229.0 1003.4,1228.8 1003.9,1231.0 1004.3,1226.1 1004.8,1223.9 1005.2,1225.9 1005.7,1233.4 1006.1,1226.8 1006.6,1227.0 1007.0,1221.7 1007.5,1228.1 1007.9,1228.6 1008.4,1226.0 1008.8,1220.4 1009.3,1222.9 1009.7,1224.8 1010.2,1220.1 1010.6,1220.2 1011.1,1227.2 1011.5,1223.6 1012.0,1226.9 1012.4,1230.0 1012.9,1231.1 1013.3,1218.4 1013.8,1220.3 1014.2,1231.8 1014.7,1229.0 1015.1,1227.2 1015.6,1229.7 1016.0,1230.2 1016.5,1219.8 1016.9,1218.4 1017.4,1227.8 1017.8,1217.0 1018.3,1226.1 1018.7,1224.8 1019.2,1222.9 1019.6,1217.8 1020.1,1224.2 1020.5,1227.0 1021.0,1222.1 1021.4,1225.3 1021.9,1222.5 1022.3,1217.9 1022.8,1219.0 1023.2,1221.9 1023.7,1224.8 1024.1,1220.7 1024.6,1226.1 1025.0,1222.9 1025.5,1221.4 1025.9,1222.0 1026.4,1226.3 1026.8,1228.5 1027.3,1230.9 1027.7,1227.8 1028.2,1225.1 1028.6,1229.0 1029.1,1234.4 1029.5,1227.9 1030.0,1226.1 1030.4,1231.8 1030.9,1222.8 1031.3,1230.5 1031.8,1220.4 1032.2,1223.3 1032.7,1223.5 1033.1,1223.8 1033.6,1222.5 1034.0,1218.6 1034.5,1220.0 1034.9,1218.3 1035.4,1224.5 1035.8,1224.4 1036.3,1228.6 1036.7,1222.7 1037.2,1224.0 1037.6,1222.3 1038.1,1229.1 1038.5,1225.3 1039.0,1229.3 1039.4,1219.5 1039.9,1222.1 1040.3,1229.4 1040.8,1225.1 1041.2,1225.4 1041.7,1231.9 1042.1,1225.7 1042.6,1220.9 1043.0,1218.6 1043.5,1222.4 1043.9,1227.6 1044.4,1220.4 1044.8,1229.9 1045.3,1226.6 1045.7,1227.4 1046.2,1223.0 1046.6,1231.0 1047.1,1230.0 1047.5,1224.7 1048.0,1218.2 1048.4,1220.5 1048.9,1216.5 1049.3,1219.7 1049.8,1220.2 1050.2,1221.2 1050.7,1219.5 1051.1,1220.4 1051.6,1228.9 1052.0,1219.7 1052.5,1228.8 1052.9,1229.8 1053.4,1228.9 1053.8,1226.0 1054.3,1223.7 1054.7,1221.4 1055.2,1222.8 1055.6,1225.8 1056.1,1224.5 1056.5,1224.9 1057.0,1222.6 1057.4,1222.1 1057.9,1225.8 1058.3,1222.0 1058.8,1227.7 1059.2,1229.5 1059.7,1223.0 1060.1,1231.9 1060.6,1230.5 1061.0,1230.2 1061.5,1222.2 1061.9,1227.7 1062.4,1224.5 1062.8,1228.3 1063.3,1223.4 1063.7,1220.9 1064.2,1224.1 1064.6,1219.3 1065.1,1226.5 1065.5,1222.9 1066.0,1222.0 1066.4,1222.8 1066.9,1231.7 1067.3,1221.7 1067.8,1233.7 1068.2,1226.1 1068.7,1229.0 1069.1,1223.8 1069.6,1222.0 1070.0,1222.4 1070.5,1224.5 1070.9,1224.7 1071.4,1224.3 1071.8,1222.7 1072.3,1226.3 1072.7,1230.1 1073.2,1220.5 1073.6,1223.7 1074.1,1231.0 1074.5,1219.0 1075.0,1219.4 1075.4,1223.3 1075.9,1227.5 1076.3,1225.8 1076.8,1226.0 1077.2,1223.7 1077.7,1224.2 1078.1,1220.0 1078.6,1227.0 1079.0,1226.1 1079.5,1226.1 1079.9,1222.9 1080.4,1221.3 1080.8,1222.2 1081.3,1226.1 1081.7,1229.2 1082.2,1220.1 1082.6,1219.8 1083.1,1224.2 1083.5,1225.3 1084.0,1219.7 1084.4,1221.0 1084.9,1222.1 1085.3,1228.2 1085.8,1228.7 1086.2,1230.4 1086.7,1221.8 1087.1,1222.8 1087.6,1230.3 1088.0,1228.8 1088.5,1225.4 1088.9,1228.7 1089.4,1236.5 1089.8,1231.5 1090.3,1232.3 1090.7,1229.2 1091.2,1226.8 1091.6,1228.3 1092.1,1228.3 1092.5,1224.6 1093.0,1227.0 1093.4,1226.2 1093.9,1233.3 1094.3,1224.0 1094.8,1229.1 1095.2,1233.1 1095.7,1223.4 1096.1,1224.9 1096.6,1227.9 1097.0,1219.9 1097.5,1222.3 1097.9,1230.4 1098.4,1224.7 1098.8,1224.4 1099.3,1221.1 1099.7,1224.0 1100.2,1222.8 1100.6,1226.1 1101.1,1220.0 1101.5,1225.4 1102.0,1220.5 1102.4,1219.0 1102.9,1223.6 1103.3,1215.6 1103.8,1217.0 1104.2,1225.8 1104.7,1228.0 1105.1,1226.4 1105.6,1231.0 1106.0,1221.7 1106.5,1220.7 1106.9,1225.7 1107.4,1227.3 1107.8,1226.8 1108.3,1226.1 1108.7,1224.2 1109.2,1222.0 1109.6,1222.4 1110.1,1221.0 1110.5,1221.3 1111.0,1227.1 1111.4,1227.2 1111.9,1219.7 1112.3,1227.4 1112.8,1222.8 1113.2,1226.2 1113.7,1218.1 1114.1,1227.1 1114.6,1229.6 1115.0,1223.7 1115.5,1227.4 1115.9,1228.4 1116.4,1221.5 1116.8,1226.6 1117.3,1224.5 1117.7,1225.4 1118.2,1227.8 1118.6,1230.1 1119.1,1232.5 1119.5,1229.7 1120.0,1225.4 1120.4,1232.3 1120.9,1230.4 1121.3,1221.4 1121.8,1232.0 1122.2,1225.1 1122.7,1218.9 1123.1,1218.3 1123.6,1227.9 1124.0,1227.7 1124.5,1224.2 1124.9,1228.2 1125.4,1222.6 1125.8,1220.0 1126.3,1229.7 1126.7,1222.0 1127.2,1229.6 1127.6,1223.6 1128.1,1222.1 1128.5,1226.9 1129.0,1226.3 1129.4,1225.2 1129.9,1227.0 1130.3,1225.5 1130.8,1222.7 1131.2,1225.1 1131.7,1224.5 1132.1,1232.0 1132.6,1225.9 1133.0,1219.4 1133.5,1228.7 1133.9,1229.9 1134.4,1233.7 1134.8,1230.2 1135.3,1225.0 1135.7,1217.5 1136.2,1218.1 1136.6,1219.9 1137.1,1223.1 1137.5,1227.2 1138.0,1217.0 1138.4,1221.7 1138.9,1228.5 1139.3,1222.6 1139.8,1225.9 1140.2,1224.7 1140.7,1222.9 1141.1,1218.7 1141.6,1229.0 1142.0,1219.9 1142.5,1219.2 1142.9,1230.1 1143.4,1229.4 1143.8,1232.3 1144.3,1218.8 1144.7,1222.5 1145.2,1219.8 1145.6,1224.6 1146.1,1221.5 1146.5,1224.7 1147.0,1228.6 1147.4,1231.5 1147.9,1232.1 1148.3,1225.9 1148.8,1223.2 1149.2,1220.1 1149.7,1222.3 1150.1,1222.7 1150.6,1220.9 1151.0,1225.5 1151.5,1219.4 1151.9,1220.5 1152.4,1224.8 1152.8,1219.4 1153.3,1226.5 1153.7,1225.9 1154.2,1216.0 1154.6,1220.0 1155.1,1226.7 1155.5,1218.4 1156.0,1219.8 1156.4,1224.9 1156.9,1218.6 1157.3,1224.2 1157.8,1219.1 1158.2,1224.1 1158.7,1228.0 1159.1,1219.0 1159.6,1226.7 1160.0,1222.5 1160.5,1222.4 1160.9,1224.5 1161.4,1218.6 1161.8,1217.7 1162.3,1226.7 1162.7,1220.4 1163.2,1229.4 1163.6,1221.8 1164.1,1227.9 1164.5,1228.5 1165.0,1227.6 1165.4,1230.9 1165.9,1219.3 1166.3,1229.1 1166.8,1220.6 1167.2,1225.4 1167.7,1233.7 1168.1,1236.3 1168.6,1225.9 1169.0,1223.3 1169.5,1226.5 1169.9,1231.5 1170.4,1233.4 1170.8,1221.2 1171.3,1228.9 1171.7,1226.9 1172.2,1229.7 1172.6,1230.5 1173.1,1225.0 1173.5,1225.7 1174.0,1222.8 1174.4,1223.9 1174.9,1221.0 1175.3,1225.6 1175.8,1219.4 1176.2,1222.0 1176.7,1223.3 1177.1,1221.8 1177.6,1223.6 1178.0,1223.9 1178.5,1222.6 1178.9,1226.1 1179.4,1229.5 1179.8,1224.7 1180.3,1217.5 1180.7,1220.1 1181.2,1228.9 1181.6,1226.4 1182.1,1223.1 1182.5,1220.0 1183.0,1220.5 1183.4,1220.5 1183.9,1220.5 1184.3,1227.6 1184.8,1224.5 1185.2,1225.9 1185.7,1222.1 1186.1,1228.4 1186.6,1226.2 1187.0,1225.6 1187.5,1220.7 1187.9,1223.3 1188.4,1228.8 1188.8,1223.4 1189.3,1223.8 1189.7,1229.1 1190.2,1219.7 1190.6,1222.7 1191.1,1229.5 1191.5,1227.7 1192.0,1225.1 1192.4,1219.3 1192.9,1214.7 1193.3,1218.9 1193.8,1217.2 1194.2,1217.5 1194.7,1219.5 1195.1,1218.6 1195.6,1228.9 1196.0,1227.4 1196.5,1225.7 1196.9,1224.4 1197.4,1219.1 1197.8,1219.5 1198.3,1221.9 1198.7,1220.0 1199.2,1216.9 1199.6,1216.7 1200.1,1216.0 1200.5,1221.5 1201.0,1224.3 1201.4,1223.0 1201.9,1220.2 1202.3,1220.5 1202.8,1222.6 1203.2,1223.9 1203.7,1221.9 1204.1,1220.3 1204.6,1218.7 1205.0,1224.0 1205.5,1229.6 1205.9,1228.3 1206.4,1233.0 1206.8,1228.3 1207.3,1221.7 1207.7,1229.8 1208.2,1219.4 1208.6,1220.1 1209.1,1217.1 1209.5,1219.3 1210.0,1222.3 1210.4,1223.8 1210.9,1222.0 1211.3,1222.4 1211.8,1224.8 1212.2,1223.6 1212.7,1229.3 1213.1,1216.2 1213.6,1219.7 1214.0,1224.3 1214.5,1219.3 1214.9,1227.8 1215.4,1221.7 1215.8,1218.5 1216.3,1225.1 1216.7,1225.5 1217.2,1226.2 1217.6,1220.5 1218.1,1227.8 1218.5,1219.1 1219.0,1221.6 1219.4,1226.5 1219.9,1224.0 1220.3,1226.1 1220.8,1227.8 1221.2,1228.1 1221.7,1222.7 1222.1,1221.0 1222.6,1225.7 1223.0,1227.0 1223.5,1225.4 1223.9,1226.7 1224.4,1230.2 1224.8,1225.6 1225.3,1221.0 1225.7,1218.3 1226.2,1226.4 1226.6,1220.6 1227.1,1221.8 1227.5,1225.3 1228.0,1218.7 1228.4,1217.7 1228.9,1225.3 1229.3,1223.0 1229.8,1219.7 1230.2,1211.6 1230.7,1213.2 1231.1,1223.6 1231.6,1225.4 1232.0,1216.9 1232.5,1220.9 1232.9,1217.3 1233.4,1218.4 1233.8,1214.3 1234.3,1222.9 1234.7,1214.9 1235.2,1216.0 1235.6,1219.8 1236.1,1221.6 1236.5,1223.3 1237.0,1219.9 1237.4,1216.2 1237.9,1213.5 1238.3,1219.1 1238.8,1221.3 1239.2,1217.9 1239.7,1221.5 1240.1,1215.1 1240.6,1219.6 1241.0,1218.0 1241.5,1227.0 1241.9,1222.9 1242.4,1217.9 1242.8,1222.4 1243.3,1213.3 1243.7,1217.9 1244.2,1222.7 1244.6,1226.2 1245.1,1223.7 1245.5,1220.7 1246.0,1219.8 1246.4,1216.9 1246.9,1215.2 1247.3,1219.9 1247.8,1221.4 1248.2,1216.2 1248.7,1219.1 1249.1,1221.3 1249.6,1216.6 1250.0,1218.9 1250.5,1229.4 1250.9,1216.3 1251.4,1214.1 1251.8,1220.9 1252.3,1214.6 1252.7,1222.1 1253.2,1225.3 1253.6,1213.6 1254.1,1225.0 1254.5,1219.8 1255.0,1220.8 1255.4,1218.8 1255.9,1228.7 1256.3,1221.8 1256.8,1230.1 1257.2,1219.5 1257.7,1220.0 1258.1,1229.4 1258.6,1218.8 1259.0,1215.5 1259.5,1222.2 1259.9,1224.2 1260.4,1222.8 1260.8,1220.5 1261.3,1214.9 1261.7,1214.3 1262.2,1219.3 1262.6,1221.6 1263.1,1221.7 1263.5,1214.5 1264.0,1216.4 1264.4,1215.9 1264.9,1219.4 1265.3,1222.8 1265.8,1222.9 1266.2,1216.1 1266.7,1216.1 1267.1,1222.8 1267.6,1223.0 1268.0,1220.4 1268.5,1215.2 1268.9,1213.5 1269.4,1212.2 1269.8,1218.2 1270.3,1218.6 1270.7,1215.0 1271.2,1210.6 1271.6,1214.9 1272.1,1211.3 1272.5,1222.1 1273.0,1221.6 1273.4,1224.4 1273.9,1223.4 1274.3,1223.7 1274.8,1216.6 1275.2,1219.2 1275.7,1215.6 1276.1,1220.0 1276.6,1218.2 1277.0,1224.4 1277.5,1217.9 1277.9,1219.7 1278.4,1210.4 1278.8,1217.0 1279.3,1215.6 1279.7,1218.1 1280.2,1209.6 1280.6,1219.0 1281.1,1218.2 1281.5,1206.6 1282.0,1212.9 1282.4,1216.4 1282.9,1222.5 1283.3,1220.5 1283.8,1216.7 1284.2,1217.2 1284.7,1222.0 1285.1,1216.2 1285.6,1220.7 1286.0,1219.0 1286.5,1221.4 1286.9,1213.8 1287.4,1220.6 1287.8,1217.5 1288.3,1219.4 1288.7,1211.9 1289.2,1215.5 1289.6,1211.7 1290.1,1218.3 1290.5,1221.7 1291.0,1217.8 1291.4,1209.1 1291.9,1207.2 1292.3,1221.0 1292.8,1216.1 1293.2,1218.1 1293.7,1217.7 1294.1,1219.9 1294.6,1216.5 1295.0,1220.5 1295.5,1213.9 1295.9,1209.0 1296.4,1222.6 1296.8,1212.1 1297.3,1224.0 1297.7,1211.7 1298.2,1221.5 1298.6,1220.8 1299.1,1219.0 1299.5,1220.3 1300.0,1216.8 1300.4,1214.3 1300.9,1220.6 1301.3,1219.2 1301.8,1218.8 1302.2,1218.5 1302.7,1212.2 1303.1,1214.9 1303.6,1212.7 1304.0,1209.2 1304.5,1217.2 1304.9,1218.8 1305.4,1206.0 1305.8,1211.9 1306.3,1210.7 1306.7,1210.2 1307.2,1215.5 1307.6,1208.2 1308.1,1205.9 1308.5,1209.7 1309.0,1207.6 1309.4,1218.6 1309.9,1211.8 1310.3,1214.1 1310.8,1212.1 1311.2,1211.0 1311.7,1215.7 1312.1,1214.6 1312.6,1209.5 1313.0,1206.2 1313.5,1211.8 1313.9,1216.2 1314.4,1212.3 1314.8,1216.4 1315.3,1209.5 1315.7,1208.4 1316.2,1207.9 1316.6,1207.0 1317.1,1205.2 1317.5,1204.7 1318.0,1209.1 1318.4,1214.6 1318.9,1212.7 1319.3,1208.1 1319.8,1204.7 1320.2,1210.2 1320.7,1209.4 1321.1,1202.3 1321.6,1206.8 1322.0,1204.3 1322.5,1207.9 1322.9,1200.6 1323.4,1203.1 1323.8,1203.2 1324.3,1212.1 1324.7,1203.7 1325.2,1204.9 1325.6,1203.5 1326.1,1208.8 1326.5,1214.3 1327.0,1207.5 1327.4,1207.5 1327.9,1209.0 1328.3,1210.6 1328.8,1204.0 1329.2,1201.3 1329.7,1211.8 1330.1,1208.8 1330.6,1212.1 1331.0,1207.7 1331.5,1204.9 1331.9,1200.3 1332.4,1206.2 1332.8,1210.2 1333.3,1204.3 1333.7,1206.4 1334.2,1216.5 1334.6,1209.9 1335.1,1205.1 1335.5,1207.3 1336.0,1212.4 1336.4,1210.0 1336.9,1203.7 1337.3,1212.5 1337.8,1207.4 1338.2,1212.7 1338.7,1206.7 1339.1,1206.2 1339.6,1205.1 1340.0,1200.2 1340.5,1201.1 1340.9,1200.6 1341.4,1203.7 1341.8,1207.5 1342.3,1201.1 1342.7,1197.3 1343.2,1205.9 1343.6,1197.8 1344.1,1196.9 1344.5,1205.9 1345.0,1206.7 1345.4,1207.7 1345.9,1199.2 1346.3,1203.7 1346.8,1200.9 1347.2,1204.7 1347.7,1207.3 1348.1,1207.2 1348.6,1198.3 1349.0,1202.1 1349.5,1209.6 1349.9,1200.4 1350.4,1203.1 1350.8,1210.4 1351.3,1205.8 1351.7,1203.9 1352.2,1205.7 1352.6,1205.2 1353.1,1202.3 1353.5,1206.1 1354.0,1202.1 1354.4,1204.0 1354.9,1210.1 1355.3,1208.4 1355.8,1209.9 1356.2,1202.0 1356.7,1207.0 1357.1,1201.4 1357.6,1199.8 1358.0,1212.5 1358.5,1204.7 1358.9,1201.0 1359.4,1208.9 1359.8,1198.7 1360.3,1201.1 1360.7,1197.8 1361.2,1204.4 1361.6,1204.3 1362.1,1199.7 1362.5,1199.3 1363.0,1198.2 1363.4,1200.6 1363.9,1197.0 1364.3,1201.4 1364.8,1196.1 1365.2,1202.5 1365.7,1198.0 1366.1,1202.6 1366.6,1203.0 1367.0,1201.9 1367.5,1201.9 1367.9,1201.6 1368.4,1207.3 1368.8,1203.7 1369.3,1199.7 1369.7,1196.0 1370.2,1204.1 1370.6,1198.5 1371.1,1199.2 1371.5,1199.5 1372.0,1194.5 1372.4,1196.3 1372.9,1201.3 1373.3,1196.5 1373.8,1201.4 1374.2,1203.7 1374.7,1208.1 1375.1,1208.1 1375.6,1203.4 1376.0,1205.7 1376.5,1199.3 1376.9,1194.5 1377.4,1210.3 1377.8,1205.0 1378.3,1195.2 1378.7,1197.1 1379.2,1193.8 1379.6,1201.5 1380.1,1199.1 1380.5,1192.8 1381.0,1200.5 1381.4,1200.7 1381.9,1191.1 1382.3,1191.5 1382.8,1192.6 1383.2,1186.8 1383.7,1193.3 1384.1,1188.5 1384.6,1196.3 1385.0,1193.3 1385.5,1195.9 1385.9,1202.5 1386.4,1195.2 1386.8,1193.2 1387.3,1196.3 1387.7,1198.4 1388.2,1191.6 1388.6,1196.5 1389.1,1195.0 1389.5,1195.4 1390.0,1200.2 1390.4,1195.5 1390.9,1198.0 1391.3,1196.4 1391.8,1200.8 1392.2,1194.6 1392.7,1187.9 1393.1,1194.1 1393.6,1197.6 1394.0,1197.4 1394.5,1195.7 1394.9,1194.6 1395.4,1196.3 1395.8,1193.4 1396.3,1190.4 1396.7,1195.4 1397.2,1200.1 1397.6,1197.5 1398.1,1188.6 1398.5,1188.7 1399.0,1189.8 1399.4,1198.4 1399.9,1198.3 1400.3,1191.1 1400.8,1188.3 1401.2,1196.0 1401.7,1193.1 1402.1,1189.9 1402.6,1191.5 1403.0,1192.1 1403.5,1189.7 1403.9,1192.6 1404.4,1190.3 1404.8,1189.9 1405.3,1193.9 1405.7,1189.6 1406.2,1193.0 1406.6,1194.2 1407.1,1191.6 1407.5,1195.2 1408.0,1194.1 1408.4,1190.9 1408.9,1187.4 1409.3,1187.4 1409.8,1192.7 1410.2,1195.3 1410.7,1195.8 1411.1,1199.5 1411.6,1188.2 1412.0,1191.5 1412.5,1197.3 1412.9,1191.0 1413.4,1188.3 1413.8,1193.6 1414.3,1184.0 1414.7,1190.3 1415.2,1186.3 1415.6,1187.0 1416.1,1181.7 1416.5,1184.0 1417.0,1191.5 1417.4,1192.4 1417.9,1188.3 1418.3,1184.9 1418.8,1188.5 1419.2,1194.3 1419.7,1188.3 1420.1,1193.8 1420.6,1183.9 1421.0,1176.0 1421.5,1181.1 1421.9,1186.4 1422.4,1178.8 1422.8,1178.9 1423.3,1179.9 1423.7,1179.3 1424.2,1188.5 1424.6,1176.5 1425.1,1187.0 1425.5,1179.3 1426.0,1185.1 1426.4,1184.6 1426.9,1187.2 1427.3,1179.9 1427.8,1184.1 1428.2,1178.8 1428.7,1180.1 1429.1,1178.9 1429.6,1186.2 1430.0,1187.6 1430.5,1188.3 1430.9,1180.7 1431.4,1178.4 1431.8,1184.0 1432.3,1181.8 1432.7,1186.0 1433.2,1179.6 1433.6,1179.4 1434.1,1179.0 1434.5,1180.3 1435.0,1176.2 1435.4,1174.0 1435.9,1174.7 1436.3,1180.9 1436.8,1180.8 1437.2,1178.7 1437.7,1177.0 1438.1,1174.9 1438.6,1179.6 1439.0,1172.5 1439.5,1171.8 1439.9,1170.3 1440.4,1176.3 1440.8,1175.5 1441.3,1174.7 1441.7,1176.6 1442.2,1172.1 1442.6,1170.9 1443.1,1173.6 1443.5,1172.7 1444.0,1171.4 1444.4,1174.3 1444.9,1174.7 1445.3,1177.0 1445.8,1173.3 1446.2,1168.7 1446.7,1176.0 1447.1,1173.0 1447.6,1175.7 1448.0,1172.4 1448.5,1170.1 1448.9,1175.8 1449.4,1171.0 1449.8,1169.9 1450.3,1164.4 1450.7,1168.3 1451.2,1163.2 1451.6,1169.3 1452.1,1161.6 1452.5,1167.8 1453.0,1166.1 1453.4,1166.7 1453.9,1166.6 1454.3,1164.3 1454.8,1160.1 1455.2,1165.9 1455.7,1162.4 1456.1,1162.4 1456.6,1162.7 1457.0,1163.8 1457.5,1167.1 1457.9,1160.2 1458.4,1155.3 1458.8,1151.2 1459.3,1160.5 1459.7,1158.7 1460.2,1155.1 1460.6,1156.5 1461.1,1157.6 1461.5,1150.9 1462.0,1157.3 1462.4,1159.1 1462.9,1154.0 1463.3,1161.1 1463.8,1160.1 1464.2,1154.4 1464.7,1155.8 1465.1,1156.2 1465.6,1154.3 1466.0,1158.0 1466.5,1154.6 1466.9,1156.7 1467.4,1159.1 1467.8,1154.3 1468.3,1156.7 1468.7,1158.2 1469.2,1154.2 1469.6,1157.3 1470.1,1147.4 1470.5,1153.5 1471.0,1151.7 1471.4,1152.6 1471.9,1149.2 1472.3,1147.7 1472.8,1150.3 1473.2,1157.7 1473.7,1156.8 1474.1,1151.4 1474.6,1146.5 1475.0,1154.8 1475.5,1146.4 1475.9,1146.7 1476.4,1148.7 1476.8,1144.1 1477.3,1146.2 1477.7,1150.7 1478.2,1147.3 1478.6,1144.4 1479.1,1147.3 1479.5,1142.8 1480.0,1149.2 1480.4,1145.2 1480.9,1150.3 1481.3,1149.6 1481.8,1145.6 1482.2,1149.1 1482.7,1148.4 1483.1,1153.5 1483.6,1150.1 1484.0,1149.2 1484.5,1152.1 1484.9,1149.8 1485.4,1144.7 1485.8,1151.4 1486.3,1148.5 1486.7,1150.5 1487.2,1151.2 1487.6,1150.7 1488.1,1158.5 1488.5,1149.4 1489.0,1157.4 1489.4,1151.4 1489.9,1155.2 1490.3,1158.5 1490.8,1158.2 1491.2,1150.1 1491.7,1156.5 1492.1,1155.9 1492.6,1159.3 1493.0,1153.9 1493.5,1158.0 1493.9,1155.3 1494.4,1152.8 1494.8,1155.0 1495.3,1146.9 1495.7,1149.6 1496.2,1153.4 1496.6,1160.1 1497.1,1155.6 1497.5,1150.0 1498.0,1158.3 1498.4,1155.7 1498.9,1157.2 1499.3,1156.7 1499.8,1152.4 1500.2,1156.1 1500.7,1148.5 1501.1,1154.8 1501.6,1157.2 1502.0,1154.8 1502.5,1148.7 1502.9,1156.0 1503.4,1153.1 1503.8,1156.4 1504.3,1150.6 1504.7,1151.3 1505.2,1156.2 1505.6,1155.4 1506.1,1155.4 1506.5,1157.1 1507.0,1156.5 1507.4,1154.2 1507.9,1155.6 1508.3,1161.3 1508.8,1159.0 1509.2,1165.8 1509.7,1162.3 1510.1,1156.9 1510.6,1156.9 1511.0,1158.8 1511.5,1163.3 1511.9,1160.7 1512.4,1165.6 1512.8,1166.9 1513.3,1169.5 1513.7,1168.3 1514.2,1163.2 1514.6,1165.8 1515.1,1173.6 1515.5,1171.7 1516.0,1174.2 1516.4,1172.4 1516.9,1167.3 1517.3,1171.8 1517.8,1170.2 1518.2,1169.4 1518.7,1174.3 1519.1,1169.0 1519.6,1175.3 1520.0,1172.2 1520.5,1179.1 1520.9,1171.9 1521.4,1178.9 1521.8,1179.3 1522.3,1180.0 1522.7,1173.8 1523.2,1177.1 1523.6,1180.3 1524.1,1179.6 1524.5,1183.3 1525.0,1184.5 1525.4,1183.8 1525.9,1185.9 1526.3,1182.6 1526.8,1183.7 1527.2,1184.5 1527.7,1182.6 1528.1,1179.6 1528.6,1186.7 1529.0,1187.1 1529.5,1184.5 1529.9,1189.6 1530.4,1188.5 1530.8,1180.2 1531.3,1180.9 1531.7,1183.4 1532.2,1185.0 1532.6,1189.9 1533.1,1185.3 1533.5,1181.7 1534.0,1178.3 1534.4,1186.3 1534.9,1180.1 1535.3,1184.6 1535.8,1175.5 1536.2,1179.1 1536.7,1182.2 1537.1,1185.1 1537.6,1183.1 1538.0,1182.1 1538.5,1182.3 1538.9,1181.4 1539.4,1182.9 1539.8,1189.0 1540.3,1184.0 1540.7,1182.1 1541.2,1181.3 1541.6,1186.5 1542.1,1185.2 1542.5,1184.9 1543.0,1187.6 1543.4,1185.3 1543.9,1177.0 1544.3,1187.5 1544.8,1185.6 1545.2,1189.7 1545.7,1187.8 1546.1,1185.5 1546.6,1187.2 1547.0,1185.5 1547.5,1186.9 1547.9,1188.7 1548.4,1183.4 1548.8,1180.5 1549.3,1186.7 1549.7,1176.7 1550.2,1182.2 1550.6,1191.2 1551.1,1190.9 1551.5,1187.5 1552.0,1194.6 1552.4,1194.8 1552.9,1189.2 1553.3,1183.5 1553.8,1183.5 1554.2,1187.2 1554.7,1184.2 1555.1,1187.0 1555.6,1189.6 1556.0,1190.3 1556.5,1196.4 1556.9,1194.8 1557.4,1187.5 1557.8,1191.4 1558.3,1184.3 1558.7,1187.3 1559.2,1189.7 1559.6,1189.9 1560.1,1187.1 1560.5,1193.2 1561.0,1195.1 1561.4,1185.7 1561.9,1185.7 1562.3,1185.0 1562.8,1190.7 1563.2,1194.4 1563.7,1187.1 1564.1,1186.3 1564.6,1195.6 1565.0,1187.5 1565.5,1191.8 1565.9,1197.0 1566.4,1187.9 1566.8,1195.7 1567.3,1193.1 1567.7,1194.4 1568.2,1192.5 1568.6,1189.8 1569.1,1182.3 1569.5,1180.2 1570.0,1188.2 1570.4,1185.8 1570.9,1185.6 1571.3,1180.8 1571.8,1182.2 1572.2,1179.4 1572.7,1182.5 1573.1,1194.3 1573.6,1188.7 1574.0,1180.7 1574.5,1185.0 1574.9,1184.4 1575.4,1191.5 1575.8,1193.4 1576.3,1187.8 1576.7,1190.5 1577.2,1184.6 1577.6,1183.8 1578.1,1188.5 1578.5,1181.7 1579.0,1189.8 1579.4,1191.9 1579.9,1184.7 1580.3,1192.5 1580.8,1185.6 1581.2,1192.4 1581.7,1184.8 1582.1,1182.1 1582.6,1180.5 1583.0,1176.4 1583.5,1182.2 1583.9,1182.4 1584.4,1187.7 1584.8,1183.7 1585.3,1191.1 1585.7,1184.4 1586.2,1180.9 1586.6,1182.8 1587.1,1184.6 1587.5,1183.9 1588.0,1182.5 1588.4,1180.2 1588.9,1191.4 1589.3,1185.8 1589.8,1181.9 1590.2,1188.8 1590.7,1184.9 1591.1,1187.6 1591.6,1188.9 1592.0,1192.1 1592.5,1191.9 1592.9,1188.4 1593.4,1191.4 1593.8,1189.0 1594.3,1188.4 1594.7,1186.1 1595.2,1186.6 1595.6,1180.6 1596.1,1182.7 1596.5,1183.8 1597.0,1177.0 1597.4,1179.0 1597.9,1178.2 1598.3,1182.1 1598.8,1181.7 1599.2,1188.5 1599.7,1190.3 1600.1,1188.0 1600.6,1184.1 1601.0,1183.0 1601.5,1190.0 1601.9,1194.2 1602.4,1187.1 1602.8,1180.9 1603.3,1185.2 1603.7,1179.1 1604.2,1180.1 1604.6,1179.5 1605.1,1181.7 1605.5,1176.6 1606.0,1184.6 1606.4,1190.2 1606.9,1189.0 1607.3,1186.1 1607.8,1178.2 1608.2,1179.5 1608.7,1187.7 1609.1,1180.5 1609.6,1185.3 1610.0,1185.2 1610.5,1175.1 1610.9,1186.0 1611.4,1181.5 1611.8,1182.4 1612.3,1190.5 1612.7,1180.5 1613.2,1186.9 1613.6,1180.7 1614.1,1188.2 1614.5,1182.9 1615.0,1181.3 1615.4,1178.5 1615.9,1188.5 1616.3,1183.9 1616.8,1185.4 1617.2,1187.2 1617.7,1180.6 1618.1,1176.9 1618.6,1175.1 1619.0,1178.7 1619.5,1177.1 1619.9,1169.7 1620.4,1174.1 1620.8,1179.4 1621.3,1181.5 1621.7,1175.7 1622.2,1178.4 1622.6,1174.0 1623.1,1173.0 1623.5,1178.4 1624.0,1179.4 1624.4,1179.0 1624.9,1187.1 1625.3,1173.1 1625.8,1178.2 1626.2,1179.2 1626.7,1174.9 1627.1,1181.2 1627.6,1180.3 1628.0,1174.9 1628.5,1177.4 1628.9,1182.6 1629.4,1182.3 1629.8,1175.9 1630.3,1177.5 1630.7,1175.3 1631.2,1175.6 1631.6,1174.0 1632.1,1172.3 1632.5,1173.5 1633.0,1176.1 1633.4,1172.7 1633.9,1178.4 1634.3,1183.4 1634.8,1182.3 1635.2,1178.9 1635.7,1182.5 1636.1,1180.1 1636.6,1175.2 1637.0,1176.7 1637.5,1175.9 1637.9,1174.0 1638.4,1172.5 1638.8,1179.0 1639.3,1180.6 1639.7,1182.4 1640.2,1178.4 1640.6,1178.3 1641.1,1176.7 1641.5,1186.7 1642.0,1183.6 1642.4,1183.6 1642.9,1184.8 1643.3,1177.5 1643.8,1176.0 1644.2,1178.7 1644.7,1184.9 1645.1,1177.0 1645.6,1181.5 1646.0,1186.1 1646.5,1188.1 1646.9,1186.7 1647.4,1185.9 1647.8,1188.4 1648.3,1188.7 1648.7,1182.5 1649.2,1185.4 1649.6,1185.5 1650.1,1189.8 1650.5,1187.8 1651.0,1186.3 1651.4,1194.0 1651.9,1186.2 1652.3,1186.7 1652.8,1193.5 1653.2,1191.2 1653.7,1194.6 1654.1,1194.2 1654.6,1191.3 1655.0,1193.5 1655.5,1190.3 1655.9,1190.9 1656.4,1194.1 1656.8,1194.3 1657.3,1201.2 1657.7,1194.2 1658.2,1195.8 1658.6,1200.6 1659.1,1193.7 1659.5,1195.8 1660.0,1197.0 1660.4,1194.9 1660.9,1194.9 1661.3,1202.8 1661.8,1198.3 1662.2,1194.3 1662.7,1196.0 1663.1,1201.6 1663.6,1200.4 1664.0,1200.3 1664.5,1205.0 1664.9,1206.3 1665.4,1206.1 1665.8,1202.8 1666.3,1205.2 1666.7,1207.8 1667.2,1210.5 1667.6,1207.2 1668.1,1210.0 1668.5,1206.9 1669.0,1203.3 1669.4,1204.3 1669.9,1205.2 1670.3,1203.8 1670.8,1209.9 1671.2,1212.5 1671.7,1208.1 1672.1,1207.6 1672.6,1211.3 1673.0,1205.5 1673.5,1210.2 1673.9,1212.8 1674.4,1209.0 1674.8,1215.4 1675.3,1211.7 1675.6,1212.9"/>
</g>
<rect x="122.9" y="1290" width="1555.1" height="1.6" fill="#d8d8d8"/>
<g fill="#000">
<rect x="122.75" y="36.6" width="4.5" height="1275.4"/>
<rect x="1673.6" y="36.6" width="4.6" height="1275.4"/>
<rect x="122.75" y="36.6" width="1555.45" height="4.5"/>
<rect x="122.75" y="1285.8" width="1555.45" height="4.3"/>
<rect x="432.85" y="1288" width="4.3" height="24"/>
<rect x="742.85" y="1288" width="4.3" height="24"/>
<rect x="1052.85" y="1288" width="4.3" height="24"/>
<rect x="1362.85" y="1288" width="4.3" height="24"/>
<rect x="277.85" y="1288" width="4.3" height="11.3"/>
<rect x="587.85" y="1288" width="4.3" height="11.3"/>
<rect x="897.85" y="1288" width="4.3" height="11.3"/>
<rect x="1207.85" y="1288" width="4.3" height="11.3"/>
<rect x="1517.85" y="1288" width="4.3" height="11.3"/>
</g>
<g fill="none" stroke-width="5.8">
<path stroke="#404040" d="M144.8,90.2H294.8"/>
<path stroke="#ff3131" d="M144.8,185.2H294.8"/>
<path stroke="#0070e6" d="M144.8,280.5H294.8"/>
</g>
<text id="l1" transform="translate(310,113.4) scale(1,1.03)" font-size="77" text-anchor="start">SPE</text>
<text id="l2" transform="translate(310,207.9) scale(1,1.03)" font-size="77" text-anchor="start">SPE/SWCNT</text>
<text id="l3" transform="translate(310,302.7) scale(1,1.03)" font-size="77" text-anchor="start">SPE/SWCNT/AuNPs</text>
<text id="db" transform="translate(538,411) scale(1,1.04)" font-size="65" text-anchor="start">D-Band</text>
<text id="gb" transform="translate(705,577) scale(1,1.04)" font-size="65" text-anchor="start">G-Band</text>
<text id="t500" transform="translate(125.0,1374) scale(1,1.05)" font-size="59.5" text-anchor="middle">500</text>
<text id="t1000" transform="translate(435.0,1374) scale(1,1.05)" font-size="59.5" text-anchor="middle">1000</text>
<text id="t1500" transform="translate(745.0,1374) scale(1,1.05)" font-size="59.5" text-anchor="middle">1500</text>
<text id="t2000" transform="translate(1055.0,1374) scale(1,1.05)" font-size="59.5" text-anchor="middle">2000</text>
<text id="t2500" transform="translate(1365.0,1374) scale(1,1.05)" font-size="59.5" text-anchor="middle">2500</text>
<text id="t3000" transform="translate(1675.0,1374) scale(1,1.05)" font-size="59.5" text-anchor="middle">3000</text>
<text id="xl" transform="translate(600,1469.3) scale(1,1.04)" font-size="78" text-anchor="start">Raman shift / cm<tspan font-size="52" dy="-23.5">−</tspan><tspan font-size="52" dy="-3.2">1</tspan></text>
<text id="yl" transform="translate(74.6,768.5) rotate(-90) scale(1,1.012)" font-size="77" text-anchor="start">Intensity</text>
</svg></body></html>
